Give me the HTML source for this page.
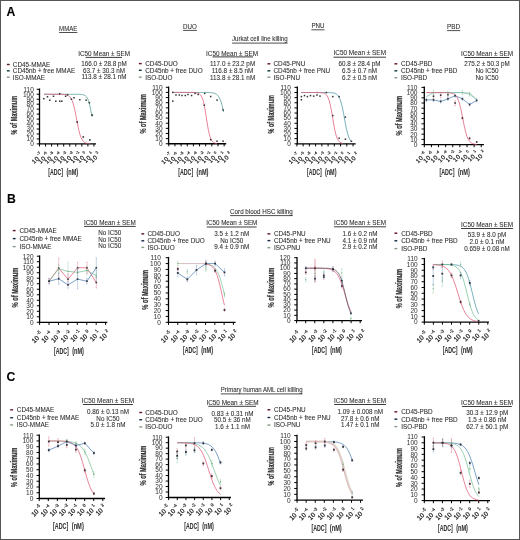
<!DOCTYPE html>
<html><head><meta charset="utf-8"><style>
html,body{margin:0;padding:0;background:#fff;width:520px;height:540px;overflow:hidden;}
svg text{font-family:"Liberation Sans", sans-serif;}
svg{will-change:transform;filter:blur(0.3px);}
</style></head><body>
<svg width="520" height="540" viewBox="0 0 520 540" style="display:block">
<g font-family='"Liberation Sans", sans-serif'>
<rect x="0" y="0" width="520" height="540" fill="#fff"/>
<text x="6.50" y="16.40" font-size="12.2" text-anchor="start" fill="#000" font-weight="bold" stroke="#000" stroke-width="0.08" >A</text>
<text x="6.90" y="202.50" font-size="12.2" text-anchor="start" fill="#000" font-weight="bold" stroke="#000" stroke-width="0.08" >B</text>
<text x="6.60" y="380.60" font-size="12.2" text-anchor="start" fill="#000" font-weight="bold" stroke="#000" stroke-width="0.08" >C</text>
<text transform="translate(59.10,30.80) scale(0.93,1)" x="0" y="0" font-size="6.7" text-anchor="start" fill="#2e2e2e" font-weight="normal" textLength="19.57" lengthAdjust="spacingAndGlyphs" stroke="#2e2e2e" stroke-width="0.08" >MMAE</text>
<line x1="59.10" y1="32.50" x2="77.30" y2="32.50" stroke="#222" stroke-width="0.8" />
<text transform="translate(183.10,28.70) scale(0.93,1)" x="0" y="0" font-size="6.7" text-anchor="start" fill="#2e2e2e" font-weight="normal" textLength="14.84" lengthAdjust="spacingAndGlyphs" stroke="#2e2e2e" stroke-width="0.08" >DUO</text>
<line x1="183.10" y1="30.40" x2="196.90" y2="30.40" stroke="#222" stroke-width="0.8" />
<text transform="translate(311.40,27.70) scale(0.93,1)" x="0" y="0" font-size="6.7" text-anchor="start" fill="#2e2e2e" font-weight="normal" textLength="14.09" lengthAdjust="spacingAndGlyphs" stroke="#2e2e2e" stroke-width="0.08" >PNU</text>
<line x1="311.40" y1="29.80" x2="324.50" y2="29.80" stroke="#222" stroke-width="0.8" />
<text transform="translate(447.10,28.70) scale(0.93,1)" x="0" y="0" font-size="6.7" text-anchor="start" fill="#2e2e2e" font-weight="normal" textLength="14.09" lengthAdjust="spacingAndGlyphs" stroke="#2e2e2e" stroke-width="0.08" >PBD</text>
<line x1="447.10" y1="30.60" x2="460.20" y2="30.60" stroke="#222" stroke-width="0.8" />
<text transform="translate(232.00,41.40) scale(0.93,1)" x="0" y="0" font-size="6.6" text-anchor="start" fill="#2e2e2e" font-weight="normal" textLength="59.78" lengthAdjust="spacingAndGlyphs" stroke="#2e2e2e" stroke-width="0.08" >Jurkat cell line killing</text>
<line x1="232.00" y1="43.10" x2="287.60" y2="43.10" stroke="#222" stroke-width="0.8" />
<line x1="6.40" y1="64.50" x2="10.20" y2="64.50" stroke="#f3b5c2" stroke-width="1.0" />
<rect x="7.00" y="63.80" width="2.6" height="1.4" fill="#5a1c2c"/>
<text transform="translate(12.80,66.80) scale(0.935,1)" x="0" y="0" font-size="6.8" text-anchor="start" fill="#2e2e2e" font-weight="normal" stroke="#2e2e2e" stroke-width="0.08" >CD45-MMAE</text>
<line x1="6.40" y1="70.80" x2="10.20" y2="70.80" stroke="#a8d8d4" stroke-width="1.0" />
<rect x="7.00" y="70.10" width="2.6" height="1.4" fill="#1c3a3c"/>
<text transform="translate(12.80,73.10) scale(0.935,1)" x="0" y="0" font-size="6.8" text-anchor="start" fill="#2e2e2e" font-weight="normal" stroke="#2e2e2e" stroke-width="0.08" >CD45nb + free MMAE</text>
<line x1="6.40" y1="77.20" x2="10.20" y2="77.20" stroke="#d5e3d5" stroke-width="1.0" />
<rect x="7.00" y="76.50" width="2.6" height="1.4" fill="#8a9a88"/>
<text transform="translate(12.80,79.50) scale(0.935,1)" x="0" y="0" font-size="6.8" text-anchor="start" fill="#2e2e2e" font-weight="normal" stroke="#2e2e2e" stroke-width="0.08" >ISO-MMAE</text>
<line x1="138.40" y1="63.60" x2="142.20" y2="63.60" stroke="#f3b5c2" stroke-width="1.0" />
<rect x="139.00" y="62.90" width="2.6" height="1.4" fill="#5a1c2c"/>
<text transform="translate(145.20,65.90) scale(0.935,1)" x="0" y="0" font-size="6.8" text-anchor="start" fill="#2e2e2e" font-weight="normal" stroke="#2e2e2e" stroke-width="0.08" >CD45-DUO</text>
<line x1="138.40" y1="70.30" x2="142.20" y2="70.30" stroke="#a8d8d4" stroke-width="1.0" />
<rect x="139.00" y="69.60" width="2.6" height="1.4" fill="#1c3a3c"/>
<text transform="translate(145.20,72.60) scale(0.935,1)" x="0" y="0" font-size="6.8" text-anchor="start" fill="#2e2e2e" font-weight="normal" stroke="#2e2e2e" stroke-width="0.08" >CD45nb + free DUO</text>
<line x1="138.40" y1="77.20" x2="142.20" y2="77.20" stroke="#d5e3d5" stroke-width="1.0" />
<rect x="139.00" y="76.50" width="2.6" height="1.4" fill="#8a9a88"/>
<text transform="translate(145.20,79.50) scale(0.935,1)" x="0" y="0" font-size="6.8" text-anchor="start" fill="#2e2e2e" font-weight="normal" stroke="#2e2e2e" stroke-width="0.08" >ISO-DUO</text>
<line x1="266.95" y1="63.80" x2="270.75" y2="63.80" stroke="#f3b5c2" stroke-width="1.0" />
<rect x="267.55" y="63.10" width="2.6" height="1.4" fill="#5a1c2c"/>
<text transform="translate(273.50,66.10) scale(0.935,1)" x="0" y="0" font-size="6.8" text-anchor="start" fill="#2e2e2e" font-weight="normal" stroke="#2e2e2e" stroke-width="0.08" >CD45-PNU</text>
<line x1="266.95" y1="70.80" x2="270.75" y2="70.80" stroke="#a8d8d4" stroke-width="1.0" />
<rect x="267.55" y="70.10" width="2.6" height="1.4" fill="#1c3a3c"/>
<text transform="translate(273.50,73.10) scale(0.935,1)" x="0" y="0" font-size="6.8" text-anchor="start" fill="#2e2e2e" font-weight="normal" stroke="#2e2e2e" stroke-width="0.08" >CD45nb + free PNU</text>
<line x1="266.95" y1="77.20" x2="270.75" y2="77.20" stroke="#d5e3d5" stroke-width="1.0" />
<rect x="267.55" y="76.50" width="2.6" height="1.4" fill="#8a9a88"/>
<text transform="translate(273.50,79.50) scale(0.935,1)" x="0" y="0" font-size="6.8" text-anchor="start" fill="#2e2e2e" font-weight="normal" stroke="#2e2e2e" stroke-width="0.08" >ISO-PNU</text>
<line x1="393.95" y1="63.80" x2="397.75" y2="63.80" stroke="#f3b5c2" stroke-width="1.0" />
<rect x="394.55" y="63.10" width="2.6" height="1.4" fill="#5a1c2c"/>
<text transform="translate(401.00,66.10) scale(0.935,1)" x="0" y="0" font-size="6.8" text-anchor="start" fill="#2e2e2e" font-weight="normal" stroke="#2e2e2e" stroke-width="0.08" >CD45-PBD</text>
<line x1="393.95" y1="70.80" x2="397.75" y2="70.80" stroke="#a8d8d4" stroke-width="1.0" />
<rect x="394.55" y="70.10" width="2.6" height="1.4" fill="#1c3a3c"/>
<text transform="translate(401.00,73.10) scale(0.935,1)" x="0" y="0" font-size="6.8" text-anchor="start" fill="#2e2e2e" font-weight="normal" stroke="#2e2e2e" stroke-width="0.08" >CD45nb + free PBD</text>
<line x1="393.95" y1="77.70" x2="397.75" y2="77.70" stroke="#d5e3d5" stroke-width="1.0" />
<rect x="394.55" y="77.00" width="2.6" height="1.4" fill="#8a9a88"/>
<text transform="translate(401.00,80.00) scale(0.935,1)" x="0" y="0" font-size="6.8" text-anchor="start" fill="#2e2e2e" font-weight="normal" stroke="#2e2e2e" stroke-width="0.08" >ISO-PBD</text>
<text transform="translate(78.20,55.70) scale(0.93,1)" x="0" y="0" font-size="6.8" text-anchor="start" fill="#2e2e2e" font-weight="normal" textLength="55.70" lengthAdjust="spacingAndGlyphs" stroke="#2e2e2e" stroke-width="0.08" >IC50 Mean ± SEM</text>
<line x1="85.60" y1="57.40" x2="121.90" y2="57.40" stroke="#1a1a1a" stroke-width="0.85" />
<text transform="translate(104.00,65.85) scale(0.93,1)" x="0" y="0" font-size="6.8" text-anchor="middle" fill="#2e2e2e" font-weight="normal" stroke="#2e2e2e" stroke-width="0.08" >166.0 ± 28.8 pM</text>
<text transform="translate(104.00,73.05) scale(0.93,1)" x="0" y="0" font-size="6.8" text-anchor="middle" fill="#2e2e2e" font-weight="normal" stroke="#2e2e2e" stroke-width="0.08" >63.7 ± 30.3 nM</text>
<text transform="translate(104.00,79.45) scale(0.93,1)" x="0" y="0" font-size="6.8" text-anchor="middle" fill="#2e2e2e" font-weight="normal" stroke="#2e2e2e" stroke-width="0.08" >113.8 ± 28.1 nM</text>
<text transform="translate(206.00,55.60) scale(0.93,1)" x="0" y="0" font-size="6.8" text-anchor="start" fill="#2e2e2e" font-weight="normal" textLength="56.02" lengthAdjust="spacingAndGlyphs" stroke="#2e2e2e" stroke-width="0.08" >IC50 Mean ± SEM</text>
<line x1="212.50" y1="56.90" x2="253.00" y2="56.90" stroke="#1a1a1a" stroke-width="0.85" />
<text transform="translate(232.60,66.05) scale(0.93,1)" x="0" y="0" font-size="6.8" text-anchor="middle" fill="#2e2e2e" font-weight="normal" stroke="#2e2e2e" stroke-width="0.08" >117.0 ± 23.2 pM</text>
<text transform="translate(232.60,73.05) scale(0.93,1)" x="0" y="0" font-size="6.8" text-anchor="middle" fill="#2e2e2e" font-weight="normal" stroke="#2e2e2e" stroke-width="0.08" >116.8 ± 8.5 nM</text>
<text transform="translate(232.60,79.65) scale(0.93,1)" x="0" y="0" font-size="6.8" text-anchor="middle" fill="#2e2e2e" font-weight="normal" stroke="#2e2e2e" stroke-width="0.08" >113.8 ± 28.1 nM</text>
<text transform="translate(333.50,55.10) scale(0.93,1)" x="0" y="0" font-size="6.8" text-anchor="start" fill="#2e2e2e" font-weight="normal" textLength="56.45" lengthAdjust="spacingAndGlyphs" stroke="#2e2e2e" stroke-width="0.08" >IC50 Mean ± SEM</text>
<line x1="333.50" y1="57.20" x2="386.00" y2="57.20" stroke="#1a1a1a" stroke-width="0.85" />
<text transform="translate(359.60,66.05) scale(0.93,1)" x="0" y="0" font-size="6.8" text-anchor="middle" fill="#2e2e2e" font-weight="normal" stroke="#2e2e2e" stroke-width="0.08" >60.8 ± 28.4 pM</text>
<text transform="translate(359.60,73.05) scale(0.93,1)" x="0" y="0" font-size="6.8" text-anchor="middle" fill="#2e2e2e" font-weight="normal" stroke="#2e2e2e" stroke-width="0.08" >6.5 ± 0.7 nM</text>
<text transform="translate(359.60,79.95) scale(0.93,1)" x="0" y="0" font-size="6.8" text-anchor="middle" fill="#2e2e2e" font-weight="normal" stroke="#2e2e2e" stroke-width="0.08" >6.2 ± 0.5 nM</text>
<text transform="translate(461.00,55.60) scale(0.93,1)" x="0" y="0" font-size="6.8" text-anchor="start" fill="#2e2e2e" font-weight="normal" textLength="56.02" lengthAdjust="spacingAndGlyphs" stroke="#2e2e2e" stroke-width="0.08" >IC50 Mean ± SEM</text>
<line x1="464.40" y1="57.50" x2="509.40" y2="57.50" stroke="#1a1a1a" stroke-width="0.85" />
<text transform="translate(487.00,66.05) scale(0.93,1)" x="0" y="0" font-size="6.8" text-anchor="middle" fill="#2e2e2e" font-weight="normal" stroke="#2e2e2e" stroke-width="0.08" >275.2 ± 50.3 pM</text>
<text transform="translate(487.00,73.25) scale(0.93,1)" x="0" y="0" font-size="6.8" text-anchor="middle" fill="#2e2e2e" font-weight="normal" stroke="#2e2e2e" stroke-width="0.08" >No IC50</text>
<text transform="translate(487.00,79.65) scale(0.93,1)" x="0" y="0" font-size="6.8" text-anchor="middle" fill="#2e2e2e" font-weight="normal" stroke="#2e2e2e" stroke-width="0.08" >No IC50</text>
<text transform="translate(230.10,213.80) scale(0.93,1)" x="0" y="0" font-size="6.6" text-anchor="start" fill="#2e2e2e" font-weight="normal" textLength="67.31" lengthAdjust="spacingAndGlyphs" stroke="#2e2e2e" stroke-width="0.08" >Cord blood HSC killing</text>
<line x1="230.10" y1="215.60" x2="292.70" y2="215.60" stroke="#222" stroke-width="0.8" />
<line x1="12.30" y1="230.60" x2="16.10" y2="230.60" stroke="#f3b5c2" stroke-width="1.0" />
<rect x="12.90" y="229.90" width="2.6" height="1.4" fill="#5a1c2c"/>
<text transform="translate(19.40,232.90) scale(0.935,1)" x="0" y="0" font-size="6.8" text-anchor="start" fill="#2e2e2e" font-weight="normal" stroke="#2e2e2e" stroke-width="0.08" >CD45-MMAE</text>
<line x1="12.30" y1="238.60" x2="16.10" y2="238.60" stroke="#b8cce6" stroke-width="1.0" />
<rect x="12.90" y="237.90" width="2.6" height="1.4" fill="#1c2c40"/>
<text transform="translate(19.40,240.90) scale(0.935,1)" x="0" y="0" font-size="6.8" text-anchor="start" fill="#2e2e2e" font-weight="normal" stroke="#2e2e2e" stroke-width="0.08" >CD45nb + free MMAE</text>
<line x1="12.30" y1="246.60" x2="16.10" y2="246.60" stroke="#d5e3d5" stroke-width="1.0" />
<rect x="12.90" y="245.90" width="2.6" height="1.4" fill="#8a9a88"/>
<text transform="translate(19.40,248.90) scale(0.935,1)" x="0" y="0" font-size="6.8" text-anchor="start" fill="#2e2e2e" font-weight="normal" stroke="#2e2e2e" stroke-width="0.08" >ISO-MMAE</text>
<line x1="140.90" y1="233.80" x2="144.70" y2="233.80" stroke="#f3b5c2" stroke-width="1.0" />
<rect x="141.50" y="233.10" width="2.6" height="1.4" fill="#5a1c2c"/>
<text transform="translate(147.40,236.10) scale(0.935,1)" x="0" y="0" font-size="6.8" text-anchor="start" fill="#2e2e2e" font-weight="normal" stroke="#2e2e2e" stroke-width="0.08" >CD45-DUO</text>
<line x1="140.90" y1="240.80" x2="144.70" y2="240.80" stroke="#b8cce6" stroke-width="1.0" />
<rect x="141.50" y="240.10" width="2.6" height="1.4" fill="#1c2c40"/>
<text transform="translate(147.40,243.10) scale(0.935,1)" x="0" y="0" font-size="6.8" text-anchor="start" fill="#2e2e2e" font-weight="normal" stroke="#2e2e2e" stroke-width="0.08" >CD45nb + free DUO</text>
<line x1="140.90" y1="247.40" x2="144.70" y2="247.40" stroke="#d5e3d5" stroke-width="1.0" />
<rect x="141.50" y="246.70" width="2.6" height="1.4" fill="#8a9a88"/>
<text transform="translate(147.40,249.70) scale(0.935,1)" x="0" y="0" font-size="6.8" text-anchor="start" fill="#2e2e2e" font-weight="normal" stroke="#2e2e2e" stroke-width="0.08" >ISO-DUO</text>
<line x1="267.00" y1="233.80" x2="270.80" y2="233.80" stroke="#f3b5c2" stroke-width="1.0" />
<rect x="267.60" y="233.10" width="2.6" height="1.4" fill="#5a1c2c"/>
<text transform="translate(273.90,236.10) scale(0.935,1)" x="0" y="0" font-size="6.8" text-anchor="start" fill="#2e2e2e" font-weight="normal" stroke="#2e2e2e" stroke-width="0.08" >CD45-PNU</text>
<line x1="267.00" y1="240.60" x2="270.80" y2="240.60" stroke="#b8cce6" stroke-width="1.0" />
<rect x="267.60" y="239.90" width="2.6" height="1.4" fill="#1c2c40"/>
<text transform="translate(273.90,242.90) scale(0.935,1)" x="0" y="0" font-size="6.8" text-anchor="start" fill="#2e2e2e" font-weight="normal" stroke="#2e2e2e" stroke-width="0.08" >CD45nb + free PNU</text>
<line x1="267.00" y1="247.70" x2="270.80" y2="247.70" stroke="#d5e3d5" stroke-width="1.0" />
<rect x="267.60" y="247.00" width="2.6" height="1.4" fill="#8a9a88"/>
<text transform="translate(273.90,250.00) scale(0.935,1)" x="0" y="0" font-size="6.8" text-anchor="start" fill="#2e2e2e" font-weight="normal" stroke="#2e2e2e" stroke-width="0.08" >ISO-PNU</text>
<line x1="393.95" y1="233.20" x2="397.75" y2="233.20" stroke="#f3b5c2" stroke-width="1.0" />
<rect x="394.55" y="232.50" width="2.6" height="1.4" fill="#5a1c2c"/>
<text transform="translate(401.25,235.50) scale(0.935,1)" x="0" y="0" font-size="6.8" text-anchor="start" fill="#2e2e2e" font-weight="normal" stroke="#2e2e2e" stroke-width="0.08" >CD45-PBD</text>
<line x1="393.95" y1="240.80" x2="397.75" y2="240.80" stroke="#b8cce6" stroke-width="1.0" />
<rect x="394.55" y="240.10" width="2.6" height="1.4" fill="#1c2c40"/>
<text transform="translate(401.25,243.10) scale(0.935,1)" x="0" y="0" font-size="6.8" text-anchor="start" fill="#2e2e2e" font-weight="normal" stroke="#2e2e2e" stroke-width="0.08" >CD45nb + free PBD</text>
<line x1="393.95" y1="248.60" x2="397.75" y2="248.60" stroke="#d5e3d5" stroke-width="1.0" />
<rect x="394.55" y="247.90" width="2.6" height="1.4" fill="#8a9a88"/>
<text transform="translate(401.25,250.90) scale(0.935,1)" x="0" y="0" font-size="6.8" text-anchor="start" fill="#2e2e2e" font-weight="normal" stroke="#2e2e2e" stroke-width="0.08" >ISO-PBD</text>
<text transform="translate(84.00,224.80) scale(0.93,1)" x="0" y="0" font-size="6.8" text-anchor="start" fill="#2e2e2e" font-weight="normal" textLength="55.59" lengthAdjust="spacingAndGlyphs" stroke="#2e2e2e" stroke-width="0.08" >IC50 Mean ± SEM</text>
<line x1="84.00" y1="226.40" x2="135.70" y2="226.40" stroke="#1a1a1a" stroke-width="0.85" />
<text transform="translate(109.70,234.85) scale(0.93,1)" x="0" y="0" font-size="6.8" text-anchor="middle" fill="#2e2e2e" font-weight="normal" stroke="#2e2e2e" stroke-width="0.08" >No IC50</text>
<text transform="translate(109.70,241.55) scale(0.93,1)" x="0" y="0" font-size="6.8" text-anchor="middle" fill="#2e2e2e" font-weight="normal" stroke="#2e2e2e" stroke-width="0.08" >No IC50</text>
<text transform="translate(109.70,248.35) scale(0.93,1)" x="0" y="0" font-size="6.8" text-anchor="middle" fill="#2e2e2e" font-weight="normal" stroke="#2e2e2e" stroke-width="0.08" >No IC50</text>
<text transform="translate(206.20,224.90) scale(0.93,1)" x="0" y="0" font-size="6.8" text-anchor="start" fill="#2e2e2e" font-weight="normal" textLength="54.95" lengthAdjust="spacingAndGlyphs" stroke="#2e2e2e" stroke-width="0.08" >IC50 Mean ± SEM</text>
<line x1="206.80" y1="227.00" x2="256.60" y2="227.00" stroke="#1a1a1a" stroke-width="0.85" />
<text transform="translate(231.70,235.65) scale(0.93,1)" x="0" y="0" font-size="6.8" text-anchor="middle" fill="#2e2e2e" font-weight="normal" stroke="#2e2e2e" stroke-width="0.08" >3.5 ± 1.2 nM</text>
<text transform="translate(231.70,242.85) scale(0.93,1)" x="0" y="0" font-size="6.8" text-anchor="middle" fill="#2e2e2e" font-weight="normal" stroke="#2e2e2e" stroke-width="0.08" >No IC50</text>
<text transform="translate(231.70,249.45) scale(0.93,1)" x="0" y="0" font-size="6.8" text-anchor="middle" fill="#2e2e2e" font-weight="normal" stroke="#2e2e2e" stroke-width="0.08" >9.4 ± 0.9 nM</text>
<text transform="translate(334.10,224.80) scale(0.93,1)" x="0" y="0" font-size="6.8" text-anchor="start" fill="#2e2e2e" font-weight="normal" textLength="55.81" lengthAdjust="spacingAndGlyphs" stroke="#2e2e2e" stroke-width="0.08" >IC50 Mean ± SEM</text>
<line x1="334.10" y1="226.80" x2="386.00" y2="226.80" stroke="#1a1a1a" stroke-width="0.85" />
<text transform="translate(359.90,235.85) scale(0.93,1)" x="0" y="0" font-size="6.8" text-anchor="middle" fill="#2e2e2e" font-weight="normal" stroke="#2e2e2e" stroke-width="0.08" >1.6 ± 0.2 nM</text>
<text transform="translate(359.90,242.65) scale(0.93,1)" x="0" y="0" font-size="6.8" text-anchor="middle" fill="#2e2e2e" font-weight="normal" stroke="#2e2e2e" stroke-width="0.08" >4.1 ± 0.9 nM</text>
<text transform="translate(359.90,249.45) scale(0.93,1)" x="0" y="0" font-size="6.8" text-anchor="middle" fill="#2e2e2e" font-weight="normal" stroke="#2e2e2e" stroke-width="0.08" >2.9 ± 0.2 nM</text>
<text transform="translate(461.00,227.00) scale(0.93,1)" x="0" y="0" font-size="6.8" text-anchor="start" fill="#2e2e2e" font-weight="normal" textLength="56.02" lengthAdjust="spacingAndGlyphs" stroke="#2e2e2e" stroke-width="0.08" >IC50 Mean ± SEM</text>
<line x1="461.00" y1="228.50" x2="513.10" y2="228.50" stroke="#1a1a1a" stroke-width="0.85" />
<text transform="translate(487.00,237.05) scale(0.93,1)" x="0" y="0" font-size="6.8" text-anchor="middle" fill="#2e2e2e" font-weight="normal" stroke="#2e2e2e" stroke-width="0.08" >53.9 ± 8.0 pM</text>
<text transform="translate(487.00,243.55) scale(0.93,1)" x="0" y="0" font-size="6.8" text-anchor="middle" fill="#2e2e2e" font-weight="normal" stroke="#2e2e2e" stroke-width="0.08" >2.0 ± 0.1 nM</text>
<text transform="translate(487.00,250.85) scale(0.93,1)" x="0" y="0" font-size="6.8" text-anchor="middle" fill="#2e2e2e" font-weight="normal" stroke="#2e2e2e" stroke-width="0.08" >0.659 ± 0.08 nM</text>
<text transform="translate(220.80,392.00) scale(0.93,1)" x="0" y="0" font-size="6.6" text-anchor="start" fill="#2e2e2e" font-weight="normal" textLength="87.85" lengthAdjust="spacingAndGlyphs" stroke="#2e2e2e" stroke-width="0.08" >Primary human AML cell killing</text>
<line x1="220.80" y1="393.90" x2="302.50" y2="393.90" stroke="#222" stroke-width="0.8" />
<line x1="9.70" y1="409.80" x2="13.50" y2="409.80" stroke="#f3b5c2" stroke-width="1.0" />
<rect x="10.30" y="409.10" width="2.6" height="1.4" fill="#5a1c2c"/>
<text transform="translate(16.80,412.10) scale(0.935,1)" x="0" y="0" font-size="6.8" text-anchor="start" fill="#2e2e2e" font-weight="normal" stroke="#2e2e2e" stroke-width="0.08" >CD45-MMAE</text>
<line x1="9.70" y1="417.70" x2="13.50" y2="417.70" stroke="#b8cce6" stroke-width="1.0" />
<rect x="10.30" y="417.00" width="2.6" height="1.4" fill="#1c2c40"/>
<text transform="translate(16.80,420.00) scale(0.935,1)" x="0" y="0" font-size="6.8" text-anchor="start" fill="#2e2e2e" font-weight="normal" stroke="#2e2e2e" stroke-width="0.08" >CD45nb + free MMAE</text>
<line x1="9.70" y1="424.90" x2="13.50" y2="424.90" stroke="#d5e3d5" stroke-width="1.0" />
<rect x="10.30" y="424.20" width="2.6" height="1.4" fill="#8a9a88"/>
<text transform="translate(16.80,427.20) scale(0.935,1)" x="0" y="0" font-size="6.8" text-anchor="start" fill="#2e2e2e" font-weight="normal" stroke="#2e2e2e" stroke-width="0.08" >ISO-MMAE</text>
<line x1="138.80" y1="412.50" x2="142.60" y2="412.50" stroke="#f3b5c2" stroke-width="1.0" />
<rect x="139.40" y="411.80" width="2.6" height="1.4" fill="#5a1c2c"/>
<text transform="translate(145.30,414.80) scale(0.935,1)" x="0" y="0" font-size="6.8" text-anchor="start" fill="#2e2e2e" font-weight="normal" stroke="#2e2e2e" stroke-width="0.08" >CD45-DUO</text>
<line x1="138.80" y1="419.70" x2="142.60" y2="419.70" stroke="#b8cce6" stroke-width="1.0" />
<rect x="139.40" y="419.00" width="2.6" height="1.4" fill="#1c2c40"/>
<text transform="translate(145.30,422.00) scale(0.935,1)" x="0" y="0" font-size="6.8" text-anchor="start" fill="#2e2e2e" font-weight="normal" stroke="#2e2e2e" stroke-width="0.08" >CD45nb + free DUO</text>
<line x1="138.80" y1="426.90" x2="142.60" y2="426.90" stroke="#d5e3d5" stroke-width="1.0" />
<rect x="139.40" y="426.20" width="2.6" height="1.4" fill="#8a9a88"/>
<text transform="translate(145.30,429.20) scale(0.935,1)" x="0" y="0" font-size="6.8" text-anchor="start" fill="#2e2e2e" font-weight="normal" stroke="#2e2e2e" stroke-width="0.08" >ISO-DUO</text>
<line x1="267.00" y1="409.80" x2="270.80" y2="409.80" stroke="#f3b5c2" stroke-width="1.0" />
<rect x="267.60" y="409.10" width="2.6" height="1.4" fill="#5a1c2c"/>
<text transform="translate(273.90,412.10) scale(0.935,1)" x="0" y="0" font-size="6.8" text-anchor="start" fill="#2e2e2e" font-weight="normal" stroke="#2e2e2e" stroke-width="0.08" >CD45-PNU</text>
<line x1="267.00" y1="417.50" x2="270.80" y2="417.50" stroke="#b8cce6" stroke-width="1.0" />
<rect x="267.60" y="416.80" width="2.6" height="1.4" fill="#1c2c40"/>
<text transform="translate(273.90,419.80) scale(0.935,1)" x="0" y="0" font-size="6.8" text-anchor="start" fill="#2e2e2e" font-weight="normal" stroke="#2e2e2e" stroke-width="0.08" >CD45nb + free PNU</text>
<line x1="267.00" y1="425.10" x2="270.80" y2="425.10" stroke="#d5e3d5" stroke-width="1.0" />
<rect x="267.60" y="424.40" width="2.6" height="1.4" fill="#8a9a88"/>
<text transform="translate(273.90,427.40) scale(0.935,1)" x="0" y="0" font-size="6.8" text-anchor="start" fill="#2e2e2e" font-weight="normal" stroke="#2e2e2e" stroke-width="0.08" >ISO-PNU</text>
<line x1="393.95" y1="411.80" x2="397.75" y2="411.80" stroke="#f3b5c2" stroke-width="1.0" />
<rect x="394.55" y="411.10" width="2.6" height="1.4" fill="#5a1c2c"/>
<text transform="translate(401.25,414.10) scale(0.935,1)" x="0" y="0" font-size="6.8" text-anchor="start" fill="#2e2e2e" font-weight="normal" stroke="#2e2e2e" stroke-width="0.08" >CD45-PBD</text>
<line x1="393.95" y1="419.20" x2="397.75" y2="419.20" stroke="#b8cce6" stroke-width="1.0" />
<rect x="394.55" y="418.50" width="2.6" height="1.4" fill="#1c2c40"/>
<text transform="translate(401.25,421.50) scale(0.935,1)" x="0" y="0" font-size="6.8" text-anchor="start" fill="#2e2e2e" font-weight="normal" stroke="#2e2e2e" stroke-width="0.08" >CD45nb + free PBD</text>
<line x1="393.95" y1="426.60" x2="397.75" y2="426.60" stroke="#d5e3d5" stroke-width="1.0" />
<rect x="394.55" y="425.90" width="2.6" height="1.4" fill="#8a9a88"/>
<text transform="translate(401.25,428.90) scale(0.935,1)" x="0" y="0" font-size="6.8" text-anchor="start" fill="#2e2e2e" font-weight="normal" stroke="#2e2e2e" stroke-width="0.08" >ISO-PBD</text>
<text transform="translate(81.80,402.50) scale(0.93,1)" x="0" y="0" font-size="6.8" text-anchor="start" fill="#2e2e2e" font-weight="normal" textLength="56.13" lengthAdjust="spacingAndGlyphs" stroke="#2e2e2e" stroke-width="0.08" >IC50 Mean ± SEM</text>
<line x1="82.90" y1="404.50" x2="132.90" y2="404.50" stroke="#1a1a1a" stroke-width="0.85" />
<text transform="translate(107.90,413.65) scale(0.93,1)" x="0" y="0" font-size="6.8" text-anchor="middle" fill="#2e2e2e" font-weight="normal" stroke="#2e2e2e" stroke-width="0.08" >0.86 ± 0.13 nM</text>
<text transform="translate(107.90,420.55) scale(0.93,1)" x="0" y="0" font-size="6.8" text-anchor="middle" fill="#2e2e2e" font-weight="normal" stroke="#2e2e2e" stroke-width="0.08" >No IC50</text>
<text transform="translate(107.90,427.25) scale(0.93,1)" x="0" y="0" font-size="6.8" text-anchor="middle" fill="#2e2e2e" font-weight="normal" stroke="#2e2e2e" stroke-width="0.08" >5.0 ± 1.8 nM</text>
<text transform="translate(206.40,404.70) scale(0.93,1)" x="0" y="0" font-size="6.8" text-anchor="start" fill="#2e2e2e" font-weight="normal" textLength="56.13" lengthAdjust="spacingAndGlyphs" stroke="#2e2e2e" stroke-width="0.08" >IC50 Mean ± SEM</text>
<line x1="208.20" y1="406.30" x2="256.00" y2="406.30" stroke="#1a1a1a" stroke-width="0.85" />
<text transform="translate(232.40,415.65) scale(0.93,1)" x="0" y="0" font-size="6.8" text-anchor="middle" fill="#2e2e2e" font-weight="normal" stroke="#2e2e2e" stroke-width="0.08" >0.83 ± 0.31 nM</text>
<text transform="translate(232.40,422.25) scale(0.93,1)" x="0" y="0" font-size="6.8" text-anchor="middle" fill="#2e2e2e" font-weight="normal" stroke="#2e2e2e" stroke-width="0.08" >50.5 ± 36 nM</text>
<text transform="translate(232.40,429.25) scale(0.93,1)" x="0" y="0" font-size="6.8" text-anchor="middle" fill="#2e2e2e" font-weight="normal" stroke="#2e2e2e" stroke-width="0.08" >1.6 ± 1.1 nM</text>
<text transform="translate(334.10,402.50) scale(0.93,1)" x="0" y="0" font-size="6.8" text-anchor="start" fill="#2e2e2e" font-weight="normal" textLength="55.81" lengthAdjust="spacingAndGlyphs" stroke="#2e2e2e" stroke-width="0.08" >IC50 Mean ± SEM</text>
<line x1="334.10" y1="404.50" x2="386.00" y2="404.50" stroke="#1a1a1a" stroke-width="0.85" />
<text transform="translate(360.20,413.65) scale(0.93,1)" x="0" y="0" font-size="6.8" text-anchor="middle" fill="#2e2e2e" font-weight="normal" stroke="#2e2e2e" stroke-width="0.08" >1.09 ± 0.008 nM</text>
<text transform="translate(360.20,420.55) scale(0.93,1)" x="0" y="0" font-size="6.8" text-anchor="middle" fill="#2e2e2e" font-weight="normal" stroke="#2e2e2e" stroke-width="0.08" >27.8 ± 0.6 nM</text>
<text transform="translate(360.20,427.25) scale(0.93,1)" x="0" y="0" font-size="6.8" text-anchor="middle" fill="#2e2e2e" font-weight="normal" stroke="#2e2e2e" stroke-width="0.08" >1.47 ± 0.1 nM</text>
<text transform="translate(461.00,404.75) scale(0.93,1)" x="0" y="0" font-size="6.8" text-anchor="start" fill="#2e2e2e" font-weight="normal" textLength="56.02" lengthAdjust="spacingAndGlyphs" stroke="#2e2e2e" stroke-width="0.08" >IC50 Mean ± SEM</text>
<line x1="461.90" y1="406.50" x2="511.90" y2="406.50" stroke="#1a1a1a" stroke-width="0.85" />
<text transform="translate(487.20,415.15) scale(0.93,1)" x="0" y="0" font-size="6.8" text-anchor="middle" fill="#2e2e2e" font-weight="normal" stroke="#2e2e2e" stroke-width="0.08" >30.3 ± 12.9 pM</text>
<text transform="translate(487.20,421.95) scale(0.93,1)" x="0" y="0" font-size="6.8" text-anchor="middle" fill="#2e2e2e" font-weight="normal" stroke="#2e2e2e" stroke-width="0.08" >1.5 ± 0.86 nM</text>
<text transform="translate(487.20,428.75) scale(0.93,1)" x="0" y="0" font-size="6.8" text-anchor="middle" fill="#2e2e2e" font-weight="normal" stroke="#2e2e2e" stroke-width="0.08" >62.7 ± 50.1 pM</text>
<line x1="36.70" y1="143.90" x2="39.50" y2="143.90" stroke="#000" stroke-width="1.0" />
<text x="33.80" y="146.20" font-size="6.5" text-anchor="end" fill="#3a3a3a" font-weight="normal" stroke="#3a3a3a" stroke-width="0.04" >0</text>
<line x1="36.70" y1="138.94" x2="39.50" y2="138.94" stroke="#000" stroke-width="1.0" />
<text x="33.80" y="141.24" font-size="6.5" text-anchor="end" fill="#3a3a3a" font-weight="normal" stroke="#3a3a3a" stroke-width="0.04" >10</text>
<line x1="36.70" y1="133.97" x2="39.50" y2="133.97" stroke="#000" stroke-width="1.0" />
<text x="33.80" y="136.27" font-size="6.5" text-anchor="end" fill="#3a3a3a" font-weight="normal" stroke="#3a3a3a" stroke-width="0.04" >20</text>
<line x1="36.70" y1="129.01" x2="39.50" y2="129.01" stroke="#000" stroke-width="1.0" />
<text x="33.80" y="131.31" font-size="6.5" text-anchor="end" fill="#3a3a3a" font-weight="normal" stroke="#3a3a3a" stroke-width="0.04" >30</text>
<line x1="36.70" y1="124.05" x2="39.50" y2="124.05" stroke="#000" stroke-width="1.0" />
<text x="33.80" y="126.35" font-size="6.5" text-anchor="end" fill="#3a3a3a" font-weight="normal" stroke="#3a3a3a" stroke-width="0.04" >40</text>
<line x1="36.70" y1="119.08" x2="39.50" y2="119.08" stroke="#000" stroke-width="1.0" />
<text x="33.80" y="121.38" font-size="6.5" text-anchor="end" fill="#3a3a3a" font-weight="normal" stroke="#3a3a3a" stroke-width="0.04" >50</text>
<line x1="36.70" y1="114.12" x2="39.50" y2="114.12" stroke="#000" stroke-width="1.0" />
<text x="33.80" y="116.42" font-size="6.5" text-anchor="end" fill="#3a3a3a" font-weight="normal" stroke="#3a3a3a" stroke-width="0.04" >60</text>
<line x1="36.70" y1="109.15" x2="39.50" y2="109.15" stroke="#000" stroke-width="1.0" />
<text x="33.80" y="111.45" font-size="6.5" text-anchor="end" fill="#3a3a3a" font-weight="normal" stroke="#3a3a3a" stroke-width="0.04" >70</text>
<line x1="36.70" y1="104.19" x2="39.50" y2="104.19" stroke="#000" stroke-width="1.0" />
<text x="33.80" y="106.49" font-size="6.5" text-anchor="end" fill="#3a3a3a" font-weight="normal" stroke="#3a3a3a" stroke-width="0.04" >80</text>
<line x1="36.70" y1="99.23" x2="39.50" y2="99.23" stroke="#000" stroke-width="1.0" />
<text x="33.80" y="101.53" font-size="6.5" text-anchor="end" fill="#3a3a3a" font-weight="normal" stroke="#3a3a3a" stroke-width="0.04" >90</text>
<line x1="36.70" y1="94.26" x2="39.50" y2="94.26" stroke="#000" stroke-width="1.0" />
<text x="33.80" y="96.56" font-size="6.5" text-anchor="end" fill="#3a3a3a" font-weight="normal" stroke="#3a3a3a" stroke-width="0.04" >100</text>
<line x1="36.70" y1="89.30" x2="39.50" y2="89.30" stroke="#000" stroke-width="1.0" />
<text x="33.80" y="91.60" font-size="6.5" text-anchor="end" fill="#3a3a3a" font-weight="normal" stroke="#3a3a3a" stroke-width="0.04" >110</text>
<line x1="39.50" y1="88.50" x2="39.50" y2="144.40" stroke="#000" stroke-width="1.3" />
<line x1="38.90" y1="143.90" x2="96.00" y2="143.90" stroke="#000" stroke-width="1.3" />
<line x1="39.50" y1="143.90" x2="39.50" y2="146.50" stroke="#000" stroke-width="1.0" />
<g transform="translate(36.60,158.70) rotate(-45)" fill="#222" stroke="#222" stroke-width="0.22"><text x="2.17" y="2.15" font-size="6.0" text-anchor="end" letter-spacing="0.5">10</text><text x="5.16" y="-1.15" font-size="3.7" text-anchor="middle" fill="#555">-7</text></g>
<line x1="45.55" y1="143.90" x2="45.55" y2="146.50" stroke="#000" stroke-width="1.0" />
<g transform="translate(43.07,158.58) rotate(-45)" fill="#222" stroke="#222" stroke-width="0.22"><text x="2.17" y="2.15" font-size="6.0" text-anchor="end" letter-spacing="0.5">10</text><text x="5.16" y="-1.15" font-size="3.7" text-anchor="middle" fill="#555">-6</text></g>
<line x1="51.60" y1="143.90" x2="51.60" y2="146.50" stroke="#000" stroke-width="1.0" />
<g transform="translate(49.53,158.46) rotate(-45)" fill="#222" stroke="#222" stroke-width="0.22"><text x="2.17" y="2.15" font-size="6.0" text-anchor="end" letter-spacing="0.5">10</text><text x="5.16" y="-1.15" font-size="3.7" text-anchor="middle" fill="#555">-5</text></g>
<line x1="57.65" y1="143.90" x2="57.65" y2="146.50" stroke="#000" stroke-width="1.0" />
<g transform="translate(56.00,158.33) rotate(-45)" fill="#222" stroke="#222" stroke-width="0.22"><text x="2.17" y="2.15" font-size="6.0" text-anchor="end" letter-spacing="0.5">10</text><text x="5.16" y="-1.15" font-size="3.7" text-anchor="middle" fill="#555">-4</text></g>
<line x1="63.70" y1="143.90" x2="63.70" y2="146.50" stroke="#000" stroke-width="1.0" />
<g transform="translate(62.47,158.21) rotate(-45)" fill="#222" stroke="#222" stroke-width="0.22"><text x="2.17" y="2.15" font-size="6.0" text-anchor="end" letter-spacing="0.5">10</text><text x="5.16" y="-1.15" font-size="3.7" text-anchor="middle" fill="#555">-3</text></g>
<line x1="69.75" y1="143.90" x2="69.75" y2="146.50" stroke="#000" stroke-width="1.0" />
<g transform="translate(68.93,158.09) rotate(-45)" fill="#222" stroke="#222" stroke-width="0.22"><text x="2.17" y="2.15" font-size="6.0" text-anchor="end" letter-spacing="0.5">10</text><text x="5.16" y="-1.15" font-size="3.7" text-anchor="middle" fill="#555">-2</text></g>
<line x1="75.80" y1="143.90" x2="75.80" y2="146.50" stroke="#000" stroke-width="1.0" />
<g transform="translate(75.40,157.97) rotate(-45)" fill="#222" stroke="#222" stroke-width="0.22"><text x="2.17" y="2.15" font-size="6.0" text-anchor="end" letter-spacing="0.5">10</text><text x="5.16" y="-1.15" font-size="3.7" text-anchor="middle" fill="#555">-1</text></g>
<line x1="81.85" y1="143.90" x2="81.85" y2="146.50" stroke="#000" stroke-width="1.0" />
<g transform="translate(81.87,157.84) rotate(-45)" fill="#222" stroke="#222" stroke-width="0.22"><text x="2.17" y="2.15" font-size="6.0" text-anchor="end" letter-spacing="0.5">10</text><text x="5.16" y="-1.15" font-size="3.7" text-anchor="middle" fill="#555">0</text></g>
<line x1="87.90" y1="143.90" x2="87.90" y2="146.50" stroke="#000" stroke-width="1.0" />
<g transform="translate(88.33,157.72) rotate(-45)" fill="#222" stroke="#222" stroke-width="0.22"><text x="2.17" y="2.15" font-size="6.0" text-anchor="end" letter-spacing="0.5">10</text><text x="5.16" y="-1.15" font-size="3.7" text-anchor="middle" fill="#555">1</text></g>
<line x1="93.95" y1="143.90" x2="93.95" y2="146.50" stroke="#000" stroke-width="1.0" />
<g transform="translate(94.80,157.60) rotate(-45)" fill="#222" stroke="#222" stroke-width="0.22"><text x="2.17" y="2.15" font-size="6.0" text-anchor="end" letter-spacing="0.5">10</text><text x="5.16" y="-1.15" font-size="3.7" text-anchor="middle" fill="#555">2</text></g>
<text x="0" y="0" font-size="8.2" font-weight="bold" text-anchor="middle" fill="#333" stroke="#333" stroke-width="0.25" textLength="38.4" lengthAdjust="spacingAndGlyphs" transform="translate(14.00,115.20) rotate(-90)" dy="2.9">% of Maximum</text>
<text x="48.20" y="175.20" font-size="8.6" font-weight="bold" fill="#333" stroke="#333" stroke-width="0.1" textLength="14.85" lengthAdjust="spacingAndGlyphs">[ADC]</text>
<text x="66.44" y="175.20" font-size="8.6" font-weight="bold" fill="#333" stroke="#333" stroke-width="0.1" textLength="11.76" lengthAdjust="spacingAndGlyphs">(nM)</text>
<line x1="165.80" y1="143.75" x2="168.60" y2="143.75" stroke="#000" stroke-width="1.0" />
<text x="162.60" y="146.05" font-size="6.5" text-anchor="end" fill="#3a3a3a" font-weight="normal" stroke="#3a3a3a" stroke-width="0.04" >0</text>
<line x1="165.80" y1="138.62" x2="168.60" y2="138.62" stroke="#000" stroke-width="1.0" />
<text x="162.60" y="140.92" font-size="6.5" text-anchor="end" fill="#3a3a3a" font-weight="normal" stroke="#3a3a3a" stroke-width="0.04" >10</text>
<line x1="165.80" y1="133.49" x2="168.60" y2="133.49" stroke="#000" stroke-width="1.0" />
<text x="162.60" y="135.79" font-size="6.5" text-anchor="end" fill="#3a3a3a" font-weight="normal" stroke="#3a3a3a" stroke-width="0.04" >20</text>
<line x1="165.80" y1="128.35" x2="168.60" y2="128.35" stroke="#000" stroke-width="1.0" />
<text x="162.60" y="130.65" font-size="6.5" text-anchor="end" fill="#3a3a3a" font-weight="normal" stroke="#3a3a3a" stroke-width="0.04" >30</text>
<line x1="165.80" y1="123.22" x2="168.60" y2="123.22" stroke="#000" stroke-width="1.0" />
<text x="162.60" y="125.52" font-size="6.5" text-anchor="end" fill="#3a3a3a" font-weight="normal" stroke="#3a3a3a" stroke-width="0.04" >40</text>
<line x1="165.80" y1="118.09" x2="168.60" y2="118.09" stroke="#000" stroke-width="1.0" />
<text x="162.60" y="120.39" font-size="6.5" text-anchor="end" fill="#3a3a3a" font-weight="normal" stroke="#3a3a3a" stroke-width="0.04" >50</text>
<line x1="165.80" y1="112.96" x2="168.60" y2="112.96" stroke="#000" stroke-width="1.0" />
<text x="162.60" y="115.26" font-size="6.5" text-anchor="end" fill="#3a3a3a" font-weight="normal" stroke="#3a3a3a" stroke-width="0.04" >60</text>
<line x1="165.80" y1="107.83" x2="168.60" y2="107.83" stroke="#000" stroke-width="1.0" />
<text x="162.60" y="110.13" font-size="6.5" text-anchor="end" fill="#3a3a3a" font-weight="normal" stroke="#3a3a3a" stroke-width="0.04" >70</text>
<line x1="165.80" y1="102.70" x2="168.60" y2="102.70" stroke="#000" stroke-width="1.0" />
<text x="162.60" y="105.00" font-size="6.5" text-anchor="end" fill="#3a3a3a" font-weight="normal" stroke="#3a3a3a" stroke-width="0.04" >80</text>
<line x1="165.80" y1="97.56" x2="168.60" y2="97.56" stroke="#000" stroke-width="1.0" />
<text x="162.60" y="99.86" font-size="6.5" text-anchor="end" fill="#3a3a3a" font-weight="normal" stroke="#3a3a3a" stroke-width="0.04" >90</text>
<line x1="165.80" y1="92.43" x2="168.60" y2="92.43" stroke="#000" stroke-width="1.0" />
<text x="162.60" y="94.73" font-size="6.5" text-anchor="end" fill="#3a3a3a" font-weight="normal" stroke="#3a3a3a" stroke-width="0.04" >100</text>
<line x1="165.80" y1="87.30" x2="168.60" y2="87.30" stroke="#000" stroke-width="1.0" />
<text x="162.60" y="89.60" font-size="6.5" text-anchor="end" fill="#3a3a3a" font-weight="normal" stroke="#3a3a3a" stroke-width="0.04" >110</text>
<line x1="168.60" y1="86.50" x2="168.60" y2="144.25" stroke="#000" stroke-width="1.3" />
<line x1="168.00" y1="143.75" x2="226.20" y2="143.75" stroke="#000" stroke-width="1.3" />
<line x1="168.80" y1="143.75" x2="168.80" y2="146.35" stroke="#000" stroke-width="1.0" />
<g transform="translate(166.20,159.00) rotate(-45)" fill="#222" stroke="#222" stroke-width="0.22"><text x="2.17" y="2.15" font-size="6.0" text-anchor="end" letter-spacing="0.5">10</text><text x="5.16" y="-1.15" font-size="3.7" text-anchor="middle" fill="#555">-7</text></g>
<line x1="174.95" y1="143.75" x2="174.95" y2="146.35" stroke="#000" stroke-width="1.0" />
<g transform="translate(172.90,158.84) rotate(-45)" fill="#222" stroke="#222" stroke-width="0.22"><text x="2.17" y="2.15" font-size="6.0" text-anchor="end" letter-spacing="0.5">10</text><text x="5.16" y="-1.15" font-size="3.7" text-anchor="middle" fill="#555">-6</text></g>
<line x1="181.10" y1="143.75" x2="181.10" y2="146.35" stroke="#000" stroke-width="1.0" />
<g transform="translate(179.60,158.69) rotate(-45)" fill="#222" stroke="#222" stroke-width="0.22"><text x="2.17" y="2.15" font-size="6.0" text-anchor="end" letter-spacing="0.5">10</text><text x="5.16" y="-1.15" font-size="3.7" text-anchor="middle" fill="#555">-5</text></g>
<line x1="187.25" y1="143.75" x2="187.25" y2="146.35" stroke="#000" stroke-width="1.0" />
<g transform="translate(186.30,158.53) rotate(-45)" fill="#222" stroke="#222" stroke-width="0.22"><text x="2.17" y="2.15" font-size="6.0" text-anchor="end" letter-spacing="0.5">10</text><text x="5.16" y="-1.15" font-size="3.7" text-anchor="middle" fill="#555">-4</text></g>
<line x1="193.40" y1="143.75" x2="193.40" y2="146.35" stroke="#000" stroke-width="1.0" />
<g transform="translate(193.00,158.38) rotate(-45)" fill="#222" stroke="#222" stroke-width="0.22"><text x="2.17" y="2.15" font-size="6.0" text-anchor="end" letter-spacing="0.5">10</text><text x="5.16" y="-1.15" font-size="3.7" text-anchor="middle" fill="#555">-3</text></g>
<line x1="199.55" y1="143.75" x2="199.55" y2="146.35" stroke="#000" stroke-width="1.0" />
<g transform="translate(199.70,158.22) rotate(-45)" fill="#222" stroke="#222" stroke-width="0.22"><text x="2.17" y="2.15" font-size="6.0" text-anchor="end" letter-spacing="0.5">10</text><text x="5.16" y="-1.15" font-size="3.7" text-anchor="middle" fill="#555">-2</text></g>
<line x1="205.70" y1="143.75" x2="205.70" y2="146.35" stroke="#000" stroke-width="1.0" />
<g transform="translate(206.40,158.07) rotate(-45)" fill="#222" stroke="#222" stroke-width="0.22"><text x="2.17" y="2.15" font-size="6.0" text-anchor="end" letter-spacing="0.5">10</text><text x="5.16" y="-1.15" font-size="3.7" text-anchor="middle" fill="#555">-1</text></g>
<line x1="211.85" y1="143.75" x2="211.85" y2="146.35" stroke="#000" stroke-width="1.0" />
<g transform="translate(213.10,157.91) rotate(-45)" fill="#222" stroke="#222" stroke-width="0.22"><text x="2.17" y="2.15" font-size="6.0" text-anchor="end" letter-spacing="0.5">10</text><text x="5.16" y="-1.15" font-size="3.7" text-anchor="middle" fill="#555">0</text></g>
<line x1="218.00" y1="143.75" x2="218.00" y2="146.35" stroke="#000" stroke-width="1.0" />
<g transform="translate(219.80,157.76) rotate(-45)" fill="#222" stroke="#222" stroke-width="0.22"><text x="2.17" y="2.15" font-size="6.0" text-anchor="end" letter-spacing="0.5">10</text><text x="5.16" y="-1.15" font-size="3.7" text-anchor="middle" fill="#555">1</text></g>
<line x1="224.15" y1="143.75" x2="224.15" y2="146.35" stroke="#000" stroke-width="1.0" />
<g transform="translate(226.50,157.60) rotate(-45)" fill="#222" stroke="#222" stroke-width="0.22"><text x="2.17" y="2.15" font-size="6.0" text-anchor="end" letter-spacing="0.5">10</text><text x="5.16" y="-1.15" font-size="3.7" text-anchor="middle" fill="#555">2</text></g>
<text x="0" y="0" font-size="8.2" font-weight="bold" text-anchor="middle" fill="#333" stroke="#333" stroke-width="0.25" textLength="39.3" lengthAdjust="spacingAndGlyphs" transform="translate(143.30,113.85) rotate(-90)" dy="2.9">% of Maximum</text>
<text x="178.20" y="175.40" font-size="8.6" font-weight="bold" fill="#333" stroke="#333" stroke-width="0.1" textLength="15.00" lengthAdjust="spacingAndGlyphs">[ADC]</text>
<text x="196.62" y="175.40" font-size="8.6" font-weight="bold" fill="#333" stroke="#333" stroke-width="0.1" textLength="11.88" lengthAdjust="spacingAndGlyphs">(nM)</text>
<line x1="294.50" y1="143.80" x2="297.30" y2="143.80" stroke="#000" stroke-width="1.0" />
<text x="290.80" y="146.10" font-size="6.5" text-anchor="end" fill="#3a3a3a" font-weight="normal" stroke="#3a3a3a" stroke-width="0.04" >0</text>
<line x1="294.50" y1="138.67" x2="297.30" y2="138.67" stroke="#000" stroke-width="1.0" />
<text x="290.80" y="140.97" font-size="6.5" text-anchor="end" fill="#3a3a3a" font-weight="normal" stroke="#3a3a3a" stroke-width="0.04" >10</text>
<line x1="294.50" y1="133.55" x2="297.30" y2="133.55" stroke="#000" stroke-width="1.0" />
<text x="290.80" y="135.85" font-size="6.5" text-anchor="end" fill="#3a3a3a" font-weight="normal" stroke="#3a3a3a" stroke-width="0.04" >20</text>
<line x1="294.50" y1="128.42" x2="297.30" y2="128.42" stroke="#000" stroke-width="1.0" />
<text x="290.80" y="130.72" font-size="6.5" text-anchor="end" fill="#3a3a3a" font-weight="normal" stroke="#3a3a3a" stroke-width="0.04" >30</text>
<line x1="294.50" y1="123.29" x2="297.30" y2="123.29" stroke="#000" stroke-width="1.0" />
<text x="290.80" y="125.59" font-size="6.5" text-anchor="end" fill="#3a3a3a" font-weight="normal" stroke="#3a3a3a" stroke-width="0.04" >40</text>
<line x1="294.50" y1="118.16" x2="297.30" y2="118.16" stroke="#000" stroke-width="1.0" />
<text x="290.80" y="120.46" font-size="6.5" text-anchor="end" fill="#3a3a3a" font-weight="normal" stroke="#3a3a3a" stroke-width="0.04" >50</text>
<line x1="294.50" y1="113.04" x2="297.30" y2="113.04" stroke="#000" stroke-width="1.0" />
<text x="290.80" y="115.34" font-size="6.5" text-anchor="end" fill="#3a3a3a" font-weight="normal" stroke="#3a3a3a" stroke-width="0.04" >60</text>
<line x1="294.50" y1="107.91" x2="297.30" y2="107.91" stroke="#000" stroke-width="1.0" />
<text x="290.80" y="110.21" font-size="6.5" text-anchor="end" fill="#3a3a3a" font-weight="normal" stroke="#3a3a3a" stroke-width="0.04" >70</text>
<line x1="294.50" y1="102.78" x2="297.30" y2="102.78" stroke="#000" stroke-width="1.0" />
<text x="290.80" y="105.08" font-size="6.5" text-anchor="end" fill="#3a3a3a" font-weight="normal" stroke="#3a3a3a" stroke-width="0.04" >80</text>
<line x1="294.50" y1="97.65" x2="297.30" y2="97.65" stroke="#000" stroke-width="1.0" />
<text x="290.80" y="99.95" font-size="6.5" text-anchor="end" fill="#3a3a3a" font-weight="normal" stroke="#3a3a3a" stroke-width="0.04" >90</text>
<line x1="294.50" y1="92.53" x2="297.30" y2="92.53" stroke="#000" stroke-width="1.0" />
<text x="290.80" y="94.83" font-size="6.5" text-anchor="end" fill="#3a3a3a" font-weight="normal" stroke="#3a3a3a" stroke-width="0.04" >100</text>
<line x1="294.50" y1="87.40" x2="297.30" y2="87.40" stroke="#000" stroke-width="1.0" />
<text x="290.80" y="89.70" font-size="6.5" text-anchor="end" fill="#3a3a3a" font-weight="normal" stroke="#3a3a3a" stroke-width="0.04" >110</text>
<line x1="297.30" y1="86.60" x2="297.30" y2="144.30" stroke="#000" stroke-width="1.3" />
<line x1="296.70" y1="143.80" x2="355.70" y2="143.80" stroke="#000" stroke-width="1.3" />
<line x1="296.90" y1="143.80" x2="296.90" y2="146.40" stroke="#000" stroke-width="1.0" />
<g transform="translate(293.50,158.80) rotate(-45)" fill="#222" stroke="#222" stroke-width="0.22"><text x="2.17" y="2.15" font-size="6.0" text-anchor="end" letter-spacing="0.5">10</text><text x="5.16" y="-1.15" font-size="3.7" text-anchor="middle" fill="#555">-7</text></g>
<line x1="303.14" y1="143.80" x2="303.14" y2="146.40" stroke="#000" stroke-width="1.0" />
<g transform="translate(300.16,158.73) rotate(-45)" fill="#222" stroke="#222" stroke-width="0.22"><text x="2.17" y="2.15" font-size="6.0" text-anchor="end" letter-spacing="0.5">10</text><text x="5.16" y="-1.15" font-size="3.7" text-anchor="middle" fill="#555">-6</text></g>
<line x1="309.38" y1="143.80" x2="309.38" y2="146.40" stroke="#000" stroke-width="1.0" />
<g transform="translate(306.81,158.67) rotate(-45)" fill="#222" stroke="#222" stroke-width="0.22"><text x="2.17" y="2.15" font-size="6.0" text-anchor="end" letter-spacing="0.5">10</text><text x="5.16" y="-1.15" font-size="3.7" text-anchor="middle" fill="#555">-5</text></g>
<line x1="315.62" y1="143.80" x2="315.62" y2="146.40" stroke="#000" stroke-width="1.0" />
<g transform="translate(313.47,158.60) rotate(-45)" fill="#222" stroke="#222" stroke-width="0.22"><text x="2.17" y="2.15" font-size="6.0" text-anchor="end" letter-spacing="0.5">10</text><text x="5.16" y="-1.15" font-size="3.7" text-anchor="middle" fill="#555">-4</text></g>
<line x1="321.86" y1="143.80" x2="321.86" y2="146.40" stroke="#000" stroke-width="1.0" />
<g transform="translate(320.12,158.53) rotate(-45)" fill="#222" stroke="#222" stroke-width="0.22"><text x="2.17" y="2.15" font-size="6.0" text-anchor="end" letter-spacing="0.5">10</text><text x="5.16" y="-1.15" font-size="3.7" text-anchor="middle" fill="#555">-3</text></g>
<line x1="328.10" y1="143.80" x2="328.10" y2="146.40" stroke="#000" stroke-width="1.0" />
<g transform="translate(326.78,158.47) rotate(-45)" fill="#222" stroke="#222" stroke-width="0.22"><text x="2.17" y="2.15" font-size="6.0" text-anchor="end" letter-spacing="0.5">10</text><text x="5.16" y="-1.15" font-size="3.7" text-anchor="middle" fill="#555">-2</text></g>
<line x1="334.34" y1="143.80" x2="334.34" y2="146.40" stroke="#000" stroke-width="1.0" />
<g transform="translate(333.43,158.40) rotate(-45)" fill="#222" stroke="#222" stroke-width="0.22"><text x="2.17" y="2.15" font-size="6.0" text-anchor="end" letter-spacing="0.5">10</text><text x="5.16" y="-1.15" font-size="3.7" text-anchor="middle" fill="#555">-1</text></g>
<line x1="340.58" y1="143.80" x2="340.58" y2="146.40" stroke="#000" stroke-width="1.0" />
<g transform="translate(340.09,158.33) rotate(-45)" fill="#222" stroke="#222" stroke-width="0.22"><text x="2.17" y="2.15" font-size="6.0" text-anchor="end" letter-spacing="0.5">10</text><text x="5.16" y="-1.15" font-size="3.7" text-anchor="middle" fill="#555">0</text></g>
<line x1="346.82" y1="143.80" x2="346.82" y2="146.40" stroke="#000" stroke-width="1.0" />
<g transform="translate(346.74,158.27) rotate(-45)" fill="#222" stroke="#222" stroke-width="0.22"><text x="2.17" y="2.15" font-size="6.0" text-anchor="end" letter-spacing="0.5">10</text><text x="5.16" y="-1.15" font-size="3.7" text-anchor="middle" fill="#555">1</text></g>
<line x1="353.06" y1="143.80" x2="353.06" y2="146.40" stroke="#000" stroke-width="1.0" />
<g transform="translate(353.40,158.20) rotate(-45)" fill="#222" stroke="#222" stroke-width="0.22"><text x="2.17" y="2.15" font-size="6.0" text-anchor="end" letter-spacing="0.5">10</text><text x="5.16" y="-1.15" font-size="3.7" text-anchor="middle" fill="#555">2</text></g>
<text x="0" y="0" font-size="8.2" font-weight="bold" text-anchor="middle" fill="#333" stroke="#333" stroke-width="0.25" textLength="38.4" lengthAdjust="spacingAndGlyphs" transform="translate(271.30,114.30) rotate(-90)" dy="2.9">% of Maximum</text>
<text x="307.10" y="175.00" font-size="8.6" font-weight="bold" fill="#333" stroke="#333" stroke-width="0.1" textLength="14.55" lengthAdjust="spacingAndGlyphs">[ADC]</text>
<text x="324.98" y="175.00" font-size="8.6" font-weight="bold" fill="#333" stroke="#333" stroke-width="0.1" textLength="11.52" lengthAdjust="spacingAndGlyphs">(nM)</text>
<line x1="421.50" y1="144.60" x2="424.30" y2="144.60" stroke="#000" stroke-width="1.0" />
<text x="417.40" y="146.90" font-size="6.5" text-anchor="end" fill="#3a3a3a" font-weight="normal" stroke="#3a3a3a" stroke-width="0.04" >0</text>
<line x1="421.50" y1="139.40" x2="424.30" y2="139.40" stroke="#000" stroke-width="1.0" />
<text x="417.40" y="141.70" font-size="6.5" text-anchor="end" fill="#3a3a3a" font-weight="normal" stroke="#3a3a3a" stroke-width="0.04" >10</text>
<line x1="421.50" y1="134.20" x2="424.30" y2="134.20" stroke="#000" stroke-width="1.0" />
<text x="417.40" y="136.50" font-size="6.5" text-anchor="end" fill="#3a3a3a" font-weight="normal" stroke="#3a3a3a" stroke-width="0.04" >20</text>
<line x1="421.50" y1="129.00" x2="424.30" y2="129.00" stroke="#000" stroke-width="1.0" />
<text x="417.40" y="131.30" font-size="6.5" text-anchor="end" fill="#3a3a3a" font-weight="normal" stroke="#3a3a3a" stroke-width="0.04" >30</text>
<line x1="421.50" y1="123.80" x2="424.30" y2="123.80" stroke="#000" stroke-width="1.0" />
<text x="417.40" y="126.10" font-size="6.5" text-anchor="end" fill="#3a3a3a" font-weight="normal" stroke="#3a3a3a" stroke-width="0.04" >40</text>
<line x1="421.50" y1="118.60" x2="424.30" y2="118.60" stroke="#000" stroke-width="1.0" />
<text x="417.40" y="120.90" font-size="6.5" text-anchor="end" fill="#3a3a3a" font-weight="normal" stroke="#3a3a3a" stroke-width="0.04" >50</text>
<line x1="421.50" y1="113.40" x2="424.30" y2="113.40" stroke="#000" stroke-width="1.0" />
<text x="417.40" y="115.70" font-size="6.5" text-anchor="end" fill="#3a3a3a" font-weight="normal" stroke="#3a3a3a" stroke-width="0.04" >60</text>
<line x1="421.50" y1="108.20" x2="424.30" y2="108.20" stroke="#000" stroke-width="1.0" />
<text x="417.40" y="110.50" font-size="6.5" text-anchor="end" fill="#3a3a3a" font-weight="normal" stroke="#3a3a3a" stroke-width="0.04" >70</text>
<line x1="421.50" y1="103.00" x2="424.30" y2="103.00" stroke="#000" stroke-width="1.0" />
<text x="417.40" y="105.30" font-size="6.5" text-anchor="end" fill="#3a3a3a" font-weight="normal" stroke="#3a3a3a" stroke-width="0.04" >80</text>
<line x1="421.50" y1="97.80" x2="424.30" y2="97.80" stroke="#000" stroke-width="1.0" />
<text x="417.40" y="100.10" font-size="6.5" text-anchor="end" fill="#3a3a3a" font-weight="normal" stroke="#3a3a3a" stroke-width="0.04" >90</text>
<line x1="421.50" y1="92.60" x2="424.30" y2="92.60" stroke="#000" stroke-width="1.0" />
<text x="417.40" y="94.90" font-size="6.5" text-anchor="end" fill="#3a3a3a" font-weight="normal" stroke="#3a3a3a" stroke-width="0.04" >100</text>
<line x1="421.50" y1="87.40" x2="424.30" y2="87.40" stroke="#000" stroke-width="1.0" />
<text x="417.40" y="89.70" font-size="6.5" text-anchor="end" fill="#3a3a3a" font-weight="normal" stroke="#3a3a3a" stroke-width="0.04" >110</text>
<line x1="424.30" y1="86.60" x2="424.30" y2="145.10" stroke="#000" stroke-width="1.3" />
<line x1="423.70" y1="144.60" x2="483.90" y2="144.60" stroke="#000" stroke-width="1.3" />
<line x1="424.30" y1="144.60" x2="424.30" y2="147.20" stroke="#000" stroke-width="1.0" />
<g transform="translate(420.60,158.10) rotate(-45)" fill="#222" stroke="#222" stroke-width="0.22"><text x="2.17" y="2.15" font-size="6.0" text-anchor="end" letter-spacing="0.5">10</text><text x="5.16" y="-1.15" font-size="3.7" text-anchor="middle" fill="#555">-6</text></g>
<line x1="431.42" y1="144.60" x2="431.42" y2="147.20" stroke="#000" stroke-width="1.0" />
<g transform="translate(428.05,157.86) rotate(-45)" fill="#222" stroke="#222" stroke-width="0.22"><text x="2.17" y="2.15" font-size="6.0" text-anchor="end" letter-spacing="0.5">10</text><text x="5.16" y="-1.15" font-size="3.7" text-anchor="middle" fill="#555">-5</text></g>
<line x1="438.54" y1="144.60" x2="438.54" y2="147.20" stroke="#000" stroke-width="1.0" />
<g transform="translate(435.50,157.62) rotate(-45)" fill="#222" stroke="#222" stroke-width="0.22"><text x="2.17" y="2.15" font-size="6.0" text-anchor="end" letter-spacing="0.5">10</text><text x="5.16" y="-1.15" font-size="3.7" text-anchor="middle" fill="#555">-4</text></g>
<line x1="445.66" y1="144.60" x2="445.66" y2="147.20" stroke="#000" stroke-width="1.0" />
<g transform="translate(442.95,157.39) rotate(-45)" fill="#222" stroke="#222" stroke-width="0.22"><text x="2.17" y="2.15" font-size="6.0" text-anchor="end" letter-spacing="0.5">10</text><text x="5.16" y="-1.15" font-size="3.7" text-anchor="middle" fill="#555">-3</text></g>
<line x1="452.78" y1="144.60" x2="452.78" y2="147.20" stroke="#000" stroke-width="1.0" />
<g transform="translate(450.40,157.15) rotate(-45)" fill="#222" stroke="#222" stroke-width="0.22"><text x="2.17" y="2.15" font-size="6.0" text-anchor="end" letter-spacing="0.5">10</text><text x="5.16" y="-1.15" font-size="3.7" text-anchor="middle" fill="#555">-2</text></g>
<line x1="459.90" y1="144.60" x2="459.90" y2="147.20" stroke="#000" stroke-width="1.0" />
<g transform="translate(457.85,156.91) rotate(-45)" fill="#222" stroke="#222" stroke-width="0.22"><text x="2.17" y="2.15" font-size="6.0" text-anchor="end" letter-spacing="0.5">10</text><text x="5.16" y="-1.15" font-size="3.7" text-anchor="middle" fill="#555">-1</text></g>
<line x1="467.02" y1="144.60" x2="467.02" y2="147.20" stroke="#000" stroke-width="1.0" />
<g transform="translate(465.30,156.67) rotate(-45)" fill="#222" stroke="#222" stroke-width="0.22"><text x="2.17" y="2.15" font-size="6.0" text-anchor="end" letter-spacing="0.5">10</text><text x="5.16" y="-1.15" font-size="3.7" text-anchor="middle" fill="#555">0</text></g>
<line x1="474.14" y1="144.60" x2="474.14" y2="147.20" stroke="#000" stroke-width="1.0" />
<g transform="translate(472.75,156.44) rotate(-45)" fill="#222" stroke="#222" stroke-width="0.22"><text x="2.17" y="2.15" font-size="6.0" text-anchor="end" letter-spacing="0.5">10</text><text x="5.16" y="-1.15" font-size="3.7" text-anchor="middle" fill="#555">1</text></g>
<line x1="481.26" y1="144.60" x2="481.26" y2="147.20" stroke="#000" stroke-width="1.0" />
<g transform="translate(480.20,156.20) rotate(-45)" fill="#222" stroke="#222" stroke-width="0.22"><text x="2.17" y="2.15" font-size="6.0" text-anchor="end" letter-spacing="0.5">10</text><text x="5.16" y="-1.15" font-size="3.7" text-anchor="middle" fill="#555">2</text></g>
<text x="0" y="0" font-size="8.2" font-weight="bold" text-anchor="middle" fill="#333" stroke="#333" stroke-width="0.25" textLength="39.4" lengthAdjust="spacingAndGlyphs" transform="translate(399.00,115.70) rotate(-90)" dy="2.9">% of Maximum</text>
<text x="439.40" y="175.20" font-size="8.6" font-weight="bold" fill="#333" stroke="#333" stroke-width="0.1" textLength="15.05" lengthAdjust="spacingAndGlyphs">[ADC]</text>
<text x="457.88" y="175.20" font-size="8.6" font-weight="bold" fill="#333" stroke="#333" stroke-width="0.1" textLength="11.92" lengthAdjust="spacingAndGlyphs">(nM)</text>
<line x1="36.80" y1="322.30" x2="39.60" y2="322.30" stroke="#000" stroke-width="1.0" />
<text x="33.60" y="324.60" font-size="6.5" text-anchor="end" fill="#3a3a3a" font-weight="normal" stroke="#3a3a3a" stroke-width="0.04" >0</text>
<line x1="36.80" y1="316.79" x2="39.60" y2="316.79" stroke="#000" stroke-width="1.0" />
<text x="33.60" y="319.09" font-size="6.5" text-anchor="end" fill="#3a3a3a" font-weight="normal" stroke="#3a3a3a" stroke-width="0.04" >10</text>
<line x1="36.80" y1="311.28" x2="39.60" y2="311.28" stroke="#000" stroke-width="1.0" />
<text x="33.60" y="313.58" font-size="6.5" text-anchor="end" fill="#3a3a3a" font-weight="normal" stroke="#3a3a3a" stroke-width="0.04" >20</text>
<line x1="36.80" y1="305.77" x2="39.60" y2="305.77" stroke="#000" stroke-width="1.0" />
<text x="33.60" y="308.07" font-size="6.5" text-anchor="end" fill="#3a3a3a" font-weight="normal" stroke="#3a3a3a" stroke-width="0.04" >30</text>
<line x1="36.80" y1="300.27" x2="39.60" y2="300.27" stroke="#000" stroke-width="1.0" />
<text x="33.60" y="302.57" font-size="6.5" text-anchor="end" fill="#3a3a3a" font-weight="normal" stroke="#3a3a3a" stroke-width="0.04" >40</text>
<line x1="36.80" y1="294.76" x2="39.60" y2="294.76" stroke="#000" stroke-width="1.0" />
<text x="33.60" y="297.06" font-size="6.5" text-anchor="end" fill="#3a3a3a" font-weight="normal" stroke="#3a3a3a" stroke-width="0.04" >50</text>
<line x1="36.80" y1="289.25" x2="39.60" y2="289.25" stroke="#000" stroke-width="1.0" />
<text x="33.60" y="291.55" font-size="6.5" text-anchor="end" fill="#3a3a3a" font-weight="normal" stroke="#3a3a3a" stroke-width="0.04" >60</text>
<line x1="36.80" y1="283.74" x2="39.60" y2="283.74" stroke="#000" stroke-width="1.0" />
<text x="33.60" y="286.04" font-size="6.5" text-anchor="end" fill="#3a3a3a" font-weight="normal" stroke="#3a3a3a" stroke-width="0.04" >70</text>
<line x1="36.80" y1="278.23" x2="39.60" y2="278.23" stroke="#000" stroke-width="1.0" />
<text x="33.60" y="280.53" font-size="6.5" text-anchor="end" fill="#3a3a3a" font-weight="normal" stroke="#3a3a3a" stroke-width="0.04" >80</text>
<line x1="36.80" y1="272.73" x2="39.60" y2="272.73" stroke="#000" stroke-width="1.0" />
<text x="33.60" y="275.03" font-size="6.5" text-anchor="end" fill="#3a3a3a" font-weight="normal" stroke="#3a3a3a" stroke-width="0.04" >90</text>
<line x1="36.80" y1="267.22" x2="39.60" y2="267.22" stroke="#000" stroke-width="1.0" />
<text x="33.60" y="269.52" font-size="6.5" text-anchor="end" fill="#3a3a3a" font-weight="normal" stroke="#3a3a3a" stroke-width="0.04" >100</text>
<line x1="36.80" y1="261.71" x2="39.60" y2="261.71" stroke="#000" stroke-width="1.0" />
<text x="33.60" y="264.01" font-size="6.5" text-anchor="end" fill="#3a3a3a" font-weight="normal" stroke="#3a3a3a" stroke-width="0.04" >110</text>
<line x1="36.80" y1="256.20" x2="39.60" y2="256.20" stroke="#000" stroke-width="1.0" />
<text x="33.60" y="258.50" font-size="6.5" text-anchor="end" fill="#3a3a3a" font-weight="normal" stroke="#3a3a3a" stroke-width="0.04" >120</text>
<line x1="39.60" y1="255.40" x2="39.60" y2="322.80" stroke="#000" stroke-width="1.3" />
<line x1="39.00" y1="322.30" x2="107.30" y2="322.30" stroke="#000" stroke-width="1.3" />
<line x1="39.60" y1="322.30" x2="39.60" y2="324.90" stroke="#000" stroke-width="1.0" />
<g transform="translate(36.50,338.00) rotate(-45)" fill="#222" stroke="#222" stroke-width="0.22"><text x="1.83" y="2.36" font-size="6.6" text-anchor="end" letter-spacing="0.0">10</text><text x="5.16" y="-0.90" font-size="4.4" text-anchor="middle" fill="#555">-5</text></g>
<line x1="49.03" y1="322.30" x2="49.03" y2="324.90" stroke="#000" stroke-width="1.0" />
<g transform="translate(46.19,337.69) rotate(-45)" fill="#222" stroke="#222" stroke-width="0.22"><text x="1.83" y="2.36" font-size="6.6" text-anchor="end" letter-spacing="0.0">10</text><text x="5.16" y="-0.90" font-size="4.4" text-anchor="middle" fill="#555">-4</text></g>
<line x1="58.46" y1="322.30" x2="58.46" y2="324.90" stroke="#000" stroke-width="1.0" />
<g transform="translate(55.87,337.37) rotate(-45)" fill="#222" stroke="#222" stroke-width="0.22"><text x="1.83" y="2.36" font-size="6.6" text-anchor="end" letter-spacing="0.0">10</text><text x="5.16" y="-0.90" font-size="4.4" text-anchor="middle" fill="#555">-3</text></g>
<line x1="67.89" y1="322.30" x2="67.89" y2="324.90" stroke="#000" stroke-width="1.0" />
<g transform="translate(65.56,337.06) rotate(-45)" fill="#222" stroke="#222" stroke-width="0.22"><text x="1.83" y="2.36" font-size="6.6" text-anchor="end" letter-spacing="0.0">10</text><text x="5.16" y="-0.90" font-size="4.4" text-anchor="middle" fill="#555">-2</text></g>
<line x1="77.32" y1="322.30" x2="77.32" y2="324.90" stroke="#000" stroke-width="1.0" />
<g transform="translate(75.24,336.74) rotate(-45)" fill="#222" stroke="#222" stroke-width="0.22"><text x="1.83" y="2.36" font-size="6.6" text-anchor="end" letter-spacing="0.0">10</text><text x="5.16" y="-0.90" font-size="4.4" text-anchor="middle" fill="#555">-1</text></g>
<line x1="86.75" y1="322.30" x2="86.75" y2="324.90" stroke="#000" stroke-width="1.0" />
<g transform="translate(84.93,336.43) rotate(-45)" fill="#222" stroke="#222" stroke-width="0.22"><text x="1.83" y="2.36" font-size="6.6" text-anchor="end" letter-spacing="0.0">10</text><text x="5.16" y="-0.90" font-size="4.4" text-anchor="middle" fill="#555">0</text></g>
<line x1="96.18" y1="322.30" x2="96.18" y2="324.90" stroke="#000" stroke-width="1.0" />
<g transform="translate(94.61,336.11) rotate(-45)" fill="#222" stroke="#222" stroke-width="0.22"><text x="1.83" y="2.36" font-size="6.6" text-anchor="end" letter-spacing="0.0">10</text><text x="5.16" y="-0.90" font-size="4.4" text-anchor="middle" fill="#555">1</text></g>
<line x1="105.61" y1="322.30" x2="105.61" y2="324.90" stroke="#000" stroke-width="1.0" />
<g transform="translate(104.30,335.80) rotate(-45)" fill="#222" stroke="#222" stroke-width="0.22"><text x="1.83" y="2.36" font-size="6.6" text-anchor="end" letter-spacing="0.0">10</text><text x="5.16" y="-0.90" font-size="4.4" text-anchor="middle" fill="#555">2</text></g>
<text x="0" y="0" font-size="8.2" font-weight="bold" text-anchor="middle" fill="#333" stroke="#333" stroke-width="0.25" textLength="39.8" lengthAdjust="spacingAndGlyphs" transform="translate(14.60,287.50) rotate(-90)" dy="2.9">% of Maximum</text>
<text x="54.00" y="353.60" font-size="8.6" font-weight="bold" fill="#333" stroke="#333" stroke-width="0.1" textLength="14.80" lengthAdjust="spacingAndGlyphs">[ADC]</text>
<text x="72.18" y="353.60" font-size="8.6" font-weight="bold" fill="#333" stroke="#333" stroke-width="0.1" textLength="11.72" lengthAdjust="spacingAndGlyphs">(nM)</text>
<line x1="165.70" y1="322.30" x2="168.50" y2="322.30" stroke="#000" stroke-width="1.0" />
<text x="160.90" y="324.60" font-size="6.5" text-anchor="end" fill="#3a3a3a" font-weight="normal" stroke="#3a3a3a" stroke-width="0.04" >0</text>
<line x1="165.70" y1="316.43" x2="168.50" y2="316.43" stroke="#000" stroke-width="1.0" />
<text x="160.90" y="318.73" font-size="6.5" text-anchor="end" fill="#3a3a3a" font-weight="normal" stroke="#3a3a3a" stroke-width="0.04" >10</text>
<line x1="165.70" y1="310.55" x2="168.50" y2="310.55" stroke="#000" stroke-width="1.0" />
<text x="160.90" y="312.85" font-size="6.5" text-anchor="end" fill="#3a3a3a" font-weight="normal" stroke="#3a3a3a" stroke-width="0.04" >20</text>
<line x1="165.70" y1="304.68" x2="168.50" y2="304.68" stroke="#000" stroke-width="1.0" />
<text x="160.90" y="306.98" font-size="6.5" text-anchor="end" fill="#3a3a3a" font-weight="normal" stroke="#3a3a3a" stroke-width="0.04" >30</text>
<line x1="165.70" y1="298.81" x2="168.50" y2="298.81" stroke="#000" stroke-width="1.0" />
<text x="160.90" y="301.11" font-size="6.5" text-anchor="end" fill="#3a3a3a" font-weight="normal" stroke="#3a3a3a" stroke-width="0.04" >40</text>
<line x1="165.70" y1="292.94" x2="168.50" y2="292.94" stroke="#000" stroke-width="1.0" />
<text x="160.90" y="295.24" font-size="6.5" text-anchor="end" fill="#3a3a3a" font-weight="normal" stroke="#3a3a3a" stroke-width="0.04" >50</text>
<line x1="165.70" y1="287.06" x2="168.50" y2="287.06" stroke="#000" stroke-width="1.0" />
<text x="160.90" y="289.36" font-size="6.5" text-anchor="end" fill="#3a3a3a" font-weight="normal" stroke="#3a3a3a" stroke-width="0.04" >60</text>
<line x1="165.70" y1="281.19" x2="168.50" y2="281.19" stroke="#000" stroke-width="1.0" />
<text x="160.90" y="283.49" font-size="6.5" text-anchor="end" fill="#3a3a3a" font-weight="normal" stroke="#3a3a3a" stroke-width="0.04" >70</text>
<line x1="165.70" y1="275.32" x2="168.50" y2="275.32" stroke="#000" stroke-width="1.0" />
<text x="160.90" y="277.62" font-size="6.5" text-anchor="end" fill="#3a3a3a" font-weight="normal" stroke="#3a3a3a" stroke-width="0.04" >80</text>
<line x1="165.70" y1="269.45" x2="168.50" y2="269.45" stroke="#000" stroke-width="1.0" />
<text x="160.90" y="271.75" font-size="6.5" text-anchor="end" fill="#3a3a3a" font-weight="normal" stroke="#3a3a3a" stroke-width="0.04" >90</text>
<line x1="165.70" y1="263.57" x2="168.50" y2="263.57" stroke="#000" stroke-width="1.0" />
<text x="160.90" y="265.87" font-size="6.5" text-anchor="end" fill="#3a3a3a" font-weight="normal" stroke="#3a3a3a" stroke-width="0.04" >100</text>
<line x1="165.70" y1="257.70" x2="168.50" y2="257.70" stroke="#000" stroke-width="1.0" />
<text x="160.90" y="260.00" font-size="6.5" text-anchor="end" fill="#3a3a3a" font-weight="normal" stroke="#3a3a3a" stroke-width="0.04" >110</text>
<line x1="168.50" y1="256.90" x2="168.50" y2="322.80" stroke="#000" stroke-width="1.3" />
<line x1="167.90" y1="322.30" x2="235.60" y2="322.30" stroke="#000" stroke-width="1.3" />
<line x1="168.50" y1="322.30" x2="168.50" y2="324.90" stroke="#000" stroke-width="1.0" />
<g transform="translate(165.80,337.60) rotate(-45)" fill="#222" stroke="#222" stroke-width="0.22"><text x="1.83" y="2.36" font-size="6.6" text-anchor="end" letter-spacing="0.0">10</text><text x="5.16" y="-0.90" font-size="4.4" text-anchor="middle" fill="#555">-5</text></g>
<line x1="177.77" y1="322.30" x2="177.77" y2="324.90" stroke="#000" stroke-width="1.0" />
<g transform="translate(175.34,337.34) rotate(-45)" fill="#222" stroke="#222" stroke-width="0.22"><text x="1.83" y="2.36" font-size="6.6" text-anchor="end" letter-spacing="0.0">10</text><text x="5.16" y="-0.90" font-size="4.4" text-anchor="middle" fill="#555">-4</text></g>
<line x1="187.04" y1="322.30" x2="187.04" y2="324.90" stroke="#000" stroke-width="1.0" />
<g transform="translate(184.89,337.09) rotate(-45)" fill="#222" stroke="#222" stroke-width="0.22"><text x="1.83" y="2.36" font-size="6.6" text-anchor="end" letter-spacing="0.0">10</text><text x="5.16" y="-0.90" font-size="4.4" text-anchor="middle" fill="#555">-3</text></g>
<line x1="196.31" y1="322.30" x2="196.31" y2="324.90" stroke="#000" stroke-width="1.0" />
<g transform="translate(194.43,336.83) rotate(-45)" fill="#222" stroke="#222" stroke-width="0.22"><text x="1.83" y="2.36" font-size="6.6" text-anchor="end" letter-spacing="0.0">10</text><text x="5.16" y="-0.90" font-size="4.4" text-anchor="middle" fill="#555">-2</text></g>
<line x1="205.58" y1="322.30" x2="205.58" y2="324.90" stroke="#000" stroke-width="1.0" />
<g transform="translate(203.97,336.57) rotate(-45)" fill="#222" stroke="#222" stroke-width="0.22"><text x="1.83" y="2.36" font-size="6.6" text-anchor="end" letter-spacing="0.0">10</text><text x="5.16" y="-0.90" font-size="4.4" text-anchor="middle" fill="#555">-1</text></g>
<line x1="214.85" y1="322.30" x2="214.85" y2="324.90" stroke="#000" stroke-width="1.0" />
<g transform="translate(213.51,336.31) rotate(-45)" fill="#222" stroke="#222" stroke-width="0.22"><text x="1.83" y="2.36" font-size="6.6" text-anchor="end" letter-spacing="0.0">10</text><text x="5.16" y="-0.90" font-size="4.4" text-anchor="middle" fill="#555">0</text></g>
<line x1="224.12" y1="322.30" x2="224.12" y2="324.90" stroke="#000" stroke-width="1.0" />
<g transform="translate(223.06,336.06) rotate(-45)" fill="#222" stroke="#222" stroke-width="0.22"><text x="1.83" y="2.36" font-size="6.6" text-anchor="end" letter-spacing="0.0">10</text><text x="5.16" y="-0.90" font-size="4.4" text-anchor="middle" fill="#555">1</text></g>
<line x1="233.39" y1="322.30" x2="233.39" y2="324.90" stroke="#000" stroke-width="1.0" />
<g transform="translate(232.60,335.80) rotate(-45)" fill="#222" stroke="#222" stroke-width="0.22"><text x="1.83" y="2.36" font-size="6.6" text-anchor="end" letter-spacing="0.0">10</text><text x="5.16" y="-0.90" font-size="4.4" text-anchor="middle" fill="#555">2</text></g>
<text x="0" y="0" font-size="8.2" font-weight="bold" text-anchor="middle" fill="#333" stroke="#333" stroke-width="0.25" textLength="39.8" lengthAdjust="spacingAndGlyphs" transform="translate(145.00,289.80) rotate(-90)" dy="2.9">% of Maximum</text>
<text x="183.00" y="353.40" font-size="8.6" font-weight="bold" fill="#333" stroke="#333" stroke-width="0.1" textLength="14.85" lengthAdjust="spacingAndGlyphs">[ADC]</text>
<text x="201.24" y="353.40" font-size="8.6" font-weight="bold" fill="#333" stroke="#333" stroke-width="0.1" textLength="11.76" lengthAdjust="spacingAndGlyphs">(nM)</text>
<line x1="294.20" y1="320.60" x2="297.00" y2="320.60" stroke="#000" stroke-width="1.0" />
<text x="290.50" y="322.90" font-size="6.5" text-anchor="end" fill="#3a3a3a" font-weight="normal" stroke="#3a3a3a" stroke-width="0.04" >0</text>
<line x1="294.20" y1="315.36" x2="297.00" y2="315.36" stroke="#000" stroke-width="1.0" />
<text x="290.50" y="317.66" font-size="6.5" text-anchor="end" fill="#3a3a3a" font-weight="normal" stroke="#3a3a3a" stroke-width="0.04" >10</text>
<line x1="294.20" y1="310.12" x2="297.00" y2="310.12" stroke="#000" stroke-width="1.0" />
<text x="290.50" y="312.42" font-size="6.5" text-anchor="end" fill="#3a3a3a" font-weight="normal" stroke="#3a3a3a" stroke-width="0.04" >20</text>
<line x1="294.20" y1="304.88" x2="297.00" y2="304.88" stroke="#000" stroke-width="1.0" />
<text x="290.50" y="307.18" font-size="6.5" text-anchor="end" fill="#3a3a3a" font-weight="normal" stroke="#3a3a3a" stroke-width="0.04" >30</text>
<line x1="294.20" y1="299.63" x2="297.00" y2="299.63" stroke="#000" stroke-width="1.0" />
<text x="290.50" y="301.93" font-size="6.5" text-anchor="end" fill="#3a3a3a" font-weight="normal" stroke="#3a3a3a" stroke-width="0.04" >40</text>
<line x1="294.20" y1="294.39" x2="297.00" y2="294.39" stroke="#000" stroke-width="1.0" />
<text x="290.50" y="296.69" font-size="6.5" text-anchor="end" fill="#3a3a3a" font-weight="normal" stroke="#3a3a3a" stroke-width="0.04" >50</text>
<line x1="294.20" y1="289.15" x2="297.00" y2="289.15" stroke="#000" stroke-width="1.0" />
<text x="290.50" y="291.45" font-size="6.5" text-anchor="end" fill="#3a3a3a" font-weight="normal" stroke="#3a3a3a" stroke-width="0.04" >60</text>
<line x1="294.20" y1="283.91" x2="297.00" y2="283.91" stroke="#000" stroke-width="1.0" />
<text x="290.50" y="286.21" font-size="6.5" text-anchor="end" fill="#3a3a3a" font-weight="normal" stroke="#3a3a3a" stroke-width="0.04" >70</text>
<line x1="294.20" y1="278.67" x2="297.00" y2="278.67" stroke="#000" stroke-width="1.0" />
<text x="290.50" y="280.97" font-size="6.5" text-anchor="end" fill="#3a3a3a" font-weight="normal" stroke="#3a3a3a" stroke-width="0.04" >80</text>
<line x1="294.20" y1="273.43" x2="297.00" y2="273.43" stroke="#000" stroke-width="1.0" />
<text x="290.50" y="275.73" font-size="6.5" text-anchor="end" fill="#3a3a3a" font-weight="normal" stroke="#3a3a3a" stroke-width="0.04" >90</text>
<line x1="294.20" y1="268.18" x2="297.00" y2="268.18" stroke="#000" stroke-width="1.0" />
<text x="290.50" y="270.48" font-size="6.5" text-anchor="end" fill="#3a3a3a" font-weight="normal" stroke="#3a3a3a" stroke-width="0.04" >100</text>
<line x1="294.20" y1="262.94" x2="297.00" y2="262.94" stroke="#000" stroke-width="1.0" />
<text x="290.50" y="265.24" font-size="6.5" text-anchor="end" fill="#3a3a3a" font-weight="normal" stroke="#3a3a3a" stroke-width="0.04" >110</text>
<line x1="294.20" y1="257.70" x2="297.00" y2="257.70" stroke="#000" stroke-width="1.0" />
<text x="290.50" y="260.00" font-size="6.5" text-anchor="end" fill="#3a3a3a" font-weight="normal" stroke="#3a3a3a" stroke-width="0.04" >120</text>
<line x1="297.00" y1="256.90" x2="297.00" y2="321.10" stroke="#000" stroke-width="1.3" />
<line x1="296.40" y1="320.60" x2="362.00" y2="320.60" stroke="#000" stroke-width="1.3" />
<line x1="296.60" y1="320.60" x2="296.60" y2="323.20" stroke="#000" stroke-width="1.0" />
<g transform="translate(294.20,337.40) rotate(-45)" fill="#222" stroke="#222" stroke-width="0.22"><text x="1.83" y="2.36" font-size="6.6" text-anchor="end" letter-spacing="0.0">10</text><text x="5.16" y="-0.90" font-size="4.4" text-anchor="middle" fill="#555">-5</text></g>
<line x1="305.68" y1="320.60" x2="305.68" y2="323.20" stroke="#000" stroke-width="1.0" />
<g transform="translate(303.70,337.16) rotate(-45)" fill="#222" stroke="#222" stroke-width="0.22"><text x="1.83" y="2.36" font-size="6.6" text-anchor="end" letter-spacing="0.0">10</text><text x="5.16" y="-0.90" font-size="4.4" text-anchor="middle" fill="#555">-4</text></g>
<line x1="314.76" y1="320.60" x2="314.76" y2="323.20" stroke="#000" stroke-width="1.0" />
<g transform="translate(313.20,336.91) rotate(-45)" fill="#222" stroke="#222" stroke-width="0.22"><text x="1.83" y="2.36" font-size="6.6" text-anchor="end" letter-spacing="0.0">10</text><text x="5.16" y="-0.90" font-size="4.4" text-anchor="middle" fill="#555">-3</text></g>
<line x1="323.84" y1="320.60" x2="323.84" y2="323.20" stroke="#000" stroke-width="1.0" />
<g transform="translate(322.70,336.67) rotate(-45)" fill="#222" stroke="#222" stroke-width="0.22"><text x="1.83" y="2.36" font-size="6.6" text-anchor="end" letter-spacing="0.0">10</text><text x="5.16" y="-0.90" font-size="4.4" text-anchor="middle" fill="#555">-2</text></g>
<line x1="332.92" y1="320.60" x2="332.92" y2="323.20" stroke="#000" stroke-width="1.0" />
<g transform="translate(332.20,336.43) rotate(-45)" fill="#222" stroke="#222" stroke-width="0.22"><text x="1.83" y="2.36" font-size="6.6" text-anchor="end" letter-spacing="0.0">10</text><text x="5.16" y="-0.90" font-size="4.4" text-anchor="middle" fill="#555">-1</text></g>
<line x1="342.00" y1="320.60" x2="342.00" y2="323.20" stroke="#000" stroke-width="1.0" />
<g transform="translate(341.70,336.19) rotate(-45)" fill="#222" stroke="#222" stroke-width="0.22"><text x="1.83" y="2.36" font-size="6.6" text-anchor="end" letter-spacing="0.0">10</text><text x="5.16" y="-0.90" font-size="4.4" text-anchor="middle" fill="#555">0</text></g>
<line x1="351.08" y1="320.60" x2="351.08" y2="323.20" stroke="#000" stroke-width="1.0" />
<g transform="translate(351.20,335.94) rotate(-45)" fill="#222" stroke="#222" stroke-width="0.22"><text x="1.83" y="2.36" font-size="6.6" text-anchor="end" letter-spacing="0.0">10</text><text x="5.16" y="-0.90" font-size="4.4" text-anchor="middle" fill="#555">1</text></g>
<line x1="360.16" y1="320.60" x2="360.16" y2="323.20" stroke="#000" stroke-width="1.0" />
<g transform="translate(360.70,335.70) rotate(-45)" fill="#222" stroke="#222" stroke-width="0.22"><text x="1.83" y="2.36" font-size="6.6" text-anchor="end" letter-spacing="0.0">10</text><text x="5.16" y="-0.90" font-size="4.4" text-anchor="middle" fill="#555">2</text></g>
<text x="0" y="0" font-size="8.2" font-weight="bold" text-anchor="middle" fill="#333" stroke="#333" stroke-width="0.25" textLength="39.8" lengthAdjust="spacingAndGlyphs" transform="translate(271.30,287.50) rotate(-90)" dy="2.9">% of Maximum</text>
<text x="311.90" y="353.40" font-size="8.6" font-weight="bold" fill="#333" stroke="#333" stroke-width="0.1" textLength="14.85" lengthAdjust="spacingAndGlyphs">[ADC]</text>
<text x="330.14" y="353.40" font-size="8.6" font-weight="bold" fill="#333" stroke="#333" stroke-width="0.1" textLength="11.76" lengthAdjust="spacingAndGlyphs">(nM)</text>
<line x1="421.60" y1="322.10" x2="424.40" y2="322.10" stroke="#000" stroke-width="1.0" />
<text x="417.70" y="324.40" font-size="6.5" text-anchor="end" fill="#3a3a3a" font-weight="normal" stroke="#3a3a3a" stroke-width="0.04" >0</text>
<line x1="421.60" y1="316.34" x2="424.40" y2="316.34" stroke="#000" stroke-width="1.0" />
<text x="417.70" y="318.64" font-size="6.5" text-anchor="end" fill="#3a3a3a" font-weight="normal" stroke="#3a3a3a" stroke-width="0.04" >10</text>
<line x1="421.60" y1="310.57" x2="424.40" y2="310.57" stroke="#000" stroke-width="1.0" />
<text x="417.70" y="312.87" font-size="6.5" text-anchor="end" fill="#3a3a3a" font-weight="normal" stroke="#3a3a3a" stroke-width="0.04" >20</text>
<line x1="421.60" y1="304.81" x2="424.40" y2="304.81" stroke="#000" stroke-width="1.0" />
<text x="417.70" y="307.11" font-size="6.5" text-anchor="end" fill="#3a3a3a" font-weight="normal" stroke="#3a3a3a" stroke-width="0.04" >30</text>
<line x1="421.60" y1="299.05" x2="424.40" y2="299.05" stroke="#000" stroke-width="1.0" />
<text x="417.70" y="301.35" font-size="6.5" text-anchor="end" fill="#3a3a3a" font-weight="normal" stroke="#3a3a3a" stroke-width="0.04" >40</text>
<line x1="421.60" y1="293.28" x2="424.40" y2="293.28" stroke="#000" stroke-width="1.0" />
<text x="417.70" y="295.58" font-size="6.5" text-anchor="end" fill="#3a3a3a" font-weight="normal" stroke="#3a3a3a" stroke-width="0.04" >50</text>
<line x1="421.60" y1="287.52" x2="424.40" y2="287.52" stroke="#000" stroke-width="1.0" />
<text x="417.70" y="289.82" font-size="6.5" text-anchor="end" fill="#3a3a3a" font-weight="normal" stroke="#3a3a3a" stroke-width="0.04" >60</text>
<line x1="421.60" y1="281.75" x2="424.40" y2="281.75" stroke="#000" stroke-width="1.0" />
<text x="417.70" y="284.05" font-size="6.5" text-anchor="end" fill="#3a3a3a" font-weight="normal" stroke="#3a3a3a" stroke-width="0.04" >70</text>
<line x1="421.60" y1="275.99" x2="424.40" y2="275.99" stroke="#000" stroke-width="1.0" />
<text x="417.70" y="278.29" font-size="6.5" text-anchor="end" fill="#3a3a3a" font-weight="normal" stroke="#3a3a3a" stroke-width="0.04" >80</text>
<line x1="421.60" y1="270.23" x2="424.40" y2="270.23" stroke="#000" stroke-width="1.0" />
<text x="417.70" y="272.53" font-size="6.5" text-anchor="end" fill="#3a3a3a" font-weight="normal" stroke="#3a3a3a" stroke-width="0.04" >90</text>
<line x1="421.60" y1="264.46" x2="424.40" y2="264.46" stroke="#000" stroke-width="1.0" />
<text x="417.70" y="266.76" font-size="6.5" text-anchor="end" fill="#3a3a3a" font-weight="normal" stroke="#3a3a3a" stroke-width="0.04" >100</text>
<line x1="421.60" y1="258.70" x2="424.40" y2="258.70" stroke="#000" stroke-width="1.0" />
<text x="417.70" y="261.00" font-size="6.5" text-anchor="end" fill="#3a3a3a" font-weight="normal" stroke="#3a3a3a" stroke-width="0.04" >110</text>
<line x1="424.40" y1="257.90" x2="424.40" y2="322.60" stroke="#000" stroke-width="1.3" />
<line x1="423.80" y1="322.10" x2="489.00" y2="322.10" stroke="#000" stroke-width="1.3" />
<line x1="424.30" y1="322.10" x2="424.30" y2="324.70" stroke="#000" stroke-width="1.0" />
<g transform="translate(421.40,337.60) rotate(-45)" fill="#222" stroke="#222" stroke-width="0.22"><text x="1.83" y="2.36" font-size="6.6" text-anchor="end" letter-spacing="0.0">10</text><text x="5.16" y="-0.90" font-size="4.4" text-anchor="middle" fill="#555">-5</text></g>
<line x1="433.37" y1="322.10" x2="433.37" y2="324.70" stroke="#000" stroke-width="1.0" />
<g transform="translate(430.67,337.30) rotate(-45)" fill="#222" stroke="#222" stroke-width="0.22"><text x="1.83" y="2.36" font-size="6.6" text-anchor="end" letter-spacing="0.0">10</text><text x="5.16" y="-0.90" font-size="4.4" text-anchor="middle" fill="#555">-4</text></g>
<line x1="442.44" y1="322.10" x2="442.44" y2="324.70" stroke="#000" stroke-width="1.0" />
<g transform="translate(439.94,337.00) rotate(-45)" fill="#222" stroke="#222" stroke-width="0.22"><text x="1.83" y="2.36" font-size="6.6" text-anchor="end" letter-spacing="0.0">10</text><text x="5.16" y="-0.90" font-size="4.4" text-anchor="middle" fill="#555">-3</text></g>
<line x1="451.51" y1="322.10" x2="451.51" y2="324.70" stroke="#000" stroke-width="1.0" />
<g transform="translate(449.21,336.70) rotate(-45)" fill="#222" stroke="#222" stroke-width="0.22"><text x="1.83" y="2.36" font-size="6.6" text-anchor="end" letter-spacing="0.0">10</text><text x="5.16" y="-0.90" font-size="4.4" text-anchor="middle" fill="#555">-2</text></g>
<line x1="460.58" y1="322.10" x2="460.58" y2="324.70" stroke="#000" stroke-width="1.0" />
<g transform="translate(458.49,336.40) rotate(-45)" fill="#222" stroke="#222" stroke-width="0.22"><text x="1.83" y="2.36" font-size="6.6" text-anchor="end" letter-spacing="0.0">10</text><text x="5.16" y="-0.90" font-size="4.4" text-anchor="middle" fill="#555">-1</text></g>
<line x1="469.65" y1="322.10" x2="469.65" y2="324.70" stroke="#000" stroke-width="1.0" />
<g transform="translate(467.76,336.10) rotate(-45)" fill="#222" stroke="#222" stroke-width="0.22"><text x="1.83" y="2.36" font-size="6.6" text-anchor="end" letter-spacing="0.0">10</text><text x="5.16" y="-0.90" font-size="4.4" text-anchor="middle" fill="#555">0</text></g>
<line x1="478.72" y1="322.10" x2="478.72" y2="324.70" stroke="#000" stroke-width="1.0" />
<g transform="translate(477.03,335.80) rotate(-45)" fill="#222" stroke="#222" stroke-width="0.22"><text x="1.83" y="2.36" font-size="6.6" text-anchor="end" letter-spacing="0.0">10</text><text x="5.16" y="-0.90" font-size="4.4" text-anchor="middle" fill="#555">1</text></g>
<line x1="487.79" y1="322.10" x2="487.79" y2="324.70" stroke="#000" stroke-width="1.0" />
<g transform="translate(486.30,335.50) rotate(-45)" fill="#222" stroke="#222" stroke-width="0.22"><text x="1.83" y="2.36" font-size="6.6" text-anchor="end" letter-spacing="0.0">10</text><text x="5.16" y="-0.90" font-size="4.4" text-anchor="middle" fill="#555">2</text></g>
<text x="0" y="0" font-size="8.2" font-weight="bold" text-anchor="middle" fill="#333" stroke="#333" stroke-width="0.25" textLength="39.4" lengthAdjust="spacingAndGlyphs" transform="translate(398.80,288.60) rotate(-90)" dy="2.9">% of Maximum</text>
<text x="442.70" y="353.40" font-size="8.6" font-weight="bold" fill="#333" stroke="#333" stroke-width="0.1" textLength="14.85" lengthAdjust="spacingAndGlyphs">[ADC]</text>
<text x="460.94" y="353.40" font-size="8.6" font-weight="bold" fill="#333" stroke="#333" stroke-width="0.1" textLength="11.76" lengthAdjust="spacingAndGlyphs">(nM)</text>
<line x1="36.50" y1="498.50" x2="39.30" y2="498.50" stroke="#000" stroke-width="1.0" />
<text x="33.30" y="500.80" font-size="6.5" text-anchor="end" fill="#3a3a3a" font-weight="normal" stroke="#3a3a3a" stroke-width="0.04" >0</text>
<line x1="36.50" y1="492.75" x2="39.30" y2="492.75" stroke="#000" stroke-width="1.0" />
<text x="33.30" y="495.05" font-size="6.5" text-anchor="end" fill="#3a3a3a" font-weight="normal" stroke="#3a3a3a" stroke-width="0.04" >10</text>
<line x1="36.50" y1="486.99" x2="39.30" y2="486.99" stroke="#000" stroke-width="1.0" />
<text x="33.30" y="489.29" font-size="6.5" text-anchor="end" fill="#3a3a3a" font-weight="normal" stroke="#3a3a3a" stroke-width="0.04" >20</text>
<line x1="36.50" y1="481.24" x2="39.30" y2="481.24" stroke="#000" stroke-width="1.0" />
<text x="33.30" y="483.54" font-size="6.5" text-anchor="end" fill="#3a3a3a" font-weight="normal" stroke="#3a3a3a" stroke-width="0.04" >30</text>
<line x1="36.50" y1="475.48" x2="39.30" y2="475.48" stroke="#000" stroke-width="1.0" />
<text x="33.30" y="477.78" font-size="6.5" text-anchor="end" fill="#3a3a3a" font-weight="normal" stroke="#3a3a3a" stroke-width="0.04" >40</text>
<line x1="36.50" y1="469.73" x2="39.30" y2="469.73" stroke="#000" stroke-width="1.0" />
<text x="33.30" y="472.03" font-size="6.5" text-anchor="end" fill="#3a3a3a" font-weight="normal" stroke="#3a3a3a" stroke-width="0.04" >50</text>
<line x1="36.50" y1="463.97" x2="39.30" y2="463.97" stroke="#000" stroke-width="1.0" />
<text x="33.30" y="466.27" font-size="6.5" text-anchor="end" fill="#3a3a3a" font-weight="normal" stroke="#3a3a3a" stroke-width="0.04" >60</text>
<line x1="36.50" y1="458.22" x2="39.30" y2="458.22" stroke="#000" stroke-width="1.0" />
<text x="33.30" y="460.52" font-size="6.5" text-anchor="end" fill="#3a3a3a" font-weight="normal" stroke="#3a3a3a" stroke-width="0.04" >70</text>
<line x1="36.50" y1="452.46" x2="39.30" y2="452.46" stroke="#000" stroke-width="1.0" />
<text x="33.30" y="454.76" font-size="6.5" text-anchor="end" fill="#3a3a3a" font-weight="normal" stroke="#3a3a3a" stroke-width="0.04" >80</text>
<line x1="36.50" y1="446.71" x2="39.30" y2="446.71" stroke="#000" stroke-width="1.0" />
<text x="33.30" y="449.01" font-size="6.5" text-anchor="end" fill="#3a3a3a" font-weight="normal" stroke="#3a3a3a" stroke-width="0.04" >90</text>
<line x1="36.50" y1="440.95" x2="39.30" y2="440.95" stroke="#000" stroke-width="1.0" />
<text x="33.30" y="443.25" font-size="6.5" text-anchor="end" fill="#3a3a3a" font-weight="normal" stroke="#3a3a3a" stroke-width="0.04" >100</text>
<line x1="36.50" y1="435.20" x2="39.30" y2="435.20" stroke="#000" stroke-width="1.0" />
<text x="33.30" y="437.50" font-size="6.5" text-anchor="end" fill="#3a3a3a" font-weight="normal" stroke="#3a3a3a" stroke-width="0.04" >110</text>
<line x1="39.30" y1="434.40" x2="39.30" y2="499.00" stroke="#000" stroke-width="1.3" />
<line x1="38.70" y1="498.50" x2="105.00" y2="498.50" stroke="#000" stroke-width="1.3" />
<line x1="39.20" y1="498.50" x2="39.20" y2="501.10" stroke="#000" stroke-width="1.0" />
<g transform="translate(36.20,511.50) rotate(-45)" fill="#222" stroke="#222" stroke-width="0.22"><text x="1.83" y="2.36" font-size="6.6" text-anchor="end" letter-spacing="0.0">10</text><text x="5.16" y="-0.90" font-size="4.4" text-anchor="middle" fill="#555">-5</text></g>
<line x1="48.29" y1="498.50" x2="48.29" y2="501.10" stroke="#000" stroke-width="1.0" />
<g transform="translate(45.37,511.34) rotate(-45)" fill="#222" stroke="#222" stroke-width="0.22"><text x="1.83" y="2.36" font-size="6.6" text-anchor="end" letter-spacing="0.0">10</text><text x="5.16" y="-0.90" font-size="4.4" text-anchor="middle" fill="#555">-4</text></g>
<line x1="57.38" y1="498.50" x2="57.38" y2="501.10" stroke="#000" stroke-width="1.0" />
<g transform="translate(54.54,511.19) rotate(-45)" fill="#222" stroke="#222" stroke-width="0.22"><text x="1.83" y="2.36" font-size="6.6" text-anchor="end" letter-spacing="0.0">10</text><text x="5.16" y="-0.90" font-size="4.4" text-anchor="middle" fill="#555">-3</text></g>
<line x1="66.47" y1="498.50" x2="66.47" y2="501.10" stroke="#000" stroke-width="1.0" />
<g transform="translate(63.71,511.03) rotate(-45)" fill="#222" stroke="#222" stroke-width="0.22"><text x="1.83" y="2.36" font-size="6.6" text-anchor="end" letter-spacing="0.0">10</text><text x="5.16" y="-0.90" font-size="4.4" text-anchor="middle" fill="#555">-2</text></g>
<line x1="75.56" y1="498.50" x2="75.56" y2="501.10" stroke="#000" stroke-width="1.0" />
<g transform="translate(72.89,510.87) rotate(-45)" fill="#222" stroke="#222" stroke-width="0.22"><text x="1.83" y="2.36" font-size="6.6" text-anchor="end" letter-spacing="0.0">10</text><text x="5.16" y="-0.90" font-size="4.4" text-anchor="middle" fill="#555">-1</text></g>
<line x1="84.65" y1="498.50" x2="84.65" y2="501.10" stroke="#000" stroke-width="1.0" />
<g transform="translate(82.06,510.71) rotate(-45)" fill="#222" stroke="#222" stroke-width="0.22"><text x="1.83" y="2.36" font-size="6.6" text-anchor="end" letter-spacing="0.0">10</text><text x="5.16" y="-0.90" font-size="4.4" text-anchor="middle" fill="#555">0</text></g>
<line x1="93.74" y1="498.50" x2="93.74" y2="501.10" stroke="#000" stroke-width="1.0" />
<g transform="translate(91.23,510.56) rotate(-45)" fill="#222" stroke="#222" stroke-width="0.22"><text x="1.83" y="2.36" font-size="6.6" text-anchor="end" letter-spacing="0.0">10</text><text x="5.16" y="-0.90" font-size="4.4" text-anchor="middle" fill="#555">1</text></g>
<line x1="102.83" y1="498.50" x2="102.83" y2="501.10" stroke="#000" stroke-width="1.0" />
<g transform="translate(100.40,510.40) rotate(-45)" fill="#222" stroke="#222" stroke-width="0.22"><text x="1.83" y="2.36" font-size="6.6" text-anchor="end" letter-spacing="0.0">10</text><text x="5.16" y="-0.90" font-size="4.4" text-anchor="middle" fill="#555">2</text></g>
<text x="0" y="0" font-size="8.2" font-weight="bold" text-anchor="middle" fill="#333" stroke="#333" stroke-width="0.25" textLength="39.3" lengthAdjust="spacingAndGlyphs" transform="translate(14.20,467.30) rotate(-90)" dy="2.9">% of Maximum</text>
<text x="53.00" y="528.90" font-size="8.6" font-weight="bold" fill="#333" stroke="#333" stroke-width="0.1" textLength="15.25" lengthAdjust="spacingAndGlyphs">[ADC]</text>
<text x="71.73" y="528.90" font-size="8.6" font-weight="bold" fill="#333" stroke="#333" stroke-width="0.1" textLength="12.07" lengthAdjust="spacingAndGlyphs">(nM)</text>
<line x1="165.70" y1="497.50" x2="168.50" y2="497.50" stroke="#000" stroke-width="1.0" />
<text x="162.50" y="499.80" font-size="6.5" text-anchor="end" fill="#3a3a3a" font-weight="normal" stroke="#3a3a3a" stroke-width="0.04" >0</text>
<line x1="165.70" y1="492.02" x2="168.50" y2="492.02" stroke="#000" stroke-width="1.0" />
<text x="162.50" y="494.32" font-size="6.5" text-anchor="end" fill="#3a3a3a" font-weight="normal" stroke="#3a3a3a" stroke-width="0.04" >10</text>
<line x1="165.70" y1="486.54" x2="168.50" y2="486.54" stroke="#000" stroke-width="1.0" />
<text x="162.50" y="488.84" font-size="6.5" text-anchor="end" fill="#3a3a3a" font-weight="normal" stroke="#3a3a3a" stroke-width="0.04" >20</text>
<line x1="165.70" y1="481.05" x2="168.50" y2="481.05" stroke="#000" stroke-width="1.0" />
<text x="162.50" y="483.35" font-size="6.5" text-anchor="end" fill="#3a3a3a" font-weight="normal" stroke="#3a3a3a" stroke-width="0.04" >30</text>
<line x1="165.70" y1="475.57" x2="168.50" y2="475.57" stroke="#000" stroke-width="1.0" />
<text x="162.50" y="477.87" font-size="6.5" text-anchor="end" fill="#3a3a3a" font-weight="normal" stroke="#3a3a3a" stroke-width="0.04" >40</text>
<line x1="165.70" y1="470.09" x2="168.50" y2="470.09" stroke="#000" stroke-width="1.0" />
<text x="162.50" y="472.39" font-size="6.5" text-anchor="end" fill="#3a3a3a" font-weight="normal" stroke="#3a3a3a" stroke-width="0.04" >50</text>
<line x1="165.70" y1="464.61" x2="168.50" y2="464.61" stroke="#000" stroke-width="1.0" />
<text x="162.50" y="466.91" font-size="6.5" text-anchor="end" fill="#3a3a3a" font-weight="normal" stroke="#3a3a3a" stroke-width="0.04" >60</text>
<line x1="165.70" y1="459.13" x2="168.50" y2="459.13" stroke="#000" stroke-width="1.0" />
<text x="162.50" y="461.43" font-size="6.5" text-anchor="end" fill="#3a3a3a" font-weight="normal" stroke="#3a3a3a" stroke-width="0.04" >70</text>
<line x1="165.70" y1="453.65" x2="168.50" y2="453.65" stroke="#000" stroke-width="1.0" />
<text x="162.50" y="455.95" font-size="6.5" text-anchor="end" fill="#3a3a3a" font-weight="normal" stroke="#3a3a3a" stroke-width="0.04" >80</text>
<line x1="165.70" y1="448.16" x2="168.50" y2="448.16" stroke="#000" stroke-width="1.0" />
<text x="162.50" y="450.46" font-size="6.5" text-anchor="end" fill="#3a3a3a" font-weight="normal" stroke="#3a3a3a" stroke-width="0.04" >90</text>
<line x1="165.70" y1="442.68" x2="168.50" y2="442.68" stroke="#000" stroke-width="1.0" />
<text x="162.50" y="444.98" font-size="6.5" text-anchor="end" fill="#3a3a3a" font-weight="normal" stroke="#3a3a3a" stroke-width="0.04" >100</text>
<line x1="165.70" y1="437.20" x2="168.50" y2="437.20" stroke="#000" stroke-width="1.0" />
<text x="162.50" y="439.50" font-size="6.5" text-anchor="end" fill="#3a3a3a" font-weight="normal" stroke="#3a3a3a" stroke-width="0.04" >110</text>
<line x1="168.50" y1="436.40" x2="168.50" y2="498.00" stroke="#000" stroke-width="1.3" />
<line x1="167.90" y1="497.50" x2="231.00" y2="497.50" stroke="#000" stroke-width="1.3" />
<line x1="168.60" y1="497.50" x2="168.60" y2="500.10" stroke="#000" stroke-width="1.0" />
<g transform="translate(163.50,511.30) rotate(-45)" fill="#222" stroke="#222" stroke-width="0.22"><text x="1.83" y="2.36" font-size="6.6" text-anchor="end" letter-spacing="0.0">10</text><text x="5.16" y="-0.90" font-size="4.4" text-anchor="middle" fill="#555">-5</text></g>
<line x1="177.27" y1="497.50" x2="177.27" y2="500.10" stroke="#000" stroke-width="1.0" />
<g transform="translate(172.80,511.09) rotate(-45)" fill="#222" stroke="#222" stroke-width="0.22"><text x="1.83" y="2.36" font-size="6.6" text-anchor="end" letter-spacing="0.0">10</text><text x="5.16" y="-0.90" font-size="4.4" text-anchor="middle" fill="#555">-4</text></g>
<line x1="185.94" y1="497.50" x2="185.94" y2="500.10" stroke="#000" stroke-width="1.0" />
<g transform="translate(182.10,510.87) rotate(-45)" fill="#222" stroke="#222" stroke-width="0.22"><text x="1.83" y="2.36" font-size="6.6" text-anchor="end" letter-spacing="0.0">10</text><text x="5.16" y="-0.90" font-size="4.4" text-anchor="middle" fill="#555">-3</text></g>
<line x1="194.61" y1="497.50" x2="194.61" y2="500.10" stroke="#000" stroke-width="1.0" />
<g transform="translate(191.40,510.66) rotate(-45)" fill="#222" stroke="#222" stroke-width="0.22"><text x="1.83" y="2.36" font-size="6.6" text-anchor="end" letter-spacing="0.0">10</text><text x="5.16" y="-0.90" font-size="4.4" text-anchor="middle" fill="#555">-2</text></g>
<line x1="203.28" y1="497.50" x2="203.28" y2="500.10" stroke="#000" stroke-width="1.0" />
<g transform="translate(200.70,510.44) rotate(-45)" fill="#222" stroke="#222" stroke-width="0.22"><text x="1.83" y="2.36" font-size="6.6" text-anchor="end" letter-spacing="0.0">10</text><text x="5.16" y="-0.90" font-size="4.4" text-anchor="middle" fill="#555">-1</text></g>
<line x1="211.95" y1="497.50" x2="211.95" y2="500.10" stroke="#000" stroke-width="1.0" />
<g transform="translate(210.00,510.23) rotate(-45)" fill="#222" stroke="#222" stroke-width="0.22"><text x="1.83" y="2.36" font-size="6.6" text-anchor="end" letter-spacing="0.0">10</text><text x="5.16" y="-0.90" font-size="4.4" text-anchor="middle" fill="#555">0</text></g>
<line x1="220.62" y1="497.50" x2="220.62" y2="500.10" stroke="#000" stroke-width="1.0" />
<g transform="translate(219.30,510.01) rotate(-45)" fill="#222" stroke="#222" stroke-width="0.22"><text x="1.83" y="2.36" font-size="6.6" text-anchor="end" letter-spacing="0.0">10</text><text x="5.16" y="-0.90" font-size="4.4" text-anchor="middle" fill="#555">1</text></g>
<line x1="229.29" y1="497.50" x2="229.29" y2="500.10" stroke="#000" stroke-width="1.0" />
<g transform="translate(228.60,509.80) rotate(-45)" fill="#222" stroke="#222" stroke-width="0.22"><text x="1.83" y="2.36" font-size="6.6" text-anchor="end" letter-spacing="0.0">10</text><text x="5.16" y="-0.90" font-size="4.4" text-anchor="middle" fill="#555">2</text></g>
<text x="0" y="0" font-size="8.2" font-weight="bold" text-anchor="middle" fill="#333" stroke="#333" stroke-width="0.25" textLength="39.8" lengthAdjust="spacingAndGlyphs" transform="translate(143.30,465.60) rotate(-90)" dy="2.9">% of Maximum</text>
<text x="184.20" y="528.80" font-size="8.6" font-weight="bold" fill="#333" stroke="#333" stroke-width="0.1" textLength="14.65" lengthAdjust="spacingAndGlyphs">[ADC]</text>
<text x="202.20" y="528.80" font-size="8.6" font-weight="bold" fill="#333" stroke="#333" stroke-width="0.1" textLength="11.60" lengthAdjust="spacingAndGlyphs">(nM)</text>
<line x1="294.20" y1="500.20" x2="297.00" y2="500.20" stroke="#000" stroke-width="1.0" />
<text x="290.70" y="502.50" font-size="6.5" text-anchor="end" fill="#3a3a3a" font-weight="normal" stroke="#3a3a3a" stroke-width="0.04" >0</text>
<line x1="294.20" y1="494.33" x2="297.00" y2="494.33" stroke="#000" stroke-width="1.0" />
<text x="290.70" y="496.63" font-size="6.5" text-anchor="end" fill="#3a3a3a" font-weight="normal" stroke="#3a3a3a" stroke-width="0.04" >10</text>
<line x1="294.20" y1="488.45" x2="297.00" y2="488.45" stroke="#000" stroke-width="1.0" />
<text x="290.70" y="490.75" font-size="6.5" text-anchor="end" fill="#3a3a3a" font-weight="normal" stroke="#3a3a3a" stroke-width="0.04" >20</text>
<line x1="294.20" y1="482.58" x2="297.00" y2="482.58" stroke="#000" stroke-width="1.0" />
<text x="290.70" y="484.88" font-size="6.5" text-anchor="end" fill="#3a3a3a" font-weight="normal" stroke="#3a3a3a" stroke-width="0.04" >30</text>
<line x1="294.20" y1="476.71" x2="297.00" y2="476.71" stroke="#000" stroke-width="1.0" />
<text x="290.70" y="479.01" font-size="6.5" text-anchor="end" fill="#3a3a3a" font-weight="normal" stroke="#3a3a3a" stroke-width="0.04" >40</text>
<line x1="294.20" y1="470.84" x2="297.00" y2="470.84" stroke="#000" stroke-width="1.0" />
<text x="290.70" y="473.14" font-size="6.5" text-anchor="end" fill="#3a3a3a" font-weight="normal" stroke="#3a3a3a" stroke-width="0.04" >50</text>
<line x1="294.20" y1="464.96" x2="297.00" y2="464.96" stroke="#000" stroke-width="1.0" />
<text x="290.70" y="467.26" font-size="6.5" text-anchor="end" fill="#3a3a3a" font-weight="normal" stroke="#3a3a3a" stroke-width="0.04" >60</text>
<line x1="294.20" y1="459.09" x2="297.00" y2="459.09" stroke="#000" stroke-width="1.0" />
<text x="290.70" y="461.39" font-size="6.5" text-anchor="end" fill="#3a3a3a" font-weight="normal" stroke="#3a3a3a" stroke-width="0.04" >70</text>
<line x1="294.20" y1="453.22" x2="297.00" y2="453.22" stroke="#000" stroke-width="1.0" />
<text x="290.70" y="455.52" font-size="6.5" text-anchor="end" fill="#3a3a3a" font-weight="normal" stroke="#3a3a3a" stroke-width="0.04" >80</text>
<line x1="294.20" y1="447.35" x2="297.00" y2="447.35" stroke="#000" stroke-width="1.0" />
<text x="290.70" y="449.65" font-size="6.5" text-anchor="end" fill="#3a3a3a" font-weight="normal" stroke="#3a3a3a" stroke-width="0.04" >90</text>
<line x1="294.20" y1="441.47" x2="297.00" y2="441.47" stroke="#000" stroke-width="1.0" />
<text x="290.70" y="443.77" font-size="6.5" text-anchor="end" fill="#3a3a3a" font-weight="normal" stroke="#3a3a3a" stroke-width="0.04" >100</text>
<line x1="294.20" y1="435.60" x2="297.00" y2="435.60" stroke="#000" stroke-width="1.0" />
<text x="290.70" y="437.90" font-size="6.5" text-anchor="end" fill="#3a3a3a" font-weight="normal" stroke="#3a3a3a" stroke-width="0.04" >110</text>
<line x1="297.00" y1="434.80" x2="297.00" y2="500.70" stroke="#000" stroke-width="1.3" />
<line x1="296.40" y1="500.20" x2="363.00" y2="500.20" stroke="#000" stroke-width="1.3" />
<line x1="297.10" y1="500.20" x2="297.10" y2="502.80" stroke="#000" stroke-width="1.0" />
<g transform="translate(294.20,515.30) rotate(-45)" fill="#222" stroke="#222" stroke-width="0.22"><text x="1.83" y="2.36" font-size="6.6" text-anchor="end" letter-spacing="0.0">10</text><text x="5.16" y="-0.90" font-size="4.4" text-anchor="middle" fill="#555">-5</text></g>
<line x1="306.17" y1="500.20" x2="306.17" y2="502.80" stroke="#000" stroke-width="1.0" />
<g transform="translate(303.59,515.09) rotate(-45)" fill="#222" stroke="#222" stroke-width="0.22"><text x="1.83" y="2.36" font-size="6.6" text-anchor="end" letter-spacing="0.0">10</text><text x="5.16" y="-0.90" font-size="4.4" text-anchor="middle" fill="#555">-4</text></g>
<line x1="315.24" y1="500.20" x2="315.24" y2="502.80" stroke="#000" stroke-width="1.0" />
<g transform="translate(312.97,514.87) rotate(-45)" fill="#222" stroke="#222" stroke-width="0.22"><text x="1.83" y="2.36" font-size="6.6" text-anchor="end" letter-spacing="0.0">10</text><text x="5.16" y="-0.90" font-size="4.4" text-anchor="middle" fill="#555">-3</text></g>
<line x1="324.31" y1="500.20" x2="324.31" y2="502.80" stroke="#000" stroke-width="1.0" />
<g transform="translate(322.36,514.66) rotate(-45)" fill="#222" stroke="#222" stroke-width="0.22"><text x="1.83" y="2.36" font-size="6.6" text-anchor="end" letter-spacing="0.0">10</text><text x="5.16" y="-0.90" font-size="4.4" text-anchor="middle" fill="#555">-2</text></g>
<line x1="333.38" y1="500.20" x2="333.38" y2="502.80" stroke="#000" stroke-width="1.0" />
<g transform="translate(331.74,514.44) rotate(-45)" fill="#222" stroke="#222" stroke-width="0.22"><text x="1.83" y="2.36" font-size="6.6" text-anchor="end" letter-spacing="0.0">10</text><text x="5.16" y="-0.90" font-size="4.4" text-anchor="middle" fill="#555">-1</text></g>
<line x1="342.45" y1="500.20" x2="342.45" y2="502.80" stroke="#000" stroke-width="1.0" />
<g transform="translate(341.13,514.23) rotate(-45)" fill="#222" stroke="#222" stroke-width="0.22"><text x="1.83" y="2.36" font-size="6.6" text-anchor="end" letter-spacing="0.0">10</text><text x="5.16" y="-0.90" font-size="4.4" text-anchor="middle" fill="#555">0</text></g>
<line x1="351.52" y1="500.20" x2="351.52" y2="502.80" stroke="#000" stroke-width="1.0" />
<g transform="translate(350.51,514.01) rotate(-45)" fill="#222" stroke="#222" stroke-width="0.22"><text x="1.83" y="2.36" font-size="6.6" text-anchor="end" letter-spacing="0.0">10</text><text x="5.16" y="-0.90" font-size="4.4" text-anchor="middle" fill="#555">1</text></g>
<line x1="360.59" y1="500.20" x2="360.59" y2="502.80" stroke="#000" stroke-width="1.0" />
<g transform="translate(359.90,513.80) rotate(-45)" fill="#222" stroke="#222" stroke-width="0.22"><text x="1.83" y="2.36" font-size="6.6" text-anchor="end" letter-spacing="0.0">10</text><text x="5.16" y="-0.90" font-size="4.4" text-anchor="middle" fill="#555">2</text></g>
<text x="0" y="0" font-size="8.2" font-weight="bold" text-anchor="middle" fill="#333" stroke="#333" stroke-width="0.25" textLength="38.4" lengthAdjust="spacingAndGlyphs" transform="translate(271.30,466.30) rotate(-90)" dy="2.9">% of Maximum</text>
<text x="311.45" y="530.70" font-size="8.6" font-weight="bold" fill="#333" stroke="#333" stroke-width="0.1" textLength="15.00" lengthAdjust="spacingAndGlyphs">[ADC]</text>
<text x="329.87" y="530.70" font-size="8.6" font-weight="bold" fill="#333" stroke="#333" stroke-width="0.1" textLength="11.88" lengthAdjust="spacingAndGlyphs">(nM)</text>
<line x1="421.60" y1="500.60" x2="424.40" y2="500.60" stroke="#000" stroke-width="1.0" />
<text x="417.70" y="502.90" font-size="6.5" text-anchor="end" fill="#3a3a3a" font-weight="normal" stroke="#3a3a3a" stroke-width="0.04" >0</text>
<line x1="421.60" y1="494.82" x2="424.40" y2="494.82" stroke="#000" stroke-width="1.0" />
<text x="417.70" y="497.12" font-size="6.5" text-anchor="end" fill="#3a3a3a" font-weight="normal" stroke="#3a3a3a" stroke-width="0.04" >10</text>
<line x1="421.60" y1="489.04" x2="424.40" y2="489.04" stroke="#000" stroke-width="1.0" />
<text x="417.70" y="491.34" font-size="6.5" text-anchor="end" fill="#3a3a3a" font-weight="normal" stroke="#3a3a3a" stroke-width="0.04" >20</text>
<line x1="421.60" y1="483.25" x2="424.40" y2="483.25" stroke="#000" stroke-width="1.0" />
<text x="417.70" y="485.55" font-size="6.5" text-anchor="end" fill="#3a3a3a" font-weight="normal" stroke="#3a3a3a" stroke-width="0.04" >30</text>
<line x1="421.60" y1="477.47" x2="424.40" y2="477.47" stroke="#000" stroke-width="1.0" />
<text x="417.70" y="479.77" font-size="6.5" text-anchor="end" fill="#3a3a3a" font-weight="normal" stroke="#3a3a3a" stroke-width="0.04" >40</text>
<line x1="421.60" y1="471.69" x2="424.40" y2="471.69" stroke="#000" stroke-width="1.0" />
<text x="417.70" y="473.99" font-size="6.5" text-anchor="end" fill="#3a3a3a" font-weight="normal" stroke="#3a3a3a" stroke-width="0.04" >50</text>
<line x1="421.60" y1="465.91" x2="424.40" y2="465.91" stroke="#000" stroke-width="1.0" />
<text x="417.70" y="468.21" font-size="6.5" text-anchor="end" fill="#3a3a3a" font-weight="normal" stroke="#3a3a3a" stroke-width="0.04" >60</text>
<line x1="421.60" y1="460.13" x2="424.40" y2="460.13" stroke="#000" stroke-width="1.0" />
<text x="417.70" y="462.43" font-size="6.5" text-anchor="end" fill="#3a3a3a" font-weight="normal" stroke="#3a3a3a" stroke-width="0.04" >70</text>
<line x1="421.60" y1="454.35" x2="424.40" y2="454.35" stroke="#000" stroke-width="1.0" />
<text x="417.70" y="456.65" font-size="6.5" text-anchor="end" fill="#3a3a3a" font-weight="normal" stroke="#3a3a3a" stroke-width="0.04" >80</text>
<line x1="421.60" y1="448.56" x2="424.40" y2="448.56" stroke="#000" stroke-width="1.0" />
<text x="417.70" y="450.86" font-size="6.5" text-anchor="end" fill="#3a3a3a" font-weight="normal" stroke="#3a3a3a" stroke-width="0.04" >90</text>
<line x1="421.60" y1="442.78" x2="424.40" y2="442.78" stroke="#000" stroke-width="1.0" />
<text x="417.70" y="445.08" font-size="6.5" text-anchor="end" fill="#3a3a3a" font-weight="normal" stroke="#3a3a3a" stroke-width="0.04" >100</text>
<line x1="421.60" y1="437.00" x2="424.40" y2="437.00" stroke="#000" stroke-width="1.0" />
<text x="417.70" y="439.30" font-size="6.5" text-anchor="end" fill="#3a3a3a" font-weight="normal" stroke="#3a3a3a" stroke-width="0.04" >110</text>
<line x1="424.40" y1="436.20" x2="424.40" y2="501.10" stroke="#000" stroke-width="1.3" />
<line x1="423.80" y1="500.60" x2="490.00" y2="500.60" stroke="#000" stroke-width="1.3" />
<line x1="424.30" y1="500.60" x2="424.30" y2="503.20" stroke="#000" stroke-width="1.0" />
<g transform="translate(421.80,515.30) rotate(-45)" fill="#222" stroke="#222" stroke-width="0.22"><text x="1.83" y="2.36" font-size="6.6" text-anchor="end" letter-spacing="0.0">10</text><text x="5.16" y="-0.90" font-size="4.4" text-anchor="middle" fill="#555">-5</text></g>
<line x1="433.37" y1="500.60" x2="433.37" y2="503.20" stroke="#000" stroke-width="1.0" />
<g transform="translate(430.96,515.09) rotate(-45)" fill="#222" stroke="#222" stroke-width="0.22"><text x="1.83" y="2.36" font-size="6.6" text-anchor="end" letter-spacing="0.0">10</text><text x="5.16" y="-0.90" font-size="4.4" text-anchor="middle" fill="#555">-4</text></g>
<line x1="442.44" y1="500.60" x2="442.44" y2="503.20" stroke="#000" stroke-width="1.0" />
<g transform="translate(440.11,514.87) rotate(-45)" fill="#222" stroke="#222" stroke-width="0.22"><text x="1.83" y="2.36" font-size="6.6" text-anchor="end" letter-spacing="0.0">10</text><text x="5.16" y="-0.90" font-size="4.4" text-anchor="middle" fill="#555">-3</text></g>
<line x1="451.51" y1="500.60" x2="451.51" y2="503.20" stroke="#000" stroke-width="1.0" />
<g transform="translate(449.27,514.66) rotate(-45)" fill="#222" stroke="#222" stroke-width="0.22"><text x="1.83" y="2.36" font-size="6.6" text-anchor="end" letter-spacing="0.0">10</text><text x="5.16" y="-0.90" font-size="4.4" text-anchor="middle" fill="#555">-2</text></g>
<line x1="460.58" y1="500.60" x2="460.58" y2="503.20" stroke="#000" stroke-width="1.0" />
<g transform="translate(458.43,514.44) rotate(-45)" fill="#222" stroke="#222" stroke-width="0.22"><text x="1.83" y="2.36" font-size="6.6" text-anchor="end" letter-spacing="0.0">10</text><text x="5.16" y="-0.90" font-size="4.4" text-anchor="middle" fill="#555">-1</text></g>
<line x1="469.65" y1="500.60" x2="469.65" y2="503.20" stroke="#000" stroke-width="1.0" />
<g transform="translate(467.59,514.23) rotate(-45)" fill="#222" stroke="#222" stroke-width="0.22"><text x="1.83" y="2.36" font-size="6.6" text-anchor="end" letter-spacing="0.0">10</text><text x="5.16" y="-0.90" font-size="4.4" text-anchor="middle" fill="#555">0</text></g>
<line x1="478.72" y1="500.60" x2="478.72" y2="503.20" stroke="#000" stroke-width="1.0" />
<g transform="translate(476.74,514.01) rotate(-45)" fill="#222" stroke="#222" stroke-width="0.22"><text x="1.83" y="2.36" font-size="6.6" text-anchor="end" letter-spacing="0.0">10</text><text x="5.16" y="-0.90" font-size="4.4" text-anchor="middle" fill="#555">1</text></g>
<line x1="487.79" y1="500.60" x2="487.79" y2="503.20" stroke="#000" stroke-width="1.0" />
<g transform="translate(485.90,513.80) rotate(-45)" fill="#222" stroke="#222" stroke-width="0.22"><text x="1.83" y="2.36" font-size="6.6" text-anchor="end" letter-spacing="0.0">10</text><text x="5.16" y="-0.90" font-size="4.4" text-anchor="middle" fill="#555">2</text></g>
<text x="0" y="0" font-size="8.2" font-weight="bold" text-anchor="middle" fill="#333" stroke="#333" stroke-width="0.25" textLength="38.9" lengthAdjust="spacingAndGlyphs" transform="translate(399.00,467.50) rotate(-90)" dy="2.9">% of Maximum</text>
<text x="437.90" y="531.10" font-size="8.6" font-weight="bold" fill="#333" stroke="#333" stroke-width="0.1" textLength="14.85" lengthAdjust="spacingAndGlyphs">[ADC]</text>
<text x="456.14" y="531.10" font-size="8.6" font-weight="bold" fill="#333" stroke="#333" stroke-width="0.1" textLength="11.76" lengthAdjust="spacingAndGlyphs">(nM)</text>
<polyline points="44.00,94.26 45.33,94.26 46.66,94.26 47.99,94.26 49.32,94.26 50.65,94.26 51.98,94.26 53.31,94.26 54.64,94.26 55.98,94.26 57.31,94.26 58.64,94.26 59.97,94.26 61.30,94.26 62.63,94.26 63.96,94.26 65.29,94.26 66.62,94.26 67.95,94.26 69.28,94.26 70.61,94.26 71.94,94.27 73.27,94.27 74.60,94.27 75.93,94.28 77.26,94.29 78.59,94.32 79.93,94.37 81.26,94.46 82.59,94.65 83.92,95.00 85.25,95.68 86.58,96.95 87.91,99.23 89.24,103.09 90.57,108.97 91.90,116.61" fill="none" stroke="#4f9e94" stroke-width="0.75"/>
<polyline points="44.00,94.26 45.28,94.26 46.56,94.26 47.83,94.26 49.11,94.26 50.39,94.26 51.67,94.26 52.94,94.27 54.22,94.27 55.50,94.27 56.78,94.27 58.06,94.28 59.33,94.29 60.61,94.31 61.89,94.35 63.17,94.41 64.44,94.51 65.72,94.70 67.00,95.02 68.28,95.56 69.56,96.48 70.83,98.00 72.11,100.44 73.39,104.11 74.67,109.22 75.94,115.57 77.22,122.42 78.50,128.79 79.78,133.94 81.06,137.65 82.33,140.11 83.61,141.65 84.89,142.58 86.17,143.14 87.44,143.46 88.72,143.65 90.00,143.75" fill="none" stroke="#e05a78" stroke-width="0.75"/>
<rect x="43.05" y="97.98" width="1.50" height="1.50" fill="#333"/>
<rect x="46.75" y="96.00" width="1.50" height="1.50" fill="#333"/>
<rect x="49.05" y="99.47" width="1.50" height="1.50" fill="#333"/>
<rect x="52.75" y="95.50" width="1.50" height="1.50" fill="#333"/>
<rect x="55.05" y="100.46" width="1.50" height="1.50" fill="#333"/>
<rect x="58.95" y="93.02" width="1.50" height="1.50" fill="#333"/>
<rect x="59.05" y="100.46" width="1.50" height="1.50" fill="#333"/>
<rect x="61.05" y="100.46" width="1.50" height="1.50" fill="#333"/>
<rect x="64.85" y="95.50" width="1.50" height="1.50" fill="#333"/>
<rect x="66.75" y="94.01" width="1.50" height="1.50" fill="#333"/>
<rect x="70.65" y="98.48" width="1.50" height="1.50" fill="#333"/>
<rect x="73.25" y="96.99" width="1.50" height="1.50" fill="#333"/>
<rect x="79.05" y="98.97" width="1.50" height="1.50" fill="#333"/>
<rect x="85.35" y="99.47" width="1.50" height="1.50" fill="#333"/>
<rect x="88.65" y="101.95" width="1.50" height="1.50" fill="#333"/>
<rect x="76.40" y="121.26" width="1.60" height="1.60" fill="#333"/>
<rect x="82.50" y="136.15" width="1.60" height="1.60" fill="#333"/>
<rect x="89.00" y="139.13" width="1.60" height="1.60" fill="#333"/>
<rect x="91.35" y="114.26" width="1.70" height="1.70" fill="#333"/>
<polyline points="172.00,92.43 173.43,92.43 174.87,92.43 176.30,92.43 177.73,92.43 179.17,92.43 180.60,92.43 182.03,92.43 183.47,92.43 184.90,92.43 186.33,92.43 187.77,92.43 189.20,92.43 190.63,92.43 192.07,92.43 193.50,92.43 194.93,92.43 196.37,92.43 197.80,92.43 199.23,92.43 200.67,92.44 202.10,92.44 203.53,92.44 204.97,92.45 206.40,92.46 207.83,92.49 209.27,92.53 210.70,92.61 212.13,92.75 213.57,93.00 215.00,93.43 216.43,94.18 217.87,95.45 219.30,97.55 220.73,100.86 222.17,105.70 223.60,112.05" fill="none" stroke="#4f9e94" stroke-width="0.75"/>
<polyline points="172.00,92.43 173.25,92.43 174.50,92.43 175.75,92.43 177.00,92.43 178.25,92.43 179.50,92.43 180.75,92.43 182.00,92.43 183.25,92.43 184.50,92.43 185.75,92.43 187.00,92.43 188.25,92.44 189.50,92.44 190.75,92.45 192.00,92.46 193.25,92.49 194.50,92.55 195.75,92.65 197.00,92.84 198.25,93.21 199.50,93.88 200.75,95.11 202.00,97.30 203.25,100.94 204.50,106.49 205.75,113.85 207.00,122.01 208.25,129.42 209.50,135.06 210.75,138.77 212.00,141.00 213.25,142.26 214.50,142.96 215.75,143.33 217.00,143.53" fill="none" stroke="#e05a78" stroke-width="0.75"/>
<rect x="172.05" y="100.41" width="1.50" height="1.50" fill="#333"/>
<rect x="172.05" y="91.68" width="1.50" height="1.50" fill="#333"/>
<rect x="175.25" y="94.25" width="1.50" height="1.50" fill="#333"/>
<rect x="178.55" y="94.25" width="1.50" height="1.50" fill="#333"/>
<rect x="181.25" y="94.76" width="1.50" height="1.50" fill="#333"/>
<rect x="184.55" y="94.76" width="1.50" height="1.50" fill="#333"/>
<rect x="187.25" y="93.73" width="1.50" height="1.50" fill="#333"/>
<rect x="190.85" y="94.76" width="1.50" height="1.50" fill="#333"/>
<rect x="194.25" y="92.71" width="1.50" height="1.50" fill="#333"/>
<rect x="197.45" y="93.73" width="1.50" height="1.50" fill="#333"/>
<rect x="203.95" y="92.71" width="1.50" height="1.50" fill="#333"/>
<rect x="209.95" y="95.79" width="1.50" height="1.50" fill="#333"/>
<rect x="216.25" y="99.38" width="1.50" height="1.50" fill="#333"/>
<rect x="222.35" y="109.13" width="1.50" height="1.50" fill="#333"/>
<rect x="203.55" y="104.51" width="1.50" height="1.50" fill="#333"/>
<rect x="209.95" y="138.89" width="1.50" height="1.50" fill="#333"/>
<rect x="216.25" y="140.43" width="1.50" height="1.50" fill="#333"/>
<rect x="222.35" y="140.43" width="1.50" height="1.50" fill="#333"/>
<polyline points="301.00,92.53 302.42,92.53 303.83,92.53 305.25,92.53 306.67,92.53 308.08,92.53 309.50,92.53 310.92,92.53 312.33,92.53 313.75,92.53 315.17,92.53 316.58,92.53 318.00,92.53 319.42,92.53 320.83,92.53 322.25,92.53 323.67,92.53 325.08,92.54 326.50,92.55 327.92,92.57 329.33,92.60 330.75,92.66 332.17,92.78 333.58,92.99 335.00,93.37 336.42,94.07 337.83,95.32 339.25,97.46 340.67,100.98 342.08,106.24 343.50,113.21 344.92,121.03 346.33,128.35 347.75,134.11 349.17,138.07 350.58,140.54 352.00,141.98" fill="none" stroke="#4a9aa6" stroke-width="0.75"/>
<polyline points="301.00,92.53 302.17,92.53 303.33,92.53 304.50,92.53 305.67,92.53 306.83,92.53 308.00,92.53 309.17,92.53 310.33,92.53 311.50,92.53 312.67,92.53 313.83,92.53 315.00,92.54 316.17,92.55 317.33,92.56 318.50,92.59 319.67,92.63 320.83,92.71 322.00,92.84 323.17,93.07 324.33,93.46 325.50,94.14 326.67,95.27 327.83,97.13 329.00,100.04 330.17,104.34 331.33,110.10 332.50,116.94 333.67,123.96 334.83,130.17 336.00,134.98 337.17,138.34 338.33,140.52 339.50,141.86 340.67,142.67 341.83,143.15 343.00,143.42" fill="none" stroke="#e05a78" stroke-width="0.75"/>
<rect x="300.65" y="95.88" width="1.50" height="1.50" fill="#333"/>
<rect x="300.65" y="98.96" width="1.50" height="1.50" fill="#333"/>
<rect x="303.75" y="94.85" width="1.50" height="1.50" fill="#333"/>
<rect x="306.65" y="95.88" width="1.50" height="1.50" fill="#333"/>
<rect x="309.75" y="94.85" width="1.50" height="1.50" fill="#333"/>
<rect x="312.95" y="95.37" width="1.50" height="1.50" fill="#333"/>
<rect x="316.25" y="94.34" width="1.50" height="1.50" fill="#333"/>
<rect x="319.25" y="95.37" width="1.50" height="1.50" fill="#333"/>
<rect x="325.65" y="91.78" width="1.50" height="1.50" fill="#333"/>
<rect x="332.05" y="95.88" width="1.50" height="1.50" fill="#333"/>
<rect x="338.35" y="95.88" width="1.50" height="1.50" fill="#333"/>
<rect x="344.65" y="116.39" width="1.50" height="1.50" fill="#333"/>
<rect x="332.05" y="114.85" width="1.50" height="1.50" fill="#333"/>
<rect x="338.35" y="137.41" width="1.50" height="1.50" fill="#333"/>
<rect x="344.65" y="138.44" width="1.50" height="1.50" fill="#333"/>
<rect x="350.65" y="140.49" width="1.50" height="1.50" fill="#333"/>
<line x1="317.30" y1="90.99" x2="317.30" y2="95.09" stroke="#c99" stroke-width="0.5" />
<polyline points="426.30,92.60 433.50,92.60 440.70,92.60 447.90,92.60 455.10,92.60 462.40,92.60 469.60,93.12 476.70,99.36" fill="none" stroke="#9ccc9c" stroke-width="0.75"/>
<polyline points="426.30,96.76 433.50,92.60 440.70,92.60 447.90,92.60 455.10,92.60 462.40,92.60 469.60,94.16 476.70,99.88" fill="none" stroke="#7cbcbc" stroke-width="0.75"/>
<polyline points="426.30,99.88 433.50,99.88 440.70,101.44 447.90,98.84 455.10,95.72 462.40,98.84 469.60,104.56 476.70,100.40" fill="none" stroke="#4f80b8" stroke-width="0.75"/>
<polyline points="426.30,92.60 427.70,92.60 429.10,92.60 430.50,92.60 431.90,92.60 433.30,92.60 434.70,92.60 436.10,92.60 437.50,92.60 438.90,92.60 440.30,92.61 441.70,92.61 443.10,92.62 444.50,92.63 445.90,92.66 447.30,92.71 448.70,92.78 450.10,92.92 451.50,93.16 452.90,93.57 454.30,94.28 455.70,95.47 457.10,97.43 458.50,100.50 459.90,105.01 461.30,111.03 462.70,118.08 464.10,125.21 465.50,131.42 466.90,136.15 468.30,139.41 469.70,141.50 471.10,142.79 472.50,143.55 473.90,143.99 475.30,144.25 476.70,144.40" fill="none" stroke="#e05a78" stroke-width="0.75"/>
<g stroke="#4f80b8" stroke-opacity="0.7" stroke-width="0.5"><line x1="426.30" y1="98.32" x2="426.30" y2="101.44"/><line x1="425.60" y1="98.32" x2="427.00" y2="98.32"/><line x1="425.60" y1="101.44" x2="427.00" y2="101.44"/></g>
<rect x="425.50" y="99.08" width="1.60" height="1.60" fill="#333"/>
<g stroke="#4f80b8" stroke-opacity="0.7" stroke-width="0.5"><line x1="433.50" y1="98.32" x2="433.50" y2="101.44"/><line x1="432.80" y1="98.32" x2="434.20" y2="98.32"/><line x1="432.80" y1="101.44" x2="434.20" y2="101.44"/></g>
<rect x="432.70" y="99.08" width="1.60" height="1.60" fill="#333"/>
<g stroke="#4f80b8" stroke-opacity="0.7" stroke-width="0.5"><line x1="440.70" y1="99.88" x2="440.70" y2="103.00"/><line x1="440.00" y1="99.88" x2="441.40" y2="99.88"/><line x1="440.00" y1="103.00" x2="441.40" y2="103.00"/></g>
<rect x="439.90" y="100.64" width="1.60" height="1.60" fill="#333"/>
<g stroke="#4f80b8" stroke-opacity="0.7" stroke-width="0.5"><line x1="447.90" y1="97.28" x2="447.90" y2="100.40"/><line x1="447.20" y1="97.28" x2="448.60" y2="97.28"/><line x1="447.20" y1="100.40" x2="448.60" y2="100.40"/></g>
<rect x="447.10" y="98.04" width="1.60" height="1.60" fill="#333"/>
<g stroke="#4f80b8" stroke-opacity="0.7" stroke-width="0.5"><line x1="455.10" y1="94.16" x2="455.10" y2="97.28"/><line x1="454.40" y1="94.16" x2="455.80" y2="94.16"/><line x1="454.40" y1="97.28" x2="455.80" y2="97.28"/></g>
<rect x="454.30" y="94.92" width="1.60" height="1.60" fill="#333"/>
<g stroke="#4f80b8" stroke-opacity="0.7" stroke-width="0.5"><line x1="462.40" y1="97.28" x2="462.40" y2="100.40"/><line x1="461.70" y1="97.28" x2="463.10" y2="97.28"/><line x1="461.70" y1="100.40" x2="463.10" y2="100.40"/></g>
<rect x="461.60" y="98.04" width="1.60" height="1.60" fill="#333"/>
<g stroke="#4f80b8" stroke-opacity="0.7" stroke-width="0.5"><line x1="469.60" y1="103.00" x2="469.60" y2="106.12"/><line x1="468.90" y1="103.00" x2="470.30" y2="103.00"/><line x1="468.90" y1="106.12" x2="470.30" y2="106.12"/></g>
<rect x="468.80" y="103.76" width="1.60" height="1.60" fill="#333"/>
<g stroke="#4f80b8" stroke-opacity="0.7" stroke-width="0.5"><line x1="476.70" y1="98.84" x2="476.70" y2="101.96"/><line x1="476.00" y1="98.84" x2="477.40" y2="98.84"/><line x1="476.00" y1="101.96" x2="477.40" y2="101.96"/></g>
<rect x="475.90" y="99.60" width="1.60" height="1.60" fill="#333"/>
<g stroke="#e05a78" stroke-opacity="0.7" stroke-width="0.5"><line x1="433.50" y1="94.16" x2="433.50" y2="98.32"/><line x1="432.80" y1="94.16" x2="434.20" y2="94.16"/><line x1="432.80" y1="98.32" x2="434.20" y2="98.32"/></g>
<rect x="432.70" y="95.44" width="1.60" height="1.60" fill="#333"/>
<g stroke="#e05a78" stroke-opacity="0.7" stroke-width="0.5"><line x1="440.70" y1="92.60" x2="440.70" y2="97.80"/><line x1="440.00" y1="92.60" x2="441.40" y2="92.60"/><line x1="440.00" y1="97.80" x2="441.40" y2="97.80"/></g>
<rect x="439.90" y="94.40" width="1.60" height="1.60" fill="#333"/>
<g stroke="#e05a78" stroke-opacity="0.7" stroke-width="0.5"><line x1="447.90" y1="92.60" x2="447.90" y2="96.76"/><line x1="447.20" y1="92.60" x2="448.60" y2="92.60"/><line x1="447.20" y1="96.76" x2="448.60" y2="96.76"/></g>
<rect x="447.10" y="93.88" width="1.60" height="1.60" fill="#333"/>
<g stroke="#e05a78" stroke-opacity="0.7" stroke-width="0.5"><line x1="455.10" y1="100.40" x2="455.10" y2="105.60"/><line x1="454.40" y1="100.40" x2="455.80" y2="100.40"/><line x1="454.40" y1="105.60" x2="455.80" y2="105.60"/></g>
<rect x="454.30" y="102.20" width="1.60" height="1.60" fill="#333"/>
<g stroke="#e05a78" stroke-opacity="0.7" stroke-width="0.5"><line x1="462.40" y1="117.04" x2="462.40" y2="119.12"/><line x1="461.70" y1="117.04" x2="463.10" y2="117.04"/><line x1="461.70" y1="119.12" x2="463.10" y2="119.12"/></g>
<rect x="461.60" y="117.28" width="1.60" height="1.60" fill="#333"/>
<g stroke="#e05a78" stroke-opacity="0.7" stroke-width="0.5"><line x1="469.60" y1="137.32" x2="469.60" y2="139.40"/><line x1="468.90" y1="137.32" x2="470.30" y2="137.32"/><line x1="468.90" y1="139.40" x2="470.30" y2="139.40"/></g>
<rect x="468.80" y="137.56" width="1.60" height="1.60" fill="#333"/>
<g stroke="#e05a78" stroke-opacity="0.7" stroke-width="0.5"><line x1="476.70" y1="141.48" x2="476.70" y2="142.52"/><line x1="476.00" y1="141.48" x2="477.40" y2="141.48"/><line x1="476.00" y1="142.52" x2="477.40" y2="142.52"/></g>
<rect x="475.90" y="141.20" width="1.60" height="1.60" fill="#333"/>
<g stroke="#79c096" stroke-opacity="0.7" stroke-width="0.5"><line x1="433.50" y1="90.00" x2="433.50" y2="95.20"/><line x1="432.80" y1="90.00" x2="434.20" y2="90.00"/><line x1="432.80" y1="95.20" x2="434.20" y2="95.20"/></g>
<rect x="433.00" y="92.10" width="1.00" height="1.00" fill="#6a6"/>
<g stroke="#79c096" stroke-opacity="0.7" stroke-width="0.5"><line x1="447.90" y1="91.04" x2="447.90" y2="94.16"/><line x1="447.20" y1="91.04" x2="448.60" y2="91.04"/><line x1="447.20" y1="94.16" x2="448.60" y2="94.16"/></g>
<rect x="447.40" y="92.10" width="1.00" height="1.00" fill="#6a6"/>
<g stroke="#79c096" stroke-opacity="0.7" stroke-width="0.5"><line x1="462.40" y1="90.52" x2="462.40" y2="94.68"/><line x1="461.70" y1="90.52" x2="463.10" y2="90.52"/><line x1="461.70" y1="94.68" x2="463.10" y2="94.68"/></g>
<rect x="461.90" y="92.10" width="1.00" height="1.00" fill="#6a6"/>
<g stroke="#79c096" stroke-opacity="0.7" stroke-width="0.5"><line x1="469.60" y1="92.08" x2="469.60" y2="96.24"/><line x1="468.90" y1="92.08" x2="470.30" y2="92.08"/><line x1="468.90" y1="96.24" x2="470.30" y2="96.24"/></g>
<rect x="469.10" y="93.66" width="1.00" height="1.00" fill="#6a6"/>
<polyline points="49.10,281.21 58.70,268.10 68.00,279.22 77.60,267.77 86.90,267.77 96.30,282.53" fill="none" stroke="#e05a78" stroke-width="0.75"/>
<polyline points="49.10,280.99 58.70,268.87 68.00,271.40 77.60,272.34 86.90,270.52 96.30,275.70" fill="none" stroke="#79c096" stroke-width="0.75"/>
<polyline points="49.10,281.21 58.70,278.78 68.00,284.90 77.60,279.11 86.90,281.21 96.30,267.77" fill="none" stroke="#4f80b8" stroke-width="0.75"/>
<g stroke="#e05a78" stroke-opacity="0.7" stroke-width="0.5"><line x1="49.10" y1="278.45" x2="49.10" y2="283.96"/><line x1="48.40" y1="278.45" x2="49.80" y2="278.45"/><line x1="48.40" y1="283.96" x2="49.80" y2="283.96"/></g>
<rect x="48.30" y="280.41" width="1.60" height="1.60" fill="#333"/>
<g stroke="#e05a78" stroke-opacity="0.7" stroke-width="0.5"><line x1="58.70" y1="258.18" x2="58.70" y2="278.01"/><line x1="58.00" y1="258.18" x2="59.40" y2="258.18"/><line x1="58.00" y1="278.01" x2="59.40" y2="278.01"/></g>
<rect x="57.90" y="267.30" width="1.60" height="1.60" fill="#333"/>
<g stroke="#e05a78" stroke-opacity="0.7" stroke-width="0.5"><line x1="68.00" y1="273.72" x2="68.00" y2="284.73"/><line x1="67.30" y1="273.72" x2="68.70" y2="273.72"/><line x1="67.30" y1="284.73" x2="68.70" y2="284.73"/></g>
<rect x="67.20" y="278.42" width="1.60" height="1.60" fill="#333"/>
<g stroke="#e05a78" stroke-opacity="0.7" stroke-width="0.5"><line x1="77.60" y1="262.26" x2="77.60" y2="273.28"/><line x1="76.90" y1="262.26" x2="78.30" y2="262.26"/><line x1="76.90" y1="273.28" x2="78.30" y2="273.28"/></g>
<rect x="76.80" y="266.97" width="1.60" height="1.60" fill="#333"/>
<g stroke="#e05a78" stroke-opacity="0.7" stroke-width="0.5"><line x1="86.90" y1="262.26" x2="86.90" y2="273.28"/><line x1="86.20" y1="262.26" x2="87.60" y2="262.26"/><line x1="86.20" y1="273.28" x2="87.60" y2="273.28"/></g>
<rect x="86.10" y="266.97" width="1.60" height="1.60" fill="#333"/>
<g stroke="#e05a78" stroke-opacity="0.7" stroke-width="0.5"><line x1="96.30" y1="277.02" x2="96.30" y2="288.04"/><line x1="95.60" y1="277.02" x2="97.00" y2="277.02"/><line x1="95.60" y1="288.04" x2="97.00" y2="288.04"/></g>
<rect x="95.50" y="281.73" width="1.60" height="1.60" fill="#333"/>
<g stroke="#79c096" stroke-opacity="0.7" stroke-width="0.5"><line x1="58.70" y1="264.46" x2="58.70" y2="273.28"/><line x1="58.00" y1="264.46" x2="59.40" y2="264.46"/><line x1="58.00" y1="273.28" x2="59.40" y2="273.28"/></g>
<rect x="58.20" y="268.37" width="1.00" height="1.00" fill="#6a6"/>
<g stroke="#79c096" stroke-opacity="0.7" stroke-width="0.5"><line x1="68.00" y1="262.59" x2="68.00" y2="280.22"/><line x1="67.30" y1="262.59" x2="68.70" y2="262.59"/><line x1="67.30" y1="280.22" x2="68.70" y2="280.22"/></g>
<rect x="67.50" y="270.90" width="1.00" height="1.00" fill="#6a6"/>
<g stroke="#79c096" stroke-opacity="0.7" stroke-width="0.5"><line x1="77.60" y1="267.93" x2="77.60" y2="276.75"/><line x1="76.90" y1="267.93" x2="78.30" y2="267.93"/><line x1="76.90" y1="276.75" x2="78.30" y2="276.75"/></g>
<rect x="77.10" y="271.84" width="1.00" height="1.00" fill="#6a6"/>
<g stroke="#79c096" stroke-opacity="0.7" stroke-width="0.5"><line x1="86.90" y1="266.11" x2="86.90" y2="274.93"/><line x1="86.20" y1="266.11" x2="87.60" y2="266.11"/><line x1="86.20" y1="274.93" x2="87.60" y2="274.93"/></g>
<rect x="86.40" y="270.02" width="1.00" height="1.00" fill="#6a6"/>
<g stroke="#79c096" stroke-opacity="0.7" stroke-width="0.5"><line x1="96.30" y1="270.19" x2="96.30" y2="281.21"/><line x1="95.60" y1="270.19" x2="97.00" y2="270.19"/><line x1="95.60" y1="281.21" x2="97.00" y2="281.21"/></g>
<rect x="95.80" y="275.20" width="1.00" height="1.00" fill="#6a6"/>
<g stroke="#4f80b8" stroke-opacity="0.7" stroke-width="0.5"><line x1="49.10" y1="278.45" x2="49.10" y2="283.96"/><line x1="48.40" y1="278.45" x2="49.80" y2="278.45"/><line x1="48.40" y1="283.96" x2="49.80" y2="283.96"/></g>
<rect x="48.30" y="280.41" width="1.60" height="1.60" fill="#333"/>
<g stroke="#4f80b8" stroke-opacity="0.7" stroke-width="0.5"><line x1="58.70" y1="273.28" x2="58.70" y2="284.29"/><line x1="58.00" y1="273.28" x2="59.40" y2="273.28"/><line x1="58.00" y1="284.29" x2="59.40" y2="284.29"/></g>
<rect x="57.90" y="277.98" width="1.60" height="1.60" fill="#333"/>
<g stroke="#4f80b8" stroke-opacity="0.7" stroke-width="0.5"><line x1="68.00" y1="281.59" x2="68.00" y2="288.20"/><line x1="67.30" y1="281.59" x2="68.70" y2="281.59"/><line x1="67.30" y1="288.20" x2="68.70" y2="288.20"/></g>
<rect x="67.20" y="284.10" width="1.60" height="1.60" fill="#333"/>
<g stroke="#4f80b8" stroke-opacity="0.7" stroke-width="0.5"><line x1="77.60" y1="269.20" x2="77.60" y2="289.03"/><line x1="76.90" y1="269.20" x2="78.30" y2="269.20"/><line x1="76.90" y1="289.03" x2="78.30" y2="289.03"/></g>
<rect x="76.80" y="278.31" width="1.60" height="1.60" fill="#333"/>
<g stroke="#4f80b8" stroke-opacity="0.7" stroke-width="0.5"><line x1="86.90" y1="278.45" x2="86.90" y2="283.96"/><line x1="86.20" y1="278.45" x2="87.60" y2="278.45"/><line x1="86.20" y1="283.96" x2="87.60" y2="283.96"/></g>
<rect x="86.10" y="280.41" width="1.60" height="1.60" fill="#333"/>
<g stroke="#4f80b8" stroke-opacity="0.7" stroke-width="0.5"><line x1="96.30" y1="257.85" x2="96.30" y2="277.68"/><line x1="95.60" y1="257.85" x2="97.00" y2="257.85"/><line x1="95.60" y1="277.68" x2="97.00" y2="277.68"/></g>
<rect x="95.50" y="266.97" width="1.60" height="1.60" fill="#333"/>
<polyline points="177.80,263.57 205.90,263.57" fill="none" stroke="#c7a9a9" stroke-width="0.75"/>
<polyline points="205.90,263.98 206.42,264.04 206.93,264.11 207.45,264.19 207.97,264.29 208.48,264.39 209.00,264.52 209.52,264.66 210.03,264.82 210.55,265.00 211.07,265.21 211.58,265.45 212.10,265.72 212.62,266.04 213.13,266.39 213.65,266.79 214.17,267.25 214.68,267.76 215.20,268.35 215.72,269.00 216.23,269.74 216.75,270.56 217.27,271.47 217.78,272.48 218.30,273.60 218.82,274.83 219.33,276.16 219.85,277.61 220.37,279.17 220.88,280.83 221.40,282.60 221.92,284.45 222.43,286.38 222.95,288.37 223.47,290.41 223.98,292.47 224.50,294.53" fill="none" stroke="#79c096" stroke-width="0.75"/>
<polyline points="205.90,264.04 206.42,264.12 206.93,264.21 207.45,264.32 207.97,264.44 208.48,264.59 209.00,264.76 209.52,264.97 210.03,265.20 210.55,265.47 211.07,265.78 211.58,266.15 212.10,266.57 212.62,267.05 213.13,267.61 213.65,268.25 214.17,268.99 214.68,269.82 215.20,270.77 215.72,271.83 216.23,273.02 216.75,274.35 217.27,275.82 217.78,277.44 218.30,279.19 218.82,281.08 219.33,283.09 219.85,285.22 220.37,287.43 220.88,289.71 221.40,292.03 221.92,294.37 222.43,296.68 222.95,298.95 223.47,301.14 223.98,303.25 224.50,305.23" fill="none" stroke="#e05a78" stroke-width="0.75"/>
<polyline points="177.80,272.97 187.30,279.43 196.50,270.03 205.90,263.57 215.10,263.57 224.50,272.38" fill="none" stroke="#4f80b8" stroke-width="0.75"/>
<g stroke="#4f80b8" stroke-opacity="0.7" stroke-width="0.5"><line x1="177.80" y1="269.45" x2="177.80" y2="276.49"/><line x1="177.10" y1="269.45" x2="178.50" y2="269.45"/><line x1="177.10" y1="276.49" x2="178.50" y2="276.49"/></g>
<rect x="176.90" y="272.07" width="1.80" height="1.80" fill="#333"/>
<g stroke="#4f80b8" stroke-opacity="0.7" stroke-width="0.5"><line x1="187.30" y1="277.08" x2="187.30" y2="281.78"/><line x1="186.60" y1="277.08" x2="188.00" y2="277.08"/><line x1="186.60" y1="281.78" x2="188.00" y2="281.78"/></g>
<rect x="186.40" y="278.53" width="1.80" height="1.80" fill="#333"/>
<g stroke="#4f80b8" stroke-opacity="0.7" stroke-width="0.5"><line x1="196.50" y1="265.33" x2="196.50" y2="274.73"/><line x1="195.80" y1="265.33" x2="197.20" y2="265.33"/><line x1="195.80" y1="274.73" x2="197.20" y2="274.73"/></g>
<rect x="195.60" y="269.13" width="1.80" height="1.80" fill="#333"/>
<g stroke="#4f80b8" stroke-opacity="0.7" stroke-width="0.5"><line x1="205.90" y1="260.05" x2="205.90" y2="267.10"/><line x1="205.20" y1="260.05" x2="206.60" y2="260.05"/><line x1="205.20" y1="267.10" x2="206.60" y2="267.10"/></g>
<rect x="205.00" y="262.67" width="1.80" height="1.80" fill="#333"/>
<g stroke="#4f80b8" stroke-opacity="0.7" stroke-width="0.5"><line x1="215.10" y1="261.22" x2="215.10" y2="265.92"/><line x1="214.40" y1="261.22" x2="215.80" y2="261.22"/><line x1="214.40" y1="265.92" x2="215.80" y2="265.92"/></g>
<rect x="214.20" y="262.67" width="1.80" height="1.80" fill="#333"/>
<g stroke="#4f80b8" stroke-opacity="0.7" stroke-width="0.5"><line x1="224.50" y1="268.86" x2="224.50" y2="275.91"/><line x1="223.80" y1="268.86" x2="225.20" y2="268.86"/><line x1="223.80" y1="275.91" x2="225.20" y2="275.91"/></g>
<rect x="223.60" y="271.48" width="1.80" height="1.80" fill="#333"/>
<g stroke="#e05a78" stroke-opacity="0.7" stroke-width="0.5"><line x1="177.80" y1="267.10" x2="177.80" y2="270.62"/><line x1="177.10" y1="267.10" x2="178.50" y2="267.10"/><line x1="177.10" y1="270.62" x2="178.50" y2="270.62"/></g>
<rect x="176.90" y="267.96" width="1.80" height="1.80" fill="#333"/>
<g stroke="#e05a78" stroke-opacity="0.7" stroke-width="0.5"><line x1="205.90" y1="261.81" x2="205.90" y2="265.33"/><line x1="205.20" y1="261.81" x2="206.60" y2="261.81"/><line x1="205.20" y1="265.33" x2="206.60" y2="265.33"/></g>
<rect x="205.00" y="262.67" width="1.80" height="1.80" fill="#333"/>
<g stroke="#e05a78" stroke-opacity="0.7" stroke-width="0.5"><line x1="215.10" y1="268.86" x2="215.10" y2="272.38"/><line x1="214.40" y1="268.86" x2="215.80" y2="268.86"/><line x1="214.40" y1="272.38" x2="215.80" y2="272.38"/></g>
<rect x="214.20" y="269.72" width="1.80" height="1.80" fill="#333"/>
<g stroke="#e05a78" stroke-opacity="0.7" stroke-width="0.5"><line x1="224.50" y1="308.21" x2="224.50" y2="311.73"/><line x1="223.80" y1="308.21" x2="225.20" y2="308.21"/><line x1="223.80" y1="311.73" x2="225.20" y2="311.73"/></g>
<rect x="223.60" y="309.07" width="1.80" height="1.80" fill="#333"/>
<g stroke="#79c096" stroke-opacity="0.7" stroke-width="0.5"><line x1="177.80" y1="261.22" x2="177.80" y2="265.92"/><line x1="177.10" y1="261.22" x2="178.50" y2="261.22"/><line x1="177.10" y1="265.92" x2="178.50" y2="265.92"/></g>
<rect x="177.30" y="263.07" width="1.00" height="1.00" fill="#6a6"/>
<g stroke="#79c096" stroke-opacity="0.7" stroke-width="0.5"><line x1="187.30" y1="269.45" x2="187.30" y2="274.14"/><line x1="186.60" y1="269.45" x2="188.00" y2="269.45"/><line x1="186.60" y1="274.14" x2="188.00" y2="274.14"/></g>
<rect x="186.80" y="271.29" width="1.00" height="1.00" fill="#6a6"/>
<g stroke="#79c096" stroke-opacity="0.7" stroke-width="0.5"><line x1="205.90" y1="266.51" x2="205.90" y2="271.21"/><line x1="205.20" y1="266.51" x2="206.60" y2="266.51"/><line x1="205.20" y1="271.21" x2="206.60" y2="271.21"/></g>
<rect x="205.40" y="268.36" width="1.00" height="1.00" fill="#6a6"/>
<g stroke="#79c096" stroke-opacity="0.7" stroke-width="0.5"><line x1="224.50" y1="292.35" x2="224.50" y2="297.05"/><line x1="223.80" y1="292.35" x2="225.20" y2="292.35"/><line x1="223.80" y1="297.05" x2="225.20" y2="297.05"/></g>
<rect x="224.00" y="294.20" width="1.00" height="1.00" fill="#6a6"/>
<line x1="315.00" y1="258.75" x2="315.00" y2="282.86" stroke="#f3c4cc" stroke-width="1.6" />
<polyline points="305.80,268.19 307.05,268.19 308.31,268.19 309.56,268.19 310.81,268.19 312.06,268.19 313.32,268.20 314.57,268.20 315.82,268.21 317.07,268.22 318.33,268.23 319.58,268.25 320.83,268.28 322.09,268.32 323.34,268.37 324.59,268.44 325.84,268.54 327.10,268.67 328.35,268.86 329.60,269.12 330.86,269.47 332.11,269.95 333.36,270.60 334.61,271.47 335.87,272.63 337.12,274.15 338.37,276.10 339.62,278.55 340.88,281.54 342.13,285.03 343.38,288.95 344.64,293.15 345.89,297.41 347.14,301.52 348.39,305.28 349.65,308.56 350.90,311.32" fill="none" stroke="#e05a78" stroke-width="0.75"/>
<polyline points="305.80,268.18 307.05,268.18 308.31,268.18 309.56,268.18 310.81,268.18 312.06,268.18 313.32,268.18 314.57,268.19 315.82,268.19 317.07,268.19 318.33,268.19 319.58,268.20 320.83,268.20 322.09,268.21 323.34,268.22 324.59,268.24 325.84,268.28 327.10,268.32 328.35,268.39 329.60,268.50 330.86,268.65 332.11,268.89 333.36,269.23 334.61,269.75 335.87,270.50 337.12,271.60 338.37,273.15 339.62,275.31 340.88,278.22 342.13,281.95 343.38,286.47 344.64,291.57 345.89,296.90 347.14,302.03 348.39,306.58 349.65,310.36 350.90,313.32" fill="none" stroke="#556" stroke-width="0.75"/>
<g stroke="#79c096" stroke-opacity="0.7" stroke-width="0.5"><line x1="305.80" y1="277.62" x2="305.80" y2="281.81"/><line x1="305.10" y1="277.62" x2="306.50" y2="277.62"/><line x1="305.10" y1="281.81" x2="306.50" y2="281.81"/></g>
<rect x="305.30" y="279.21" width="1.00" height="1.00" fill="#7a7"/>
<g stroke="#79c096" stroke-opacity="0.7" stroke-width="0.5"><line x1="315.00" y1="270.28" x2="315.00" y2="276.57"/><line x1="314.30" y1="270.28" x2="315.70" y2="270.28"/><line x1="314.30" y1="276.57" x2="315.70" y2="276.57"/></g>
<rect x="314.50" y="272.93" width="1.00" height="1.00" fill="#7a7"/>
<g stroke="#79c096" stroke-opacity="0.7" stroke-width="0.5"><line x1="323.80" y1="269.76" x2="323.80" y2="273.95"/><line x1="323.10" y1="269.76" x2="324.50" y2="269.76"/><line x1="323.10" y1="273.95" x2="324.50" y2="273.95"/></g>
<rect x="323.30" y="271.35" width="1.00" height="1.00" fill="#7a7"/>
<g stroke="#79c096" stroke-opacity="0.7" stroke-width="0.5"><line x1="341.80" y1="268.71" x2="341.80" y2="277.09"/><line x1="341.10" y1="268.71" x2="342.50" y2="268.71"/><line x1="341.10" y1="277.09" x2="342.50" y2="277.09"/></g>
<rect x="341.30" y="272.40" width="1.00" height="1.00" fill="#7a7"/>
<g stroke="#79c096" stroke-opacity="0.7" stroke-width="0.5"><line x1="350.90" y1="316.93" x2="350.90" y2="320.08"/><line x1="350.20" y1="316.93" x2="351.60" y2="316.93"/><line x1="350.20" y1="320.08" x2="351.60" y2="320.08"/></g>
<rect x="350.40" y="318.00" width="1.00" height="1.00" fill="#7a7"/>
<g stroke="#e05a78" stroke-opacity="0.7" stroke-width="0.5"><line x1="305.80" y1="270.28" x2="305.80" y2="274.47"/><line x1="305.10" y1="270.28" x2="306.50" y2="270.28"/><line x1="305.10" y1="274.47" x2="306.50" y2="274.47"/></g>
<rect x="304.95" y="271.53" width="1.70" height="1.70" fill="#333"/>
<g stroke="#e05a78" stroke-opacity="0.7" stroke-width="0.5"><line x1="315.00" y1="266.09" x2="315.00" y2="270.28"/><line x1="314.30" y1="266.09" x2="315.70" y2="266.09"/><line x1="314.30" y1="270.28" x2="315.70" y2="270.28"/></g>
<rect x="314.15" y="267.33" width="1.70" height="1.70" fill="#333"/>
<g stroke="#e05a78" stroke-opacity="0.7" stroke-width="0.5"><line x1="323.80" y1="274.47" x2="323.80" y2="279.71"/><line x1="323.10" y1="274.47" x2="324.50" y2="274.47"/><line x1="323.10" y1="279.71" x2="324.50" y2="279.71"/></g>
<rect x="322.95" y="276.24" width="1.70" height="1.70" fill="#333"/>
<g stroke="#e05a78" stroke-opacity="0.7" stroke-width="0.5"><line x1="333.00" y1="267.13" x2="333.00" y2="271.33"/><line x1="332.30" y1="267.13" x2="333.70" y2="267.13"/><line x1="332.30" y1="271.33" x2="333.70" y2="271.33"/></g>
<rect x="332.15" y="268.38" width="1.70" height="1.70" fill="#333"/>
<g stroke="#e05a78" stroke-opacity="0.7" stroke-width="0.5"><line x1="341.80" y1="283.91" x2="341.80" y2="288.10"/><line x1="341.10" y1="283.91" x2="342.50" y2="283.91"/><line x1="341.10" y1="288.10" x2="342.50" y2="288.10"/></g>
<rect x="340.95" y="285.15" width="1.70" height="1.70" fill="#333"/>
<g stroke="#4f80b8" stroke-opacity="0.7" stroke-width="0.5"><line x1="305.80" y1="266.61" x2="305.80" y2="269.76"/><line x1="305.10" y1="266.61" x2="306.50" y2="266.61"/><line x1="305.10" y1="269.76" x2="306.50" y2="269.76"/></g>
<rect x="304.95" y="267.33" width="1.70" height="1.70" fill="#333"/>
<g stroke="#4f80b8" stroke-opacity="0.7" stroke-width="0.5"><line x1="315.00" y1="276.05" x2="315.00" y2="281.29"/><line x1="314.30" y1="276.05" x2="315.70" y2="276.05"/><line x1="314.30" y1="281.29" x2="315.70" y2="281.29"/></g>
<rect x="314.15" y="277.82" width="1.70" height="1.70" fill="#333"/>
<g stroke="#4f80b8" stroke-opacity="0.7" stroke-width="0.5"><line x1="323.80" y1="272.90" x2="323.80" y2="278.14"/><line x1="323.10" y1="272.90" x2="324.50" y2="272.90"/><line x1="323.10" y1="278.14" x2="324.50" y2="278.14"/></g>
<rect x="322.95" y="274.67" width="1.70" height="1.70" fill="#333"/>
<g stroke="#4f80b8" stroke-opacity="0.7" stroke-width="0.5"><line x1="333.00" y1="266.61" x2="333.00" y2="271.85"/><line x1="332.30" y1="266.61" x2="333.70" y2="266.61"/><line x1="332.30" y1="271.85" x2="333.70" y2="271.85"/></g>
<rect x="332.15" y="268.38" width="1.70" height="1.70" fill="#333"/>
<g stroke="#4f80b8" stroke-opacity="0.7" stroke-width="0.5"><line x1="341.80" y1="278.14" x2="341.80" y2="283.38"/><line x1="341.10" y1="278.14" x2="342.50" y2="278.14"/><line x1="341.10" y1="283.38" x2="342.50" y2="283.38"/></g>
<rect x="340.95" y="279.91" width="1.70" height="1.70" fill="#333"/>
<g stroke="#4f80b8" stroke-opacity="0.7" stroke-width="0.5"><line x1="350.90" y1="311.69" x2="350.90" y2="314.83"/><line x1="350.20" y1="311.69" x2="351.60" y2="311.69"/><line x1="350.20" y1="314.83" x2="351.60" y2="314.83"/></g>
<rect x="350.05" y="312.41" width="1.70" height="1.70" fill="#333"/>
<polyline points="433.20,264.46 434.46,264.46 435.72,264.46 436.98,264.47 438.24,264.47 439.51,264.47 440.77,264.47 442.03,264.47 443.29,264.48 444.55,264.48 445.81,264.49 447.07,264.50 448.33,264.51 449.59,264.54 450.86,264.57 452.12,264.62 453.38,264.68 454.64,264.78 455.90,264.92 457.16,265.13 458.42,265.42 459.68,265.83 460.94,266.42 462.21,267.25 463.47,268.40 464.73,269.99 465.99,272.13 467.25,274.93 468.51,278.46 469.77,282.72 471.03,287.60 472.29,292.84 473.56,298.10 474.82,303.06 476.08,307.44 477.34,311.10 478.60,314.01" fill="none" stroke="#4a9aa6" stroke-width="0.75"/>
<polyline points="433.20,264.47 434.46,264.47 435.72,264.47 436.98,264.47 438.24,264.48 439.51,264.49 440.77,264.50 442.03,264.51 443.29,264.53 444.55,264.56 445.81,264.60 447.07,264.66 448.33,264.74 449.59,264.86 450.86,265.03 452.12,265.27 453.38,265.62 454.64,266.10 455.90,266.78 457.16,267.73 458.42,269.04 459.68,270.81 460.94,273.14 462.21,276.14 463.47,279.86 464.73,284.24 465.99,289.15 467.25,294.31 468.51,299.41 469.77,304.13 471.03,308.26 472.29,311.69 473.56,314.42 474.82,316.52 476.08,318.09 477.34,319.24 478.60,320.08" fill="none" stroke="#79c096" stroke-width="0.75"/>
<polyline points="433.20,264.67 434.46,264.74 435.72,264.83 436.98,264.96 438.24,265.12 439.51,265.33 440.77,265.61 442.03,265.99 443.29,266.47 444.55,267.11 445.81,267.94 447.07,269.00 448.33,270.35 449.59,272.04 450.86,274.14 452.12,276.67 453.38,279.65 454.64,283.07 455.90,286.84 457.16,290.87 458.42,294.99 459.68,299.04 460.94,302.87 462.21,306.35 463.47,309.41 464.73,312.02 465.99,314.19 467.25,315.95 468.51,317.36 469.77,318.46 471.03,319.33 472.29,319.99 473.56,320.50 474.82,320.89 476.08,321.19 477.34,321.41 478.60,321.58" fill="none" stroke="#e05a78" stroke-width="0.75"/>
<g stroke="#79c096" stroke-opacity="0.7" stroke-width="0.5"><line x1="433.20" y1="284.06" x2="433.20" y2="293.28"/><line x1="432.50" y1="284.06" x2="433.90" y2="284.06"/><line x1="432.50" y1="293.28" x2="433.90" y2="293.28"/></g>
<rect x="432.70" y="288.17" width="1.00" height="1.00" fill="#7a7"/>
<g stroke="#79c096" stroke-opacity="0.7" stroke-width="0.5"><line x1="442.30" y1="277.14" x2="442.30" y2="286.37"/><line x1="441.60" y1="277.14" x2="443.00" y2="277.14"/><line x1="441.60" y1="286.37" x2="443.00" y2="286.37"/></g>
<rect x="441.80" y="281.25" width="1.00" height="1.00" fill="#7a7"/>
<g stroke="#79c096" stroke-opacity="0.7" stroke-width="0.5"><line x1="460.60" y1="262.16" x2="460.60" y2="266.77"/><line x1="459.90" y1="262.16" x2="461.30" y2="262.16"/><line x1="459.90" y1="266.77" x2="461.30" y2="266.77"/></g>
<rect x="460.10" y="263.96" width="1.00" height="1.00" fill="#7a7"/>
<g stroke="#79c096" stroke-opacity="0.7" stroke-width="0.5"><line x1="469.80" y1="302.50" x2="469.80" y2="305.96"/><line x1="469.10" y1="302.50" x2="470.50" y2="302.50"/><line x1="469.10" y1="305.96" x2="470.50" y2="305.96"/></g>
<rect x="469.30" y="303.73" width="1.00" height="1.00" fill="#7a7"/>
<g stroke="#e05a78" stroke-opacity="0.7" stroke-width="0.5"><line x1="433.20" y1="265.04" x2="433.20" y2="269.65"/><line x1="432.50" y1="265.04" x2="433.90" y2="265.04"/><line x1="432.50" y1="269.65" x2="433.90" y2="269.65"/></g>
<rect x="432.30" y="266.45" width="1.80" height="1.80" fill="#333"/>
<g stroke="#e05a78" stroke-opacity="0.7" stroke-width="0.5"><line x1="442.30" y1="261.01" x2="442.30" y2="267.92"/><line x1="441.60" y1="261.01" x2="443.00" y2="261.01"/><line x1="441.60" y1="267.92" x2="443.00" y2="267.92"/></g>
<rect x="441.40" y="263.56" width="1.80" height="1.80" fill="#333"/>
<g stroke="#e05a78" stroke-opacity="0.7" stroke-width="0.5"><line x1="451.50" y1="273.11" x2="451.50" y2="277.72"/><line x1="450.80" y1="273.11" x2="452.20" y2="273.11"/><line x1="450.80" y1="277.72" x2="452.20" y2="277.72"/></g>
<rect x="450.60" y="274.51" width="1.80" height="1.80" fill="#333"/>
<g stroke="#e05a78" stroke-opacity="0.7" stroke-width="0.5"><line x1="460.60" y1="300.20" x2="460.60" y2="303.66"/><line x1="459.90" y1="300.20" x2="461.30" y2="300.20"/><line x1="459.90" y1="303.66" x2="461.30" y2="303.66"/></g>
<rect x="459.70" y="301.03" width="1.80" height="1.80" fill="#333"/>
<g stroke="#4f80b8" stroke-opacity="0.7" stroke-width="0.5"><line x1="433.20" y1="266.77" x2="433.20" y2="285.21"/><line x1="432.50" y1="266.77" x2="433.90" y2="266.77"/><line x1="432.50" y1="285.21" x2="433.90" y2="285.21"/></g>
<rect x="432.30" y="275.09" width="1.80" height="1.80" fill="#333"/>
<g stroke="#4f80b8" stroke-opacity="0.7" stroke-width="0.5"><line x1="442.30" y1="266.77" x2="442.30" y2="280.60"/><line x1="441.60" y1="266.77" x2="443.00" y2="266.77"/><line x1="441.60" y1="280.60" x2="443.00" y2="280.60"/></g>
<rect x="441.40" y="272.79" width="1.80" height="1.80" fill="#333"/>
<g stroke="#4f80b8" stroke-opacity="0.7" stroke-width="0.5"><line x1="451.50" y1="263.31" x2="451.50" y2="265.62"/><line x1="450.80" y1="263.31" x2="452.20" y2="263.31"/><line x1="450.80" y1="265.62" x2="452.20" y2="265.62"/></g>
<rect x="450.60" y="263.56" width="1.80" height="1.80" fill="#333"/>
<g stroke="#4f80b8" stroke-opacity="0.7" stroke-width="0.5"><line x1="460.60" y1="272.53" x2="460.60" y2="278.30"/><line x1="459.90" y1="272.53" x2="461.30" y2="272.53"/><line x1="459.90" y1="278.30" x2="461.30" y2="278.30"/></g>
<rect x="459.70" y="274.51" width="1.80" height="1.80" fill="#333"/>
<g stroke="#4f80b8" stroke-opacity="0.7" stroke-width="0.5"><line x1="469.80" y1="280.60" x2="469.80" y2="285.21"/><line x1="469.10" y1="280.60" x2="470.50" y2="280.60"/><line x1="469.10" y1="285.21" x2="470.50" y2="285.21"/></g>
<rect x="468.90" y="282.01" width="1.80" height="1.80" fill="#333"/>
<g stroke="#4f80b8" stroke-opacity="0.7" stroke-width="0.5"><line x1="478.60" y1="320.37" x2="478.60" y2="321.52"/><line x1="477.90" y1="320.37" x2="479.30" y2="320.37"/><line x1="477.90" y1="321.52" x2="479.30" y2="321.52"/></g>
<rect x="477.70" y="320.05" width="1.80" height="1.80" fill="#333"/>
<polyline points="48.80,440.97 50.05,440.97 51.31,440.97 52.56,440.98 53.81,440.99 55.06,440.99 56.32,441.01 57.57,441.02 58.82,441.04 60.08,441.06 61.33,441.09 62.58,441.13 63.83,441.17 65.09,441.24 66.34,441.31 67.59,441.41 68.84,441.54 70.10,441.70 71.35,441.90 72.60,442.16 73.86,442.49 75.11,442.90 76.36,443.42 77.61,444.07 78.87,444.88 80.12,445.88 81.37,447.10 82.62,448.59 83.88,450.37 85.13,452.46 86.38,454.89 87.64,457.65 88.89,460.70 90.14,464.00 91.39,467.46 92.65,470.99 93.90,474.48" fill="none" stroke="#79c096" stroke-width="0.75"/>
<polyline points="48.80,440.96 50.05,440.96 51.31,440.97 52.56,440.97 53.81,440.98 55.06,440.98 56.32,441.00 57.57,441.01 58.82,441.03 60.08,441.06 61.33,441.10 62.58,441.16 63.83,441.23 65.09,441.34 66.34,441.48 67.59,441.68 68.84,441.95 70.10,442.32 71.35,442.82 72.60,443.49 73.86,444.40 75.11,445.59 76.36,447.16 77.61,449.18 78.87,451.71 80.12,454.81 81.37,458.46 82.62,462.59 83.88,467.07 85.13,471.68 86.38,476.19 87.64,480.39 88.89,484.13 90.14,487.31 91.39,489.92 92.65,492.01 93.90,493.65" fill="none" stroke="#e05a78" stroke-width="0.75"/>
<polyline points="48.80,450.16 58.00,446.13 66.80,441.53 75.90,445.56 84.80,443.26 93.90,453.04" fill="none" stroke="#4f80b8" stroke-width="0.75"/>
<g stroke="#79c096" stroke-opacity="0.7" stroke-width="0.5"><line x1="66.80" y1="439.23" x2="66.80" y2="442.68"/><line x1="66.10" y1="439.23" x2="67.50" y2="439.23"/><line x1="66.10" y1="442.68" x2="67.50" y2="442.68"/></g>
<rect x="66.20" y="440.35" width="1.20" height="1.20" fill="#7a7"/>
<g stroke="#79c096" stroke-opacity="0.7" stroke-width="0.5"><line x1="75.90" y1="441.53" x2="75.90" y2="444.98"/><line x1="75.20" y1="441.53" x2="76.60" y2="441.53"/><line x1="75.20" y1="444.98" x2="76.60" y2="444.98"/></g>
<rect x="75.30" y="442.66" width="1.20" height="1.20" fill="#7a7"/>
<g stroke="#79c096" stroke-opacity="0.7" stroke-width="0.5"><line x1="84.80" y1="449.01" x2="84.80" y2="454.77"/><line x1="84.10" y1="449.01" x2="85.50" y2="449.01"/><line x1="84.10" y1="454.77" x2="85.50" y2="454.77"/></g>
<rect x="84.20" y="451.29" width="1.20" height="1.20" fill="#7a7"/>
<g stroke="#79c096" stroke-opacity="0.7" stroke-width="0.5"><line x1="93.90" y1="471.45" x2="93.90" y2="477.21"/><line x1="93.20" y1="471.45" x2="94.60" y2="471.45"/><line x1="93.20" y1="477.21" x2="94.60" y2="477.21"/></g>
<rect x="93.30" y="473.73" width="1.20" height="1.20" fill="#7a7"/>
<g stroke="#e05a78" stroke-opacity="0.7" stroke-width="0.5"><line x1="48.80" y1="436.93" x2="48.80" y2="446.13"/><line x1="48.10" y1="436.93" x2="49.50" y2="436.93"/><line x1="48.10" y1="446.13" x2="49.50" y2="446.13"/></g>
<rect x="47.90" y="440.63" width="1.80" height="1.80" fill="#333"/>
<g stroke="#e05a78" stroke-opacity="0.7" stroke-width="0.5"><line x1="58.00" y1="438.65" x2="58.00" y2="445.56"/><line x1="57.30" y1="438.65" x2="58.70" y2="438.65"/><line x1="57.30" y1="445.56" x2="58.70" y2="445.56"/></g>
<rect x="57.10" y="441.21" width="1.80" height="1.80" fill="#333"/>
<g stroke="#e05a78" stroke-opacity="0.7" stroke-width="0.5"><line x1="66.80" y1="442.11" x2="66.80" y2="447.86"/><line x1="66.10" y1="442.11" x2="67.50" y2="442.11"/><line x1="66.10" y1="447.86" x2="67.50" y2="447.86"/></g>
<rect x="65.90" y="444.08" width="1.80" height="1.80" fill="#333"/>
<g stroke="#e05a78" stroke-opacity="0.7" stroke-width="0.5"><line x1="75.90" y1="446.71" x2="75.90" y2="452.46"/><line x1="75.20" y1="446.71" x2="76.60" y2="446.71"/><line x1="75.20" y1="452.46" x2="76.60" y2="452.46"/></g>
<rect x="75.00" y="448.69" width="1.80" height="1.80" fill="#333"/>
<g stroke="#e05a78" stroke-opacity="0.7" stroke-width="0.5"><line x1="84.80" y1="468.58" x2="84.80" y2="472.03"/><line x1="84.10" y1="468.58" x2="85.50" y2="468.58"/><line x1="84.10" y1="472.03" x2="85.50" y2="472.03"/></g>
<rect x="83.90" y="469.40" width="1.80" height="1.80" fill="#333"/>
<g stroke="#e05a78" stroke-opacity="0.7" stroke-width="0.5"><line x1="93.90" y1="492.46" x2="93.90" y2="494.76"/><line x1="93.20" y1="492.46" x2="94.60" y2="492.46"/><line x1="93.20" y1="494.76" x2="94.60" y2="494.76"/></g>
<rect x="93.00" y="492.71" width="1.80" height="1.80" fill="#333"/>
<g stroke="#4f80b8" stroke-opacity="0.7" stroke-width="0.5"><line x1="48.80" y1="448.44" x2="48.80" y2="451.89"/><line x1="48.10" y1="448.44" x2="49.50" y2="448.44"/><line x1="48.10" y1="451.89" x2="49.50" y2="451.89"/></g>
<rect x="47.90" y="449.26" width="1.80" height="1.80" fill="#333"/>
<g stroke="#4f80b8" stroke-opacity="0.7" stroke-width="0.5"><line x1="58.00" y1="444.41" x2="58.00" y2="447.86"/><line x1="57.30" y1="444.41" x2="58.70" y2="444.41"/><line x1="57.30" y1="447.86" x2="58.70" y2="447.86"/></g>
<rect x="57.10" y="445.23" width="1.80" height="1.80" fill="#333"/>
<g stroke="#4f80b8" stroke-opacity="0.7" stroke-width="0.5"><line x1="66.80" y1="439.80" x2="66.80" y2="443.26"/><line x1="66.10" y1="439.80" x2="67.50" y2="439.80"/><line x1="66.10" y1="443.26" x2="67.50" y2="443.26"/></g>
<rect x="65.90" y="440.63" width="1.80" height="1.80" fill="#333"/>
<g stroke="#4f80b8" stroke-opacity="0.7" stroke-width="0.5"><line x1="75.90" y1="443.83" x2="75.90" y2="447.28"/><line x1="75.20" y1="443.83" x2="76.60" y2="443.83"/><line x1="75.20" y1="447.28" x2="76.60" y2="447.28"/></g>
<rect x="75.00" y="444.66" width="1.80" height="1.80" fill="#333"/>
<g stroke="#4f80b8" stroke-opacity="0.7" stroke-width="0.5"><line x1="84.80" y1="442.11" x2="84.80" y2="444.41"/><line x1="84.10" y1="442.11" x2="85.50" y2="442.11"/><line x1="84.10" y1="444.41" x2="85.50" y2="444.41"/></g>
<rect x="83.90" y="442.36" width="1.80" height="1.80" fill="#333"/>
<g stroke="#4f80b8" stroke-opacity="0.7" stroke-width="0.5"><line x1="93.90" y1="451.31" x2="93.90" y2="454.77"/><line x1="93.20" y1="451.31" x2="94.60" y2="451.31"/><line x1="93.20" y1="454.77" x2="94.60" y2="454.77"/></g>
<rect x="93.00" y="452.14" width="1.80" height="1.80" fill="#333"/>
<polyline points="177.20,442.68 178.40,442.68 179.61,442.68 180.81,442.68 182.01,442.69 183.21,442.69 184.42,442.69 185.62,442.69 186.82,442.69 188.02,442.70 189.23,442.70 190.43,442.71 191.63,442.72 192.84,442.73 194.04,442.74 195.24,442.76 196.44,442.79 197.65,442.83 198.85,442.88 200.05,442.94 201.26,443.03 202.46,443.14 203.66,443.29 204.86,443.49 206.07,443.76 207.27,444.10 208.47,444.56 209.68,445.15 210.88,445.92 212.08,446.91 213.28,448.18 214.49,449.76 215.69,451.73 216.89,454.10 218.09,456.90 219.30,460.12 220.50,463.69" fill="none" stroke="#4f80b8" stroke-width="0.75"/>
<polyline points="177.20,442.71 178.40,442.72 179.61,442.73 180.81,442.75 182.01,442.76 183.21,442.79 184.42,442.82 185.62,442.85 186.82,442.90 188.02,442.96 189.23,443.04 190.43,443.13 191.63,443.26 192.84,443.41 194.04,443.61 195.24,443.86 196.44,444.17 197.65,444.56 198.85,445.06 200.05,445.67 201.26,446.44 202.46,447.38 203.66,448.53 204.86,449.92 206.07,451.59 207.27,453.55 208.47,455.82 209.68,458.39 210.88,461.24 212.08,464.32 213.28,467.57 214.49,470.88 215.69,474.17 216.89,477.35 218.09,480.33 219.30,483.05 220.50,485.48" fill="none" stroke="#79c096" stroke-width="0.75"/>
<polyline points="177.20,442.72 178.40,442.73 179.61,442.74 180.81,442.77 182.01,442.79 183.21,442.83 184.42,442.87 185.62,442.94 186.82,443.02 188.02,443.13 189.23,443.27 190.43,443.45 191.63,443.70 192.84,444.02 194.04,444.44 195.24,444.98 196.44,445.68 197.65,446.58 198.85,447.72 200.05,449.15 201.26,450.93 202.46,453.08 203.66,455.65 204.86,458.62 206.07,461.95 207.27,465.57 208.47,469.37 209.68,473.19 210.88,476.89 212.08,480.34 213.28,483.46 214.49,486.18 215.69,488.48 216.89,490.40 218.09,491.96 219.30,493.20 220.50,494.19" fill="none" stroke="#e05a78" stroke-width="0.75"/>
<g stroke="#79c096" stroke-opacity="0.7" stroke-width="0.5"><line x1="177.20" y1="454.19" x2="177.20" y2="462.96"/><line x1="176.50" y1="454.19" x2="177.90" y2="454.19"/><line x1="176.50" y1="462.96" x2="177.90" y2="462.96"/></g>
<rect x="176.60" y="457.98" width="1.20" height="1.20" fill="#7a7"/>
<g stroke="#79c096" stroke-opacity="0.7" stroke-width="0.5"><line x1="185.90" y1="449.81" x2="185.90" y2="455.29"/><line x1="185.20" y1="449.81" x2="186.60" y2="449.81"/><line x1="185.20" y1="455.29" x2="186.60" y2="455.29"/></g>
<rect x="185.30" y="451.95" width="1.20" height="1.20" fill="#7a7"/>
<g stroke="#79c096" stroke-opacity="0.7" stroke-width="0.5"><line x1="194.50" y1="447.07" x2="194.50" y2="452.55"/><line x1="193.80" y1="447.07" x2="195.20" y2="447.07"/><line x1="193.80" y1="452.55" x2="195.20" y2="452.55"/></g>
<rect x="193.90" y="449.21" width="1.20" height="1.20" fill="#7a7"/>
<g stroke="#79c096" stroke-opacity="0.7" stroke-width="0.5"><line x1="211.80" y1="460.77" x2="211.80" y2="466.25"/><line x1="211.10" y1="460.77" x2="212.50" y2="460.77"/><line x1="211.10" y1="466.25" x2="212.50" y2="466.25"/></g>
<rect x="211.20" y="462.91" width="1.20" height="1.20" fill="#7a7"/>
<g stroke="#79c096" stroke-opacity="0.7" stroke-width="0.5"><line x1="220.50" y1="479.41" x2="220.50" y2="483.80"/><line x1="219.80" y1="479.41" x2="221.20" y2="479.41"/><line x1="219.80" y1="483.80" x2="221.20" y2="483.80"/></g>
<rect x="219.90" y="481.00" width="1.20" height="1.20" fill="#7a7"/>
<g stroke="#e05a78" stroke-opacity="0.7" stroke-width="0.5"><line x1="177.20" y1="448.71" x2="177.20" y2="454.19"/><line x1="176.50" y1="448.71" x2="177.90" y2="448.71"/><line x1="176.50" y1="454.19" x2="177.90" y2="454.19"/></g>
<rect x="176.30" y="450.55" width="1.80" height="1.80" fill="#333"/>
<g stroke="#e05a78" stroke-opacity="0.7" stroke-width="0.5"><line x1="185.90" y1="442.68" x2="185.90" y2="448.16"/><line x1="185.20" y1="442.68" x2="186.60" y2="442.68"/><line x1="185.20" y1="448.16" x2="186.60" y2="448.16"/></g>
<rect x="185.00" y="444.52" width="1.80" height="1.80" fill="#333"/>
<g stroke="#e05a78" stroke-opacity="0.7" stroke-width="0.5"><line x1="194.50" y1="437.75" x2="194.50" y2="448.71"/><line x1="193.80" y1="437.75" x2="195.20" y2="437.75"/><line x1="193.80" y1="448.71" x2="195.20" y2="448.71"/></g>
<rect x="193.60" y="442.33" width="1.80" height="1.80" fill="#333"/>
<g stroke="#e05a78" stroke-opacity="0.7" stroke-width="0.5"><line x1="203.30" y1="461.32" x2="203.30" y2="465.71"/><line x1="202.60" y1="461.32" x2="204.00" y2="461.32"/><line x1="202.60" y1="465.71" x2="204.00" y2="465.71"/></g>
<rect x="202.40" y="462.61" width="1.80" height="1.80" fill="#333"/>
<g stroke="#e05a78" stroke-opacity="0.7" stroke-width="0.5"><line x1="211.80" y1="473.93" x2="211.80" y2="478.31"/><line x1="211.10" y1="473.93" x2="212.50" y2="473.93"/><line x1="211.10" y1="478.31" x2="212.50" y2="478.31"/></g>
<rect x="210.90" y="475.22" width="1.80" height="1.80" fill="#333"/>
<g stroke="#e05a78" stroke-opacity="0.7" stroke-width="0.5"><line x1="220.50" y1="486.54" x2="220.50" y2="489.83"/><line x1="219.80" y1="486.54" x2="221.20" y2="486.54"/><line x1="219.80" y1="489.83" x2="221.20" y2="489.83"/></g>
<rect x="219.60" y="487.28" width="1.80" height="1.80" fill="#333"/>
<g stroke="#4f80b8" stroke-opacity="0.7" stroke-width="0.5"><line x1="177.20" y1="453.10" x2="177.20" y2="458.58"/><line x1="176.50" y1="453.10" x2="177.90" y2="453.10"/><line x1="176.50" y1="458.58" x2="177.90" y2="458.58"/></g>
<rect x="176.30" y="454.94" width="1.80" height="1.80" fill="#333"/>
<g stroke="#4f80b8" stroke-opacity="0.7" stroke-width="0.5"><line x1="185.90" y1="449.81" x2="185.90" y2="454.19"/><line x1="185.20" y1="449.81" x2="186.60" y2="449.81"/><line x1="185.20" y1="454.19" x2="186.60" y2="454.19"/></g>
<rect x="185.00" y="451.10" width="1.80" height="1.80" fill="#333"/>
<g stroke="#4f80b8" stroke-opacity="0.7" stroke-width="0.5"><line x1="194.50" y1="448.16" x2="194.50" y2="452.55"/><line x1="193.80" y1="448.16" x2="195.20" y2="448.16"/><line x1="193.80" y1="452.55" x2="195.20" y2="452.55"/></g>
<rect x="193.60" y="449.46" width="1.80" height="1.80" fill="#333"/>
<g stroke="#4f80b8" stroke-opacity="0.7" stroke-width="0.5"><line x1="203.30" y1="441.59" x2="203.30" y2="444.87"/><line x1="202.60" y1="441.59" x2="204.00" y2="441.59"/><line x1="202.60" y1="444.87" x2="204.00" y2="444.87"/></g>
<rect x="202.40" y="442.33" width="1.80" height="1.80" fill="#333"/>
<g stroke="#4f80b8" stroke-opacity="0.7" stroke-width="0.5"><line x1="211.80" y1="448.71" x2="211.80" y2="450.90"/><line x1="211.10" y1="448.71" x2="212.50" y2="448.71"/><line x1="211.10" y1="450.90" x2="212.50" y2="450.90"/></g>
<rect x="210.90" y="448.91" width="1.80" height="1.80" fill="#333"/>
<g stroke="#4f80b8" stroke-opacity="0.7" stroke-width="0.5"><line x1="220.50" y1="460.77" x2="220.50" y2="464.06"/><line x1="219.80" y1="460.77" x2="221.20" y2="460.77"/><line x1="219.80" y1="464.06" x2="221.20" y2="464.06"/></g>
<rect x="219.60" y="461.52" width="1.80" height="1.80" fill="#333"/>
<polyline points="306.20,441.47 307.48,441.47 308.76,441.47 310.03,441.47 311.31,441.47 312.59,441.47 313.87,441.48 315.14,441.48 316.42,441.48 317.70,441.48 318.98,441.48 320.26,441.49 321.53,441.49 322.81,441.50 324.09,441.51 325.37,441.52 326.64,441.54 327.92,441.56 329.20,441.59 330.48,441.63 331.76,441.68 333.03,441.76 334.31,441.86 335.59,441.99 336.87,442.18 338.14,442.42 339.42,442.75 340.70,443.19 341.98,443.78 343.26,444.56 344.53,445.58 345.81,446.91 347.09,448.60 348.37,450.74 349.64,453.37 350.92,456.52 352.20,460.16" fill="none" stroke="#4f80b8" stroke-width="0.75"/>
<polyline points="306.20,441.48 307.48,441.48 308.76,441.48 310.03,441.48 311.31,441.48 312.59,441.49 313.87,441.49 315.14,441.50 316.42,441.51 317.70,441.53 318.98,441.55 320.26,441.58 321.53,441.62 322.81,441.68 324.09,441.76 325.37,441.87 326.64,442.03 327.92,442.24 329.20,442.54 330.48,442.95 331.76,443.51 333.03,444.27 334.31,445.29 335.59,446.66 336.87,448.45 338.14,450.76 339.42,453.65 340.70,457.15 341.98,461.23 343.26,465.77 344.53,470.58 345.81,475.41 347.09,479.99 348.37,484.13 349.64,487.69 350.92,490.64 352.20,493.01" fill="none" stroke="#dcd5cd" stroke-width="2.2"/>
<polyline points="306.20,441.48 307.48,441.48 308.76,441.48 310.03,441.48 311.31,441.49 312.59,441.49 313.87,441.50 315.14,441.51 316.42,441.52 317.70,441.54 318.98,441.56 320.26,441.60 321.53,441.65 322.81,441.72 324.09,441.82 325.37,441.95 326.64,442.14 327.92,442.39 329.20,442.75 330.48,443.23 331.76,443.89 333.03,444.79 334.31,445.99 335.59,447.58 336.87,449.65 338.14,452.26 339.42,455.49 340.70,459.32 341.98,463.67 343.26,468.39 344.53,473.24 345.81,477.96 347.09,482.32 348.37,486.15 349.64,489.38 350.92,492.01 352.20,494.07" fill="none" stroke="#eaa2ac" stroke-width="0.5"/>
<g stroke="#79c096" stroke-opacity="0.7" stroke-width="0.5"><line x1="343.10" y1="462.03" x2="343.10" y2="466.73"/><line x1="342.40" y1="462.03" x2="343.80" y2="462.03"/><line x1="342.40" y1="466.73" x2="343.80" y2="466.73"/></g>
<rect x="342.50" y="463.78" width="1.20" height="1.20" fill="#9a9"/>
<g stroke="#79c096" stroke-opacity="0.7" stroke-width="0.5"><line x1="352.20" y1="491.39" x2="352.20" y2="494.91"/><line x1="351.50" y1="491.39" x2="352.90" y2="491.39"/><line x1="351.50" y1="494.91" x2="352.90" y2="494.91"/></g>
<rect x="351.60" y="492.55" width="1.20" height="1.20" fill="#9a9"/>
<g stroke="#e05a78" stroke-opacity="0.7" stroke-width="0.5"><line x1="306.20" y1="442.65" x2="306.20" y2="447.35"/><line x1="305.50" y1="442.65" x2="306.90" y2="442.65"/><line x1="305.50" y1="447.35" x2="306.90" y2="447.35"/></g>
<rect x="305.30" y="444.10" width="1.80" height="1.80" fill="#333"/>
<g stroke="#e05a78" stroke-opacity="0.7" stroke-width="0.5"><line x1="315.60" y1="440.30" x2="315.60" y2="446.17"/><line x1="314.90" y1="440.30" x2="316.30" y2="440.30"/><line x1="314.90" y1="446.17" x2="316.30" y2="446.17"/></g>
<rect x="314.70" y="442.33" width="1.80" height="1.80" fill="#333"/>
<g stroke="#e05a78" stroke-opacity="0.7" stroke-width="0.5"><line x1="324.80" y1="438.54" x2="324.80" y2="444.41"/><line x1="324.10" y1="438.54" x2="325.50" y2="438.54"/><line x1="324.10" y1="444.41" x2="325.50" y2="444.41"/></g>
<rect x="323.90" y="440.57" width="1.80" height="1.80" fill="#333"/>
<g stroke="#e05a78" stroke-opacity="0.7" stroke-width="0.5"><line x1="333.90" y1="447.93" x2="333.90" y2="451.46"/><line x1="333.20" y1="447.93" x2="334.60" y2="447.93"/><line x1="333.20" y1="451.46" x2="334.60" y2="451.46"/></g>
<rect x="333.00" y="448.79" width="1.80" height="1.80" fill="#333"/>
<g stroke="#e05a78" stroke-opacity="0.7" stroke-width="0.5"><line x1="343.10" y1="467.90" x2="343.10" y2="471.42"/><line x1="342.40" y1="467.90" x2="343.80" y2="467.90"/><line x1="342.40" y1="471.42" x2="343.80" y2="471.42"/></g>
<rect x="342.20" y="468.76" width="1.80" height="1.80" fill="#333"/>
<g stroke="#e05a78" stroke-opacity="0.7" stroke-width="0.5"><line x1="352.20" y1="496.09" x2="352.20" y2="498.44"/><line x1="351.50" y1="496.09" x2="352.90" y2="496.09"/><line x1="351.50" y1="498.44" x2="352.90" y2="498.44"/></g>
<rect x="351.30" y="496.36" width="1.80" height="1.80" fill="#333"/>
<g stroke="#4f80b8" stroke-opacity="0.7" stroke-width="0.5"><line x1="306.20" y1="446.76" x2="306.20" y2="450.28"/><line x1="305.50" y1="446.76" x2="306.90" y2="446.76"/><line x1="305.50" y1="450.28" x2="306.90" y2="450.28"/></g>
<rect x="305.30" y="447.62" width="1.80" height="1.80" fill="#333"/>
<g stroke="#4f80b8" stroke-opacity="0.7" stroke-width="0.5"><line x1="315.60" y1="445.58" x2="315.60" y2="449.11"/><line x1="314.90" y1="445.58" x2="316.30" y2="445.58"/><line x1="314.90" y1="449.11" x2="316.30" y2="449.11"/></g>
<rect x="314.70" y="446.45" width="1.80" height="1.80" fill="#333"/>
<g stroke="#4f80b8" stroke-opacity="0.7" stroke-width="0.5"><line x1="324.80" y1="443.82" x2="324.80" y2="447.35"/><line x1="324.10" y1="443.82" x2="325.50" y2="443.82"/><line x1="324.10" y1="447.35" x2="325.50" y2="447.35"/></g>
<rect x="323.90" y="444.68" width="1.80" height="1.80" fill="#333"/>
<g stroke="#4f80b8" stroke-opacity="0.7" stroke-width="0.5"><line x1="333.90" y1="440.89" x2="333.90" y2="443.23"/><line x1="333.20" y1="440.89" x2="334.60" y2="440.89"/><line x1="333.20" y1="443.23" x2="334.60" y2="443.23"/></g>
<rect x="333.00" y="441.16" width="1.80" height="1.80" fill="#333"/>
<g stroke="#4f80b8" stroke-opacity="0.7" stroke-width="0.5"><line x1="343.10" y1="445.58" x2="343.10" y2="447.93"/><line x1="342.40" y1="445.58" x2="343.80" y2="445.58"/><line x1="342.40" y1="447.93" x2="343.80" y2="447.93"/></g>
<rect x="342.20" y="445.86" width="1.80" height="1.80" fill="#333"/>
<g stroke="#4f80b8" stroke-opacity="0.7" stroke-width="0.5"><line x1="352.20" y1="459.09" x2="352.20" y2="461.44"/><line x1="351.50" y1="459.09" x2="352.90" y2="459.09"/><line x1="351.50" y1="461.44" x2="352.90" y2="461.44"/></g>
<rect x="351.30" y="459.37" width="1.80" height="1.80" fill="#333"/>
<polyline points="433.40,442.78 434.66,442.79 435.93,442.79 437.19,442.79 438.46,442.79 439.72,442.80 440.98,442.80 442.25,442.81 443.51,442.82 444.77,442.83 446.04,442.84 447.30,442.86 448.57,442.89 449.83,442.93 451.09,442.99 452.36,443.06 453.62,443.15 454.89,443.28 456.15,443.46 457.41,443.69 458.68,444.00 459.94,444.42 461.21,444.97 462.47,445.70 463.73,446.65 465.00,447.89 466.26,449.48 467.52,451.47 468.79,453.94 470.05,456.90 471.32,460.35 472.58,464.23 473.84,468.42 475.11,472.75 476.37,477.04 477.64,481.10 478.90,484.78" fill="none" stroke="#4f80b8" stroke-width="0.75"/>
<polyline points="433.40,442.79 434.66,442.79 435.93,442.79 437.19,442.80 438.46,442.80 439.72,442.81 440.98,442.82 442.25,442.83 443.51,442.85 444.77,442.88 446.04,442.92 447.30,442.97 448.57,443.05 449.83,443.15 451.09,443.30 452.36,443.50 453.62,443.78 454.89,444.16 456.15,444.68 457.41,445.40 458.68,446.37 459.94,447.66 461.21,449.37 462.47,451.57 463.73,454.35 465.00,457.73 466.26,461.70 467.52,466.15 468.79,470.89 470.05,475.67 471.32,480.24 472.58,484.39 473.84,487.97 475.11,490.95 476.37,493.34 477.64,495.20 478.90,496.62" fill="none" stroke="#79c096" stroke-width="0.75"/>
<polyline points="433.40,442.81 434.66,442.82 435.93,442.83 437.19,442.85 438.46,442.88 439.72,442.92 440.98,442.97 442.25,443.06 443.51,443.17 444.77,443.33 446.04,443.56 447.30,443.88 448.57,444.33 449.83,444.96 451.09,445.82 452.36,447.01 453.62,448.61 454.89,450.73 456.15,453.45 457.41,456.85 458.68,460.91 459.94,465.53 461.21,470.51 462.47,475.56 463.73,480.38 465.00,484.72 466.26,488.44 467.52,491.47 468.79,493.86 470.05,495.68 471.32,497.05 472.58,498.05 473.84,498.78 475.11,499.31 476.37,499.69 477.64,499.95 478.90,500.14" fill="none" stroke="#e05a78" stroke-width="0.75"/>
<g stroke="#79c096" stroke-opacity="0.7" stroke-width="0.5"><line x1="433.40" y1="441.05" x2="433.40" y2="450.30"/><line x1="432.70" y1="441.05" x2="434.10" y2="441.05"/><line x1="432.70" y1="450.30" x2="434.10" y2="450.30"/></g>
<rect x="432.80" y="445.07" width="1.20" height="1.20" fill="#7a7"/>
<g stroke="#79c096" stroke-opacity="0.7" stroke-width="0.5"><line x1="442.60" y1="439.31" x2="442.60" y2="446.25"/><line x1="441.90" y1="439.31" x2="443.30" y2="439.31"/><line x1="441.90" y1="446.25" x2="443.30" y2="446.25"/></g>
<rect x="442.00" y="442.18" width="1.20" height="1.20" fill="#7a7"/>
<g stroke="#79c096" stroke-opacity="0.7" stroke-width="0.5"><line x1="451.50" y1="439.89" x2="451.50" y2="445.67"/><line x1="450.80" y1="439.89" x2="452.20" y2="439.89"/><line x1="450.80" y1="445.67" x2="452.20" y2="445.67"/></g>
<rect x="450.90" y="442.18" width="1.20" height="1.20" fill="#7a7"/>
<g stroke="#79c096" stroke-opacity="0.7" stroke-width="0.5"><line x1="469.80" y1="465.33" x2="469.80" y2="472.27"/><line x1="469.10" y1="465.33" x2="470.50" y2="465.33"/><line x1="469.10" y1="472.27" x2="470.50" y2="472.27"/></g>
<rect x="469.20" y="468.20" width="1.20" height="1.20" fill="#7a7"/>
<g stroke="#79c096" stroke-opacity="0.7" stroke-width="0.5"><line x1="478.90" y1="487.30" x2="478.90" y2="490.77"/><line x1="478.20" y1="487.30" x2="479.60" y2="487.30"/><line x1="478.20" y1="490.77" x2="479.60" y2="490.77"/></g>
<rect x="478.30" y="488.44" width="1.20" height="1.20" fill="#7a7"/>
<g stroke="#e05a78" stroke-opacity="0.7" stroke-width="0.5"><line x1="433.40" y1="438.16" x2="433.40" y2="447.41"/><line x1="432.70" y1="438.16" x2="434.10" y2="438.16"/><line x1="432.70" y1="447.41" x2="434.10" y2="447.41"/></g>
<rect x="432.50" y="441.88" width="1.80" height="1.80" fill="#333"/>
<g stroke="#e05a78" stroke-opacity="0.7" stroke-width="0.5"><line x1="442.60" y1="438.73" x2="442.60" y2="446.83"/><line x1="441.90" y1="438.73" x2="443.30" y2="438.73"/><line x1="441.90" y1="446.83" x2="443.30" y2="446.83"/></g>
<rect x="441.70" y="441.88" width="1.80" height="1.80" fill="#333"/>
<g stroke="#e05a78" stroke-opacity="0.7" stroke-width="0.5"><line x1="451.50" y1="438.73" x2="451.50" y2="452.61"/><line x1="450.80" y1="438.73" x2="452.20" y2="438.73"/><line x1="450.80" y1="452.61" x2="452.20" y2="452.61"/></g>
<rect x="450.60" y="444.77" width="1.80" height="1.80" fill="#333"/>
<g stroke="#e05a78" stroke-opacity="0.7" stroke-width="0.5"><line x1="460.60" y1="470.53" x2="460.60" y2="475.16"/><line x1="459.90" y1="470.53" x2="461.30" y2="470.53"/><line x1="459.90" y1="475.16" x2="461.30" y2="475.16"/></g>
<rect x="459.70" y="471.95" width="1.80" height="1.80" fill="#333"/>
<g stroke="#e05a78" stroke-opacity="0.7" stroke-width="0.5"><line x1="469.80" y1="480.36" x2="469.80" y2="487.30"/><line x1="469.10" y1="480.36" x2="470.50" y2="480.36"/><line x1="469.10" y1="487.30" x2="470.50" y2="487.30"/></g>
<rect x="468.90" y="482.93" width="1.80" height="1.80" fill="#333"/>
<g stroke="#e05a78" stroke-opacity="0.7" stroke-width="0.5"><line x1="478.90" y1="491.35" x2="478.90" y2="493.66"/><line x1="478.20" y1="491.35" x2="479.60" y2="491.35"/><line x1="478.20" y1="493.66" x2="479.60" y2="493.66"/></g>
<rect x="478.00" y="491.61" width="1.80" height="1.80" fill="#333"/>
<g stroke="#4f80b8" stroke-opacity="0.7" stroke-width="0.5"><line x1="433.40" y1="446.25" x2="433.40" y2="452.03"/><line x1="432.70" y1="446.25" x2="434.10" y2="446.25"/><line x1="432.70" y1="452.03" x2="434.10" y2="452.03"/></g>
<rect x="432.50" y="448.24" width="1.80" height="1.80" fill="#333"/>
<g stroke="#4f80b8" stroke-opacity="0.7" stroke-width="0.5"><line x1="442.60" y1="439.31" x2="442.60" y2="446.25"/><line x1="441.90" y1="439.31" x2="443.30" y2="439.31"/><line x1="441.90" y1="446.25" x2="443.30" y2="446.25"/></g>
<rect x="441.70" y="441.88" width="1.80" height="1.80" fill="#333"/>
<g stroke="#4f80b8" stroke-opacity="0.7" stroke-width="0.5"><line x1="451.50" y1="443.07" x2="451.50" y2="447.70"/><line x1="450.80" y1="443.07" x2="452.20" y2="443.07"/><line x1="450.80" y1="447.70" x2="452.20" y2="447.70"/></g>
<rect x="450.60" y="444.48" width="1.80" height="1.80" fill="#333"/>
<g stroke="#4f80b8" stroke-opacity="0.7" stroke-width="0.5"><line x1="460.60" y1="443.36" x2="460.60" y2="445.67"/><line x1="459.90" y1="443.36" x2="461.30" y2="443.36"/><line x1="459.90" y1="445.67" x2="461.30" y2="445.67"/></g>
<rect x="459.70" y="443.62" width="1.80" height="1.80" fill="#333"/>
<g stroke="#4f80b8" stroke-opacity="0.7" stroke-width="0.5"><line x1="469.80" y1="461.28" x2="469.80" y2="464.75"/><line x1="469.10" y1="461.28" x2="470.50" y2="461.28"/><line x1="469.10" y1="464.75" x2="470.50" y2="464.75"/></g>
<rect x="468.90" y="462.12" width="1.80" height="1.80" fill="#333"/>
<g stroke="#4f80b8" stroke-opacity="0.7" stroke-width="0.5"><line x1="478.90" y1="476.89" x2="478.90" y2="479.21"/><line x1="478.20" y1="476.89" x2="479.60" y2="476.89"/><line x1="478.20" y1="479.21" x2="479.60" y2="479.21"/></g>
<rect x="478.00" y="477.15" width="1.80" height="1.80" fill="#333"/>
<rect x="0.5" y="0.5" width="519" height="539" fill="none" stroke="#555" stroke-width="1"/>
</g></svg>
</body></html>
